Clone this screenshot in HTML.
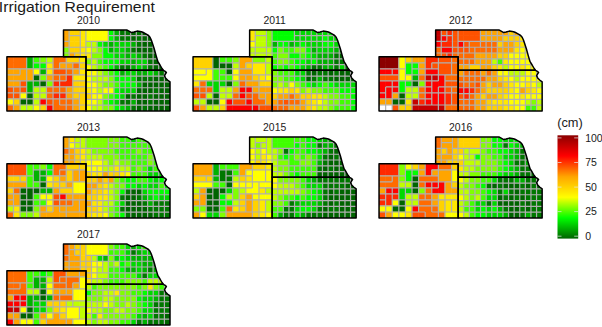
<!DOCTYPE html>
<html><head><meta charset="utf-8"><style>
html,body{margin:0;padding:0;background:#fff;}
body{width:602px;height:327px;overflow:hidden;}
svg{display:block;}
text{font-family:"Liberation Sans",sans-serif;fill:#1a1a1a;}
.yr{font-size:10.4px;text-anchor:middle;}
.lab{font-size:10.5px;}
.cm{font-size:12.8px;}
.title{font-size:14.8px;}
</style></head><body>
<svg width="602" height="327" viewBox="0 0 602 327">
<defs><clipPath id="cNE"><polygon points="63.5,29.9 126.7,29.9 129.0,31.2 131.6,32.6 134.0,32.0 137.1,31.1 141.4,31.7 144.0,32.8 146.3,34.2 148.5,35.5 150.0,37.2 151.3,40.0 152.4,43.3 154.2,48.8 156.1,55.6 157.9,61.7 160.0,65.0 162.0,68.5 163.3,70.3 86.0,70.3 86.0,56.8 63.5,56.8"/></clipPath><clipPath id="cKS"><polygon points="86.0,70.3 163.3,70.3 165.2,71.3 166.4,72.6 165.5,73.8 164.5,75.6 165.5,78.0 167.5,80.0 170.0,81.8 170.0,111.0 86.0,111.0"/></clipPath><clipPath id="cCO"><polygon points="6.9,56.8 86.0,56.8 86.0,111.0 6.9,111.0"/></clipPath><g id="grid" fill="none" stroke="#b0b0b0" stroke-width="1.2"><path clip-path="url(#cKS)" d="M91.60 70.35V111.00M97.20 70.35V111.00M102.80 70.35V111.00M108.40 70.35V111.00M114.00 70.35V111.00M119.60 70.35V111.00M125.20 70.35V111.00M130.80 70.35V111.00M136.40 70.35V111.00M142.00 70.35V111.00M147.60 70.35V111.00M153.20 70.35V111.00M158.80 70.35V111.00M164.40 70.35V111.00M86.00 76.16H170.00M86.00 81.96H170.00M86.00 87.77H170.00M86.00 93.58H170.00M86.00 99.39H170.00M86.00 105.19H170.00"/></g><g id="outl" fill="none" stroke="#000" stroke-width="1.5" stroke-linejoin="round"><polygon points="63.5,29.9 126.7,29.9 129.0,31.2 131.6,32.6 134.0,32.0 137.1,31.1 141.4,31.7 144.0,32.8 146.3,34.2 148.5,35.5 150.0,37.2 151.3,40.0 152.4,43.3 154.2,48.8 156.1,55.6 157.9,61.7 160.0,65.0 162.0,68.5 163.3,70.3 86.0,70.3 86.0,56.8 63.5,56.8"/><polygon points="86.0,70.3 163.3,70.3 165.2,71.3 166.4,72.6 165.5,73.8 164.5,75.6 165.5,78.0 167.5,80.0 170.0,81.8 170.0,111.0 86.0,111.0"/><polygon points="6.9,56.8 86.0,56.8 86.0,111.0 6.9,111.0"/></g></defs>
<text x="-1.1" y="12.1" class="title" transform="scale(1.066,1)">Irrigation Requirement</text>
<g transform="translate(0.00,0.00)"><text x="88.5" y="24.3" class="yr">2010</text><g clip-path="url(#cNE)"><rect x="63.25" y="29.65" width="6.10" height="6.28" fill="#ffa500"/><rect x="68.85" y="29.65" width="6.10" height="6.28" fill="#ffd200"/><rect x="74.45" y="29.65" width="6.10" height="6.28" fill="#ffd200"/><rect x="80.05" y="29.65" width="6.10" height="6.28" fill="#ffe800"/><rect x="85.65" y="29.65" width="6.10" height="6.28" fill="#ffff00"/><rect x="91.25" y="29.65" width="6.10" height="6.28" fill="#ffff00"/><rect x="96.85" y="29.65" width="6.10" height="6.28" fill="#ffff00"/><rect x="102.45" y="29.65" width="6.10" height="6.28" fill="#ffff00"/><rect x="108.05" y="29.65" width="6.10" height="6.28" fill="#00ff00"/><rect x="113.65" y="29.65" width="6.10" height="6.28" fill="#00b200"/><rect x="119.25" y="29.65" width="6.10" height="6.28" fill="#007700"/><rect x="124.85" y="29.65" width="6.10" height="6.28" fill="#007700"/><rect x="130.45" y="29.65" width="6.10" height="6.28" fill="#006400"/><rect x="136.05" y="29.65" width="6.10" height="6.28" fill="#007700"/><rect x="141.65" y="29.65" width="6.10" height="6.28" fill="#006400"/><rect x="147.25" y="29.65" width="6.10" height="6.28" fill="#006400"/><rect x="152.85" y="29.65" width="6.10" height="6.28" fill="#006400"/><rect x="158.45" y="29.65" width="6.10" height="6.28" fill="#006400"/><rect x="63.25" y="35.43" width="6.10" height="6.28" fill="#ffa500"/><rect x="68.85" y="35.43" width="6.10" height="6.28" fill="#ffd200"/><rect x="74.45" y="35.43" width="6.10" height="6.28" fill="#ffd200"/><rect x="80.05" y="35.43" width="6.10" height="6.28" fill="#ffe800"/><rect x="85.65" y="35.43" width="6.10" height="6.28" fill="#ffff00"/><rect x="91.25" y="35.43" width="6.10" height="6.28" fill="#ffff00"/><rect x="96.85" y="35.43" width="6.10" height="6.28" fill="#ffff00"/><rect x="102.45" y="35.43" width="6.10" height="6.28" fill="#ffff00"/><rect x="108.05" y="35.43" width="6.10" height="6.28" fill="#00ff00"/><rect x="113.65" y="35.43" width="6.10" height="6.28" fill="#00b200"/><rect x="119.25" y="35.43" width="6.10" height="6.28" fill="#007700"/><rect x="124.85" y="35.43" width="6.10" height="6.28" fill="#007700"/><rect x="130.45" y="35.43" width="6.10" height="6.28" fill="#006400"/><rect x="136.05" y="35.43" width="6.10" height="6.28" fill="#007700"/><rect x="141.65" y="35.43" width="6.10" height="6.28" fill="#006400"/><rect x="147.25" y="35.43" width="6.10" height="6.28" fill="#006400"/><rect x="152.85" y="35.43" width="6.10" height="6.28" fill="#006400"/><rect x="158.45" y="35.43" width="6.10" height="6.28" fill="#006400"/><rect x="63.25" y="41.21" width="6.10" height="6.28" fill="#ffa500"/><rect x="68.85" y="41.21" width="6.10" height="6.28" fill="#ffd200"/><rect x="74.45" y="41.21" width="6.10" height="6.28" fill="#ffd200"/><rect x="80.05" y="41.21" width="6.10" height="6.28" fill="#ffe800"/><rect x="85.65" y="41.21" width="6.10" height="6.28" fill="#bfff00"/><rect x="91.25" y="41.21" width="6.10" height="6.28" fill="#bfff00"/><rect x="96.85" y="41.21" width="6.10" height="6.28" fill="#00ff00"/><rect x="102.45" y="41.21" width="6.10" height="6.28" fill="#00d800"/><rect x="108.05" y="41.21" width="6.10" height="6.28" fill="#00b200"/><rect x="113.65" y="41.21" width="6.10" height="6.28" fill="#00d800"/><rect x="119.25" y="41.21" width="6.10" height="6.28" fill="#00d800"/><rect x="124.85" y="41.21" width="6.10" height="6.28" fill="#00d800"/><rect x="130.45" y="41.21" width="6.10" height="6.28" fill="#00b200"/><rect x="136.05" y="41.21" width="6.10" height="6.28" fill="#007700"/><rect x="141.65" y="41.21" width="6.10" height="6.28" fill="#006400"/><rect x="147.25" y="41.21" width="6.10" height="6.28" fill="#006400"/><rect x="152.85" y="41.21" width="6.10" height="6.28" fill="#006400"/><rect x="158.45" y="41.21" width="6.10" height="6.28" fill="#006400"/><rect x="63.25" y="46.99" width="6.10" height="6.28" fill="#80ff00"/><rect x="68.85" y="46.99" width="6.10" height="6.28" fill="#ffd200"/><rect x="74.45" y="46.99" width="6.10" height="6.28" fill="#ffd200"/><rect x="80.05" y="46.99" width="6.10" height="6.28" fill="#ffe800"/><rect x="85.65" y="46.99" width="6.10" height="6.28" fill="#ffff00"/><rect x="91.25" y="46.99" width="6.10" height="6.28" fill="#bfff00"/><rect x="96.85" y="46.99" width="6.10" height="6.28" fill="#80ff00"/><rect x="102.45" y="46.99" width="6.10" height="6.28" fill="#00ff00"/><rect x="108.05" y="46.99" width="6.10" height="6.28" fill="#00b200"/><rect x="113.65" y="46.99" width="6.10" height="6.28" fill="#00d800"/><rect x="119.25" y="46.99" width="6.10" height="6.28" fill="#00d800"/><rect x="124.85" y="46.99" width="6.10" height="6.28" fill="#00b200"/><rect x="130.45" y="46.99" width="6.10" height="6.28" fill="#007700"/><rect x="136.05" y="46.99" width="6.10" height="6.28" fill="#006400"/><rect x="141.65" y="46.99" width="6.10" height="6.28" fill="#006400"/><rect x="147.25" y="46.99" width="6.10" height="6.28" fill="#006400"/><rect x="152.85" y="46.99" width="6.10" height="6.28" fill="#006400"/><rect x="158.45" y="46.99" width="6.10" height="6.28" fill="#006400"/><rect x="63.25" y="52.76" width="6.10" height="6.28" fill="#80ff00"/><rect x="68.85" y="52.76" width="6.10" height="6.28" fill="#ffa500"/><rect x="74.45" y="52.76" width="6.10" height="6.28" fill="#ffd200"/><rect x="80.05" y="52.76" width="6.10" height="6.28" fill="#ffe800"/><rect x="85.65" y="52.76" width="6.10" height="6.28" fill="#ffe800"/><rect x="91.25" y="52.76" width="6.10" height="6.28" fill="#80ff00"/><rect x="96.85" y="52.76" width="6.10" height="6.28" fill="#80ff00"/><rect x="102.45" y="52.76" width="6.10" height="6.28" fill="#00ff00"/><rect x="108.05" y="52.76" width="6.10" height="6.28" fill="#00ff00"/><rect x="113.65" y="52.76" width="6.10" height="6.28" fill="#00d800"/><rect x="119.25" y="52.76" width="6.10" height="6.28" fill="#00d800"/><rect x="124.85" y="52.76" width="6.10" height="6.28" fill="#00b200"/><rect x="130.45" y="52.76" width="6.10" height="6.28" fill="#00d800"/><rect x="136.05" y="52.76" width="6.10" height="6.28" fill="#00b200"/><rect x="141.65" y="52.76" width="6.10" height="6.28" fill="#007700"/><rect x="147.25" y="52.76" width="6.10" height="6.28" fill="#006400"/><rect x="152.85" y="52.76" width="6.10" height="6.28" fill="#006400"/><rect x="158.45" y="52.76" width="6.10" height="6.28" fill="#006400"/><rect x="85.65" y="58.54" width="6.10" height="6.28" fill="#80ff00"/><rect x="91.25" y="58.54" width="6.10" height="6.28" fill="#bfff00"/><rect x="96.85" y="58.54" width="6.10" height="6.28" fill="#40ff00"/><rect x="102.45" y="58.54" width="6.10" height="6.28" fill="#00ff00"/><rect x="108.05" y="58.54" width="6.10" height="6.28" fill="#00ff00"/><rect x="113.65" y="58.54" width="6.10" height="6.28" fill="#00ff00"/><rect x="119.25" y="58.54" width="6.10" height="6.28" fill="#00d800"/><rect x="124.85" y="58.54" width="6.10" height="6.28" fill="#00d800"/><rect x="130.45" y="58.54" width="6.10" height="6.28" fill="#00b200"/><rect x="136.05" y="58.54" width="6.10" height="6.28" fill="#00d800"/><rect x="141.65" y="58.54" width="6.10" height="6.28" fill="#00d800"/><rect x="147.25" y="58.54" width="6.10" height="6.28" fill="#007700"/><rect x="152.85" y="58.54" width="6.10" height="6.28" fill="#006400"/><rect x="158.45" y="58.54" width="6.10" height="6.28" fill="#006400"/><rect x="85.65" y="64.32" width="6.10" height="6.28" fill="#ffff00"/><rect x="91.25" y="64.32" width="6.10" height="6.28" fill="#bfff00"/><rect x="96.85" y="64.32" width="6.10" height="6.28" fill="#80ff00"/><rect x="102.45" y="64.32" width="6.10" height="6.28" fill="#40ff00"/><rect x="108.05" y="64.32" width="6.10" height="6.28" fill="#00ff00"/><rect x="113.65" y="64.32" width="6.10" height="6.28" fill="#00b200"/><rect x="119.25" y="64.32" width="6.10" height="6.28" fill="#007700"/><rect x="124.85" y="64.32" width="6.10" height="6.28" fill="#007700"/><rect x="130.45" y="64.32" width="6.10" height="6.28" fill="#00b200"/><rect x="136.05" y="64.32" width="6.10" height="6.28" fill="#00d800"/><rect x="141.65" y="64.32" width="6.10" height="6.28" fill="#00b200"/><rect x="147.25" y="64.32" width="6.10" height="6.28" fill="#007700"/><rect x="152.85" y="64.32" width="6.10" height="6.28" fill="#006400"/><rect x="158.45" y="64.32" width="6.10" height="6.28" fill="#006400"/></g><g clip-path="url(#cKS)"><rect x="85.75" y="70.10" width="6.10" height="6.31" fill="#ffff00"/><rect x="91.35" y="70.10" width="6.10" height="6.31" fill="#ffff00"/><rect x="96.95" y="70.10" width="6.10" height="6.31" fill="#bfff00"/><rect x="102.55" y="70.10" width="6.10" height="6.31" fill="#80ff00"/><rect x="108.15" y="70.10" width="6.10" height="6.31" fill="#40ff00"/><rect x="113.75" y="70.10" width="6.10" height="6.31" fill="#00ff00"/><rect x="119.35" y="70.10" width="6.10" height="6.31" fill="#00b200"/><rect x="124.95" y="70.10" width="6.10" height="6.31" fill="#00d800"/><rect x="130.55" y="70.10" width="6.10" height="6.31" fill="#00d800"/><rect x="136.15" y="70.10" width="6.10" height="6.31" fill="#00b200"/><rect x="141.75" y="70.10" width="6.10" height="6.31" fill="#00b200"/><rect x="147.35" y="70.10" width="6.10" height="6.31" fill="#00d800"/><rect x="152.95" y="70.10" width="6.10" height="6.31" fill="#00b200"/><rect x="158.55" y="70.10" width="6.10" height="6.31" fill="#007700"/><rect x="164.15" y="70.10" width="6.10" height="6.31" fill="#006400"/><rect x="85.75" y="75.91" width="6.10" height="6.31" fill="#ffff00"/><rect x="91.35" y="75.91" width="6.10" height="6.31" fill="#bfff00"/><rect x="96.95" y="75.91" width="6.10" height="6.31" fill="#bfff00"/><rect x="102.55" y="75.91" width="6.10" height="6.31" fill="#bfff00"/><rect x="108.15" y="75.91" width="6.10" height="6.31" fill="#80ff00"/><rect x="113.75" y="75.91" width="6.10" height="6.31" fill="#00ff00"/><rect x="119.35" y="75.91" width="6.10" height="6.31" fill="#00ff00"/><rect x="124.95" y="75.91" width="6.10" height="6.31" fill="#00ff00"/><rect x="130.55" y="75.91" width="6.10" height="6.31" fill="#00d800"/><rect x="136.15" y="75.91" width="6.10" height="6.31" fill="#007700"/><rect x="141.75" y="75.91" width="6.10" height="6.31" fill="#007700"/><rect x="147.35" y="75.91" width="6.10" height="6.31" fill="#007700"/><rect x="152.95" y="75.91" width="6.10" height="6.31" fill="#006400"/><rect x="158.55" y="75.91" width="6.10" height="6.31" fill="#006400"/><rect x="164.15" y="75.91" width="6.10" height="6.31" fill="#006400"/><rect x="85.75" y="81.71" width="6.10" height="6.31" fill="#ffff00"/><rect x="91.35" y="81.71" width="6.10" height="6.31" fill="#ffff00"/><rect x="96.95" y="81.71" width="6.10" height="6.31" fill="#bfff00"/><rect x="102.55" y="81.71" width="6.10" height="6.31" fill="#80ff00"/><rect x="108.15" y="81.71" width="6.10" height="6.31" fill="#80ff00"/><rect x="113.75" y="81.71" width="6.10" height="6.31" fill="#40ff00"/><rect x="119.35" y="81.71" width="6.10" height="6.31" fill="#00ff00"/><rect x="124.95" y="81.71" width="6.10" height="6.31" fill="#00ff00"/><rect x="130.55" y="81.71" width="6.10" height="6.31" fill="#00ff00"/><rect x="136.15" y="81.71" width="6.10" height="6.31" fill="#00b200"/><rect x="141.75" y="81.71" width="6.10" height="6.31" fill="#006400"/><rect x="147.35" y="81.71" width="6.10" height="6.31" fill="#006400"/><rect x="152.95" y="81.71" width="6.10" height="6.31" fill="#006400"/><rect x="158.55" y="81.71" width="6.10" height="6.31" fill="#006400"/><rect x="164.15" y="81.71" width="6.10" height="6.31" fill="#006400"/><rect x="85.75" y="87.52" width="6.10" height="6.31" fill="#ffe800"/><rect x="91.35" y="87.52" width="6.10" height="6.31" fill="#ffff00"/><rect x="96.95" y="87.52" width="6.10" height="6.31" fill="#bfff00"/><rect x="102.55" y="87.52" width="6.10" height="6.31" fill="#ffff00"/><rect x="108.15" y="87.52" width="6.10" height="6.31" fill="#ffff00"/><rect x="113.75" y="87.52" width="6.10" height="6.31" fill="#00ff00"/><rect x="119.35" y="87.52" width="6.10" height="6.31" fill="#00d800"/><rect x="124.95" y="87.52" width="6.10" height="6.31" fill="#00d800"/><rect x="130.55" y="87.52" width="6.10" height="6.31" fill="#00d800"/><rect x="136.15" y="87.52" width="6.10" height="6.31" fill="#006400"/><rect x="141.75" y="87.52" width="6.10" height="6.31" fill="#006400"/><rect x="147.35" y="87.52" width="6.10" height="6.31" fill="#006400"/><rect x="152.95" y="87.52" width="6.10" height="6.31" fill="#007700"/><rect x="158.55" y="87.52" width="6.10" height="6.31" fill="#006400"/><rect x="164.15" y="87.52" width="6.10" height="6.31" fill="#006400"/><rect x="85.75" y="93.33" width="6.10" height="6.31" fill="#ffd200"/><rect x="91.35" y="93.33" width="6.10" height="6.31" fill="#ffff00"/><rect x="96.95" y="93.33" width="6.10" height="6.31" fill="#ffff00"/><rect x="102.55" y="93.33" width="6.10" height="6.31" fill="#80ff00"/><rect x="108.15" y="93.33" width="6.10" height="6.31" fill="#40ff00"/><rect x="113.75" y="93.33" width="6.10" height="6.31" fill="#00ff00"/><rect x="119.35" y="93.33" width="6.10" height="6.31" fill="#00d800"/><rect x="124.95" y="93.33" width="6.10" height="6.31" fill="#006400"/><rect x="130.55" y="93.33" width="6.10" height="6.31" fill="#007700"/><rect x="136.15" y="93.33" width="6.10" height="6.31" fill="#006400"/><rect x="141.75" y="93.33" width="6.10" height="6.31" fill="#006400"/><rect x="147.35" y="93.33" width="6.10" height="6.31" fill="#007700"/><rect x="152.95" y="93.33" width="6.10" height="6.31" fill="#006400"/><rect x="158.55" y="93.33" width="6.10" height="6.31" fill="#006400"/><rect x="164.15" y="93.33" width="6.10" height="6.31" fill="#006400"/><rect x="85.75" y="99.14" width="6.10" height="6.31" fill="#ffff00"/><rect x="91.35" y="99.14" width="6.10" height="6.31" fill="#ffff00"/><rect x="96.95" y="99.14" width="6.10" height="6.31" fill="#bfff00"/><rect x="102.55" y="99.14" width="6.10" height="6.31" fill="#40ff00"/><rect x="108.15" y="99.14" width="6.10" height="6.31" fill="#00ff00"/><rect x="113.75" y="99.14" width="6.10" height="6.31" fill="#00d800"/><rect x="119.35" y="99.14" width="6.10" height="6.31" fill="#007700"/><rect x="124.95" y="99.14" width="6.10" height="6.31" fill="#007700"/><rect x="130.55" y="99.14" width="6.10" height="6.31" fill="#00b200"/><rect x="136.15" y="99.14" width="6.10" height="6.31" fill="#006400"/><rect x="141.75" y="99.14" width="6.10" height="6.31" fill="#006400"/><rect x="147.35" y="99.14" width="6.10" height="6.31" fill="#007700"/><rect x="152.95" y="99.14" width="6.10" height="6.31" fill="#006400"/><rect x="158.55" y="99.14" width="6.10" height="6.31" fill="#006400"/><rect x="164.15" y="99.14" width="6.10" height="6.31" fill="#006400"/><rect x="85.75" y="104.94" width="6.10" height="6.31" fill="#ffff00"/><rect x="91.35" y="104.94" width="6.10" height="6.31" fill="#bfff00"/><rect x="96.95" y="104.94" width="6.10" height="6.31" fill="#bfff00"/><rect x="102.55" y="104.94" width="6.10" height="6.31" fill="#80ff00"/><rect x="108.15" y="104.94" width="6.10" height="6.31" fill="#80ff00"/><rect x="113.75" y="104.94" width="6.10" height="6.31" fill="#00ff00"/><rect x="119.35" y="104.94" width="6.10" height="6.31" fill="#00d800"/><rect x="124.95" y="104.94" width="6.10" height="6.31" fill="#00b200"/><rect x="130.55" y="104.94" width="6.10" height="6.31" fill="#007700"/><rect x="136.15" y="104.94" width="6.10" height="6.31" fill="#006400"/><rect x="141.75" y="104.94" width="6.10" height="6.31" fill="#007700"/><rect x="147.35" y="104.94" width="6.10" height="6.31" fill="#006400"/><rect x="152.95" y="104.94" width="6.10" height="6.31" fill="#006400"/><rect x="158.55" y="104.94" width="6.10" height="6.31" fill="#006400"/><rect x="164.15" y="104.94" width="6.10" height="6.31" fill="#006400"/></g><g clip-path="url(#cCO)"><rect x="6.65" y="56.55" width="7.09" height="6.52" fill="#ff6b00"/><rect x="13.24" y="56.55" width="7.09" height="6.52" fill="#ff6b00"/><rect x="19.83" y="56.55" width="7.09" height="6.52" fill="#ff6b00"/><rect x="26.42" y="56.55" width="7.09" height="6.52" fill="#00b200"/><rect x="33.02" y="56.55" width="7.09" height="6.52" fill="#40ff00"/><rect x="39.61" y="56.55" width="7.09" height="6.52" fill="#80ff00"/><rect x="46.20" y="56.55" width="7.09" height="6.52" fill="#bfff00"/><rect x="52.79" y="56.55" width="7.09" height="6.52" fill="#ff6b00"/><rect x="59.38" y="56.55" width="7.09" height="6.52" fill="#ff6b00"/><rect x="65.97" y="56.55" width="7.09" height="6.52" fill="#ffd200"/><rect x="72.57" y="56.55" width="7.09" height="6.52" fill="#ffd200"/><rect x="79.16" y="56.55" width="7.09" height="6.52" fill="#ffe800"/><rect x="6.65" y="62.57" width="7.09" height="6.52" fill="#ff6b00"/><rect x="13.24" y="62.57" width="7.09" height="6.52" fill="#ff6b00"/><rect x="19.83" y="62.57" width="7.09" height="6.52" fill="#ff6b00"/><rect x="26.42" y="62.57" width="7.09" height="6.52" fill="#00b200"/><rect x="33.02" y="62.57" width="7.09" height="6.52" fill="#00ff00"/><rect x="39.61" y="62.57" width="7.09" height="6.52" fill="#00ff00"/><rect x="46.20" y="62.57" width="7.09" height="6.52" fill="#ffe800"/><rect x="52.79" y="62.57" width="7.09" height="6.52" fill="#ff6b00"/><rect x="59.38" y="62.57" width="7.09" height="6.52" fill="#ffa500"/><rect x="65.97" y="62.57" width="7.09" height="6.52" fill="#ffa500"/><rect x="72.57" y="62.57" width="7.09" height="6.52" fill="#ff6b00"/><rect x="79.16" y="62.57" width="7.09" height="6.52" fill="#ffd200"/><rect x="6.65" y="68.59" width="7.09" height="6.52" fill="#ffa500"/><rect x="13.24" y="68.59" width="7.09" height="6.52" fill="#ffa500"/><rect x="19.83" y="68.59" width="7.09" height="6.52" fill="#ffa500"/><rect x="26.42" y="68.59" width="7.09" height="6.52" fill="#ffa500"/><rect x="33.02" y="68.59" width="7.09" height="6.52" fill="#ffff00"/><rect x="39.61" y="68.59" width="7.09" height="6.52" fill="#00b200"/><rect x="46.20" y="68.59" width="7.09" height="6.52" fill="#ffe800"/><rect x="52.79" y="68.59" width="7.09" height="6.52" fill="#ff5200"/><rect x="59.38" y="68.59" width="7.09" height="6.52" fill="#ff5200"/><rect x="65.97" y="68.59" width="7.09" height="6.52" fill="#ff6b00"/><rect x="72.57" y="68.59" width="7.09" height="6.52" fill="#ffa500"/><rect x="79.16" y="68.59" width="7.09" height="6.52" fill="#ffe800"/><rect x="6.65" y="74.62" width="7.09" height="6.52" fill="#ffa500"/><rect x="13.24" y="74.62" width="7.09" height="6.52" fill="#ffa500"/><rect x="19.83" y="74.62" width="7.09" height="6.52" fill="#ffa500"/><rect x="26.42" y="74.62" width="7.09" height="6.52" fill="#ffa500"/><rect x="33.02" y="74.62" width="7.09" height="6.52" fill="#006400"/><rect x="39.61" y="74.62" width="7.09" height="6.52" fill="#80ff00"/><rect x="46.20" y="74.62" width="7.09" height="6.52" fill="#ffa500"/><rect x="52.79" y="74.62" width="7.09" height="6.52" fill="#ff6b00"/><rect x="59.38" y="74.62" width="7.09" height="6.52" fill="#ff6b00"/><rect x="65.97" y="74.62" width="7.09" height="6.52" fill="#ff2900"/><rect x="72.57" y="74.62" width="7.09" height="6.52" fill="#ffe800"/><rect x="79.16" y="74.62" width="7.09" height="6.52" fill="#ffe800"/><rect x="6.65" y="80.64" width="7.09" height="6.52" fill="#ffa500"/><rect x="13.24" y="80.64" width="7.09" height="6.52" fill="#ffa500"/><rect x="19.83" y="80.64" width="7.09" height="6.52" fill="#ff5200"/><rect x="26.42" y="80.64" width="7.09" height="6.52" fill="#00b200"/><rect x="33.02" y="80.64" width="7.09" height="6.52" fill="#00b200"/><rect x="39.61" y="80.64" width="7.09" height="6.52" fill="#006400"/><rect x="46.20" y="80.64" width="7.09" height="6.52" fill="#80ff00"/><rect x="52.79" y="80.64" width="7.09" height="6.52" fill="#ff2900"/><rect x="59.38" y="80.64" width="7.09" height="6.52" fill="#ff2900"/><rect x="65.97" y="80.64" width="7.09" height="6.52" fill="#ff2900"/><rect x="72.57" y="80.64" width="7.09" height="6.52" fill="#ffd200"/><rect x="79.16" y="80.64" width="7.09" height="6.52" fill="#ffd200"/><rect x="6.65" y="86.66" width="7.09" height="6.52" fill="#ff5200"/><rect x="13.24" y="86.66" width="7.09" height="6.52" fill="#ff6b00"/><rect x="19.83" y="86.66" width="7.09" height="6.52" fill="#ff5200"/><rect x="26.42" y="86.66" width="7.09" height="6.52" fill="#00b200"/><rect x="33.02" y="86.66" width="7.09" height="6.52" fill="#bfff00"/><rect x="39.61" y="86.66" width="7.09" height="6.52" fill="#bfff00"/><rect x="46.20" y="86.66" width="7.09" height="6.52" fill="#ff6b00"/><rect x="52.79" y="86.66" width="7.09" height="6.52" fill="#ff6b00"/><rect x="59.38" y="86.66" width="7.09" height="6.52" fill="#ff6b00"/><rect x="65.97" y="86.66" width="7.09" height="6.52" fill="#ffa500"/><rect x="72.57" y="86.66" width="7.09" height="6.52" fill="#ffd200"/><rect x="79.16" y="86.66" width="7.09" height="6.52" fill="#ffd200"/><rect x="6.65" y="92.68" width="7.09" height="6.52" fill="#ff5200"/><rect x="13.24" y="92.68" width="7.09" height="6.52" fill="#ff5200"/><rect x="19.83" y="92.68" width="7.09" height="6.52" fill="#ffff00"/><rect x="26.42" y="92.68" width="7.09" height="6.52" fill="#006400"/><rect x="33.02" y="92.68" width="7.09" height="6.52" fill="#bfff00"/><rect x="39.61" y="92.68" width="7.09" height="6.52" fill="#bfff00"/><rect x="46.20" y="92.68" width="7.09" height="6.52" fill="#ff6b00"/><rect x="52.79" y="92.68" width="7.09" height="6.52" fill="#ff2900"/><rect x="59.38" y="92.68" width="7.09" height="6.52" fill="#ff2900"/><rect x="65.97" y="92.68" width="7.09" height="6.52" fill="#ffa500"/><rect x="72.57" y="92.68" width="7.09" height="6.52" fill="#ffd200"/><rect x="79.16" y="92.68" width="7.09" height="6.52" fill="#ffd200"/><rect x="6.65" y="98.71" width="7.09" height="6.52" fill="#ffff00"/><rect x="13.24" y="98.71" width="7.09" height="6.52" fill="#ffd200"/><rect x="19.83" y="98.71" width="7.09" height="6.52" fill="#006400"/><rect x="26.42" y="98.71" width="7.09" height="6.52" fill="#006400"/><rect x="33.02" y="98.71" width="7.09" height="6.52" fill="#bfff00"/><rect x="39.61" y="98.71" width="7.09" height="6.52" fill="#ff0000"/><rect x="46.20" y="98.71" width="7.09" height="6.52" fill="#ff5200"/><rect x="52.79" y="98.71" width="7.09" height="6.52" fill="#ff6b00"/><rect x="59.38" y="98.71" width="7.09" height="6.52" fill="#ff6b00"/><rect x="65.97" y="98.71" width="7.09" height="6.52" fill="#ff6b00"/><rect x="72.57" y="98.71" width="7.09" height="6.52" fill="#ffa500"/><rect x="79.16" y="98.71" width="7.09" height="6.52" fill="#ffd200"/><rect x="6.65" y="104.73" width="7.09" height="6.52" fill="#ff6b00"/><rect x="13.24" y="104.73" width="7.09" height="6.52" fill="#ffa500"/><rect x="19.83" y="104.73" width="7.09" height="6.52" fill="#bfff00"/><rect x="26.42" y="104.73" width="7.09" height="6.52" fill="#bfff00"/><rect x="33.02" y="104.73" width="7.09" height="6.52" fill="#ffff00"/><rect x="39.61" y="104.73" width="7.09" height="6.52" fill="#ffd200"/><rect x="46.20" y="104.73" width="7.09" height="6.52" fill="#ff0000"/><rect x="52.79" y="104.73" width="7.09" height="6.52" fill="#ff6b00"/><rect x="59.38" y="104.73" width="7.09" height="6.52" fill="#ff6b00"/><rect x="65.97" y="104.73" width="7.09" height="6.52" fill="#ff6b00"/><rect x="72.57" y="104.73" width="7.09" height="6.52" fill="#ffa500"/><rect x="79.16" y="104.73" width="7.09" height="6.52" fill="#ffd200"/></g><g fill="none" stroke="#b0b0b0" stroke-width="1.2"><path clip-path="url(#cNE)" d="M69.10 29.90v5.78M80.30 29.90v5.78M85.90 29.90v5.78M108.30 29.90v5.78M113.90 29.90v5.78M119.50 29.90v5.78M125.10 29.90v5.78M130.70 29.90v5.78M136.30 29.90v5.78M141.90 29.90v5.78M147.50 29.90v5.78M153.10 29.90v5.78M158.70 29.90v5.78M69.10 35.68v5.78M80.30 35.68v5.78M85.90 35.68v5.78M108.30 35.68v5.78M113.90 35.68v5.78M119.50 35.68v5.78M125.10 35.68v5.78M130.70 35.68v5.78M136.30 35.68v5.78M141.90 35.68v5.78M147.50 35.68v5.78M153.10 35.68v5.78M158.70 35.68v5.78M69.10 41.46v5.78M80.30 41.46v5.78M85.90 41.46v5.78M91.50 41.46v5.78M97.10 41.46v5.78M102.70 41.46v5.78M108.30 41.46v5.78M113.90 41.46v5.78M119.50 41.46v5.78M125.10 41.46v5.78M130.70 41.46v5.78M136.30 41.46v5.78M141.90 41.46v5.78M147.50 41.46v5.78M153.10 41.46v5.78M158.70 41.46v5.78M69.10 47.24v5.78M80.30 47.24v5.78M85.90 47.24v5.78M91.50 47.24v5.78M97.10 47.24v5.78M102.70 47.24v5.78M108.30 47.24v5.78M113.90 47.24v5.78M119.50 47.24v5.78M125.10 47.24v5.78M130.70 47.24v5.78M136.30 47.24v5.78M141.90 47.24v5.78M147.50 47.24v5.78M153.10 47.24v5.78M158.70 47.24v5.78M69.10 53.01v5.78M74.70 53.01v5.78M80.30 53.01v5.78M85.90 53.01v5.78M91.50 53.01v5.78M102.70 53.01v5.78M113.90 53.01v5.78M119.50 53.01v5.78M125.10 53.01v5.78M130.70 53.01v5.78M136.30 53.01v5.78M141.90 53.01v5.78M147.50 53.01v5.78M153.10 53.01v5.78M158.70 53.01v5.78M91.50 58.79v5.78M97.10 58.79v5.78M102.70 58.79v5.78M108.30 58.79v5.78M113.90 58.79v5.78M119.50 58.79v5.78M125.10 58.79v5.78M130.70 58.79v5.78M136.30 58.79v5.78M141.90 58.79v5.78M147.50 58.79v5.78M153.10 58.79v5.78M158.70 58.79v5.78M91.50 64.57v5.78M97.10 64.57v5.78M102.70 64.57v5.78M108.30 64.57v5.78M113.90 64.57v5.78M119.50 64.57v5.78M125.10 64.57v5.78M130.70 64.57v5.78M136.30 64.57v5.78M141.90 64.57v5.78M147.50 64.57v5.78M153.10 64.57v5.78M158.70 64.57v5.78M69.10 35.68h5.60M74.70 35.68h5.60M108.30 35.68h5.60M113.90 35.68h5.60M119.50 35.68h5.60M125.10 35.68h5.60M130.70 35.68h5.60M136.30 35.68h5.60M141.90 35.68h5.60M147.50 35.68h5.60M153.10 35.68h5.60M158.70 35.68h5.60M63.50 41.46h5.60M85.90 41.46h5.60M91.50 41.46h5.60M97.10 41.46h5.60M102.70 41.46h5.60M108.30 41.46h5.60M113.90 41.46h5.60M119.50 41.46h5.60M125.10 41.46h5.60M130.70 41.46h5.60M136.30 41.46h5.60M141.90 41.46h5.60M147.50 41.46h5.60M153.10 41.46h5.60M158.70 41.46h5.60M63.50 47.24h5.60M69.10 47.24h5.60M74.70 47.24h5.60M80.30 47.24h5.60M85.90 47.24h5.60M91.50 47.24h5.60M97.10 47.24h5.60M102.70 47.24h5.60M108.30 47.24h5.60M113.90 47.24h5.60M119.50 47.24h5.60M125.10 47.24h5.60M130.70 47.24h5.60M136.30 47.24h5.60M141.90 47.24h5.60M147.50 47.24h5.60M153.10 47.24h5.60M158.70 47.24h5.60M63.50 53.01h5.60M69.10 53.01h5.60M74.70 53.01h5.60M80.30 53.01h5.60M85.90 53.01h5.60M91.50 53.01h5.60M97.10 53.01h5.60M108.30 53.01h5.60M113.90 53.01h5.60M119.50 53.01h5.60M125.10 53.01h5.60M130.70 53.01h5.60M136.30 53.01h5.60M141.90 53.01h5.60M147.50 53.01h5.60M153.10 53.01h5.60M158.70 53.01h5.60M85.90 58.79h5.60M91.50 58.79h5.60M97.10 58.79h5.60M102.70 58.79h5.60M108.30 58.79h5.60M113.90 58.79h5.60M119.50 58.79h5.60M125.10 58.79h5.60M130.70 58.79h5.60M136.30 58.79h5.60M141.90 58.79h5.60M147.50 58.79h5.60M153.10 58.79h5.60M158.70 58.79h5.60M85.90 64.57h5.60M91.50 64.57h5.60M97.10 64.57h5.60M102.70 64.57h5.60M108.30 64.57h5.60M113.90 64.57h5.60M119.50 64.57h5.60M125.10 64.57h5.60M130.70 64.57h5.60M136.30 64.57h5.60M141.90 64.57h5.60M147.50 64.57h5.60M153.10 64.57h5.60M158.70 64.57h5.60"/><path clip-path="url(#cCO)" d="M26.67 56.80v6.02M33.27 56.80v6.02M39.86 56.80v6.02M46.45 56.80v6.02M53.04 56.80v6.02M66.22 56.80v6.02M79.41 56.80v6.02M26.67 62.82v6.02M33.27 62.82v6.02M39.86 62.82v6.02M46.45 62.82v6.02M53.04 62.82v6.02M59.63 62.82v6.02M66.22 62.82v6.02M72.82 62.82v6.02M79.41 62.82v6.02M20.08 68.84v6.02M26.67 68.84v6.02M33.27 68.84v6.02M39.86 68.84v6.02M46.45 68.84v6.02M53.04 68.84v6.02M66.22 68.84v6.02M72.82 68.84v6.02M79.41 68.84v6.02M26.67 74.87v6.02M33.27 74.87v6.02M39.86 74.87v6.02M46.45 74.87v6.02M53.04 74.87v6.02M59.63 74.87v6.02M66.22 74.87v6.02M72.82 74.87v6.02M20.08 80.89v6.02M26.67 80.89v6.02M33.27 80.89v6.02M39.86 80.89v6.02M46.45 80.89v6.02M53.04 80.89v6.02M59.63 80.89v6.02M72.82 80.89v6.02M13.49 86.91v6.02M20.08 86.91v6.02M26.67 86.91v6.02M33.27 86.91v6.02M39.86 86.91v6.02M46.45 86.91v6.02M53.04 86.91v6.02M59.63 86.91v6.02M66.22 86.91v6.02M72.82 86.91v6.02M13.49 92.93v6.02M20.08 92.93v6.02M26.67 92.93v6.02M33.27 92.93v6.02M39.86 92.93v6.02M46.45 92.93v6.02M53.04 92.93v6.02M59.63 92.93v6.02M66.22 92.93v6.02M72.82 92.93v6.02M79.41 92.93v6.02M13.49 98.96v6.02M20.08 98.96v6.02M26.67 98.96v6.02M33.27 98.96v6.02M39.86 98.96v6.02M46.45 98.96v6.02M53.04 98.96v6.02M59.63 98.96v6.02M66.22 98.96v6.02M72.82 98.96v6.02M79.41 98.96v6.02M13.49 104.98v6.02M20.08 104.98v6.02M26.67 104.98v6.02M33.27 104.98v6.02M39.86 104.98v6.02M46.45 104.98v6.02M53.04 104.98v6.02M66.22 104.98v6.02M72.82 104.98v6.02M79.41 104.98v6.02M33.27 62.82h6.59M39.86 62.82h6.59M46.45 62.82h6.59M59.63 62.82h6.59M66.22 62.82h6.59M72.82 62.82h6.59M79.41 62.82h6.59M6.90 68.84h6.59M13.49 68.84h6.59M20.08 68.84h6.59M26.67 68.84h6.59M33.27 68.84h6.59M39.86 68.84h6.59M46.45 68.84h6.59M53.04 68.84h6.59M59.63 68.84h6.59M66.22 68.84h6.59M72.82 68.84h6.59M79.41 68.84h6.59M6.90 74.87h6.59M13.49 74.87h6.59M33.27 74.87h6.59M39.86 74.87h6.59M46.45 74.87h6.59M53.04 74.87h6.59M59.63 74.87h6.59M66.22 74.87h6.59M72.82 74.87h6.59M79.41 74.87h6.59M6.90 80.89h6.59M13.49 80.89h6.59M20.08 80.89h6.59M26.67 80.89h6.59M33.27 80.89h6.59M39.86 80.89h6.59M46.45 80.89h6.59M53.04 80.89h6.59M59.63 80.89h6.59M72.82 80.89h6.59M79.41 80.89h6.59M6.90 86.91h6.59M13.49 86.91h6.59M20.08 86.91h6.59M33.27 86.91h6.59M39.86 86.91h6.59M46.45 86.91h6.59M53.04 86.91h6.59M59.63 86.91h6.59M66.22 86.91h6.59M72.82 86.91h6.59M79.41 86.91h6.59M6.90 92.93h6.59M13.49 92.93h6.59M20.08 92.93h6.59M26.67 92.93h6.59M33.27 92.93h6.59M39.86 92.93h6.59M46.45 92.93h6.59M53.04 92.93h6.59M59.63 92.93h6.59M66.22 92.93h6.59M72.82 92.93h6.59M79.41 92.93h6.59M6.90 98.96h6.59M13.49 98.96h6.59M20.08 98.96h6.59M26.67 98.96h6.59M33.27 98.96h6.59M39.86 98.96h6.59M46.45 98.96h6.59M53.04 98.96h6.59M59.63 98.96h6.59M66.22 98.96h6.59M72.82 98.96h6.59M6.90 104.98h6.59M13.49 104.98h6.59M20.08 104.98h6.59M26.67 104.98h6.59M33.27 104.98h6.59M39.86 104.98h6.59M46.45 104.98h6.59M59.63 104.98h6.59M66.22 104.98h6.59M72.82 104.98h6.59M79.41 104.98h6.59"/></g><use href="#grid"/><use href="#outl"/></g>
<g transform="translate(186.15,0.00)"><text x="88.5" y="24.3" class="yr">2011</text><g clip-path="url(#cNE)"><rect x="63.25" y="29.65" width="6.10" height="6.28" fill="#ffe800"/><rect x="68.85" y="29.65" width="6.10" height="6.28" fill="#bfff00"/><rect x="74.45" y="29.65" width="6.10" height="6.28" fill="#bfff00"/><rect x="80.05" y="29.65" width="6.10" height="6.28" fill="#80ff00"/><rect x="85.65" y="29.65" width="6.10" height="6.28" fill="#00ff00"/><rect x="91.25" y="29.65" width="6.10" height="6.28" fill="#00ff00"/><rect x="96.85" y="29.65" width="6.10" height="6.28" fill="#00ff00"/><rect x="102.45" y="29.65" width="6.10" height="6.28" fill="#00ff00"/><rect x="108.05" y="29.65" width="6.10" height="6.28" fill="#00d800"/><rect x="113.65" y="29.65" width="6.10" height="6.28" fill="#00d800"/><rect x="119.25" y="29.65" width="6.10" height="6.28" fill="#00d800"/><rect x="124.85" y="29.65" width="6.10" height="6.28" fill="#00d800"/><rect x="130.45" y="29.65" width="6.10" height="6.28" fill="#00d800"/><rect x="136.05" y="29.65" width="6.10" height="6.28" fill="#00d800"/><rect x="141.65" y="29.65" width="6.10" height="6.28" fill="#00ff00"/><rect x="147.25" y="29.65" width="6.10" height="6.28" fill="#00d800"/><rect x="152.85" y="29.65" width="6.10" height="6.28" fill="#00d800"/><rect x="158.45" y="29.65" width="6.10" height="6.28" fill="#00d800"/><rect x="63.25" y="35.43" width="6.10" height="6.28" fill="#ffe800"/><rect x="68.85" y="35.43" width="6.10" height="6.28" fill="#bfff00"/><rect x="74.45" y="35.43" width="6.10" height="6.28" fill="#bfff00"/><rect x="80.05" y="35.43" width="6.10" height="6.28" fill="#80ff00"/><rect x="85.65" y="35.43" width="6.10" height="6.28" fill="#00ff00"/><rect x="91.25" y="35.43" width="6.10" height="6.28" fill="#00ff00"/><rect x="96.85" y="35.43" width="6.10" height="6.28" fill="#00ff00"/><rect x="102.45" y="35.43" width="6.10" height="6.28" fill="#00ff00"/><rect x="108.05" y="35.43" width="6.10" height="6.28" fill="#00d800"/><rect x="113.65" y="35.43" width="6.10" height="6.28" fill="#00d800"/><rect x="119.25" y="35.43" width="6.10" height="6.28" fill="#00d800"/><rect x="124.85" y="35.43" width="6.10" height="6.28" fill="#00d800"/><rect x="130.45" y="35.43" width="6.10" height="6.28" fill="#00d800"/><rect x="136.05" y="35.43" width="6.10" height="6.28" fill="#00ff00"/><rect x="141.65" y="35.43" width="6.10" height="6.28" fill="#00d800"/><rect x="147.25" y="35.43" width="6.10" height="6.28" fill="#00d800"/><rect x="152.85" y="35.43" width="6.10" height="6.28" fill="#00d800"/><rect x="158.45" y="35.43" width="6.10" height="6.28" fill="#00d800"/><rect x="63.25" y="41.21" width="6.10" height="6.28" fill="#ffff00"/><rect x="68.85" y="41.21" width="6.10" height="6.28" fill="#bfff00"/><rect x="74.45" y="41.21" width="6.10" height="6.28" fill="#bfff00"/><rect x="80.05" y="41.21" width="6.10" height="6.28" fill="#80ff00"/><rect x="85.65" y="41.21" width="6.10" height="6.28" fill="#00b200"/><rect x="91.25" y="41.21" width="6.10" height="6.28" fill="#00ff00"/><rect x="96.85" y="41.21" width="6.10" height="6.28" fill="#00ff00"/><rect x="102.45" y="41.21" width="6.10" height="6.28" fill="#00b200"/><rect x="108.05" y="41.21" width="6.10" height="6.28" fill="#00d800"/><rect x="113.65" y="41.21" width="6.10" height="6.28" fill="#00ff00"/><rect x="119.25" y="41.21" width="6.10" height="6.28" fill="#00d800"/><rect x="124.85" y="41.21" width="6.10" height="6.28" fill="#00d800"/><rect x="130.45" y="41.21" width="6.10" height="6.28" fill="#00d800"/><rect x="136.05" y="41.21" width="6.10" height="6.28" fill="#00ff00"/><rect x="141.65" y="41.21" width="6.10" height="6.28" fill="#00ff00"/><rect x="147.25" y="41.21" width="6.10" height="6.28" fill="#00d800"/><rect x="152.85" y="41.21" width="6.10" height="6.28" fill="#00b200"/><rect x="158.45" y="41.21" width="6.10" height="6.28" fill="#00b200"/><rect x="63.25" y="46.99" width="6.10" height="6.28" fill="#bfff00"/><rect x="68.85" y="46.99" width="6.10" height="6.28" fill="#bfff00"/><rect x="74.45" y="46.99" width="6.10" height="6.28" fill="#bfff00"/><rect x="80.05" y="46.99" width="6.10" height="6.28" fill="#bfff00"/><rect x="85.65" y="46.99" width="6.10" height="6.28" fill="#00ff00"/><rect x="91.25" y="46.99" width="6.10" height="6.28" fill="#80ff00"/><rect x="96.85" y="46.99" width="6.10" height="6.28" fill="#40ff00"/><rect x="102.45" y="46.99" width="6.10" height="6.28" fill="#40ff00"/><rect x="108.05" y="46.99" width="6.10" height="6.28" fill="#80ff00"/><rect x="113.65" y="46.99" width="6.10" height="6.28" fill="#80ff00"/><rect x="119.25" y="46.99" width="6.10" height="6.28" fill="#00ff00"/><rect x="124.85" y="46.99" width="6.10" height="6.28" fill="#00b200"/><rect x="130.45" y="46.99" width="6.10" height="6.28" fill="#00d800"/><rect x="136.05" y="46.99" width="6.10" height="6.28" fill="#00d800"/><rect x="141.65" y="46.99" width="6.10" height="6.28" fill="#00d800"/><rect x="147.25" y="46.99" width="6.10" height="6.28" fill="#00b200"/><rect x="152.85" y="46.99" width="6.10" height="6.28" fill="#007700"/><rect x="158.45" y="46.99" width="6.10" height="6.28" fill="#007700"/><rect x="63.25" y="52.76" width="6.10" height="6.28" fill="#bfff00"/><rect x="68.85" y="52.76" width="6.10" height="6.28" fill="#bfff00"/><rect x="74.45" y="52.76" width="6.10" height="6.28" fill="#bfff00"/><rect x="80.05" y="52.76" width="6.10" height="6.28" fill="#bfff00"/><rect x="85.65" y="52.76" width="6.10" height="6.28" fill="#40ff00"/><rect x="91.25" y="52.76" width="6.10" height="6.28" fill="#80ff00"/><rect x="96.85" y="52.76" width="6.10" height="6.28" fill="#80ff00"/><rect x="102.45" y="52.76" width="6.10" height="6.28" fill="#00ff00"/><rect x="108.05" y="52.76" width="6.10" height="6.28" fill="#00ff00"/><rect x="113.65" y="52.76" width="6.10" height="6.28" fill="#40ff00"/><rect x="119.25" y="52.76" width="6.10" height="6.28" fill="#00ff00"/><rect x="124.85" y="52.76" width="6.10" height="6.28" fill="#00d800"/><rect x="130.45" y="52.76" width="6.10" height="6.28" fill="#00b200"/><rect x="136.05" y="52.76" width="6.10" height="6.28" fill="#00b200"/><rect x="141.65" y="52.76" width="6.10" height="6.28" fill="#00b200"/><rect x="147.25" y="52.76" width="6.10" height="6.28" fill="#007700"/><rect x="152.85" y="52.76" width="6.10" height="6.28" fill="#006400"/><rect x="158.45" y="52.76" width="6.10" height="6.28" fill="#006400"/><rect x="85.65" y="58.54" width="6.10" height="6.28" fill="#40ff00"/><rect x="91.25" y="58.54" width="6.10" height="6.28" fill="#80ff00"/><rect x="96.85" y="58.54" width="6.10" height="6.28" fill="#80ff00"/><rect x="102.45" y="58.54" width="6.10" height="6.28" fill="#40ff00"/><rect x="108.05" y="58.54" width="6.10" height="6.28" fill="#00ff00"/><rect x="113.65" y="58.54" width="6.10" height="6.28" fill="#00ff00"/><rect x="119.25" y="58.54" width="6.10" height="6.28" fill="#00d800"/><rect x="124.85" y="58.54" width="6.10" height="6.28" fill="#00ff00"/><rect x="130.45" y="58.54" width="6.10" height="6.28" fill="#00b200"/><rect x="136.05" y="58.54" width="6.10" height="6.28" fill="#00b200"/><rect x="141.65" y="58.54" width="6.10" height="6.28" fill="#00b200"/><rect x="147.25" y="58.54" width="6.10" height="6.28" fill="#007700"/><rect x="152.85" y="58.54" width="6.10" height="6.28" fill="#007700"/><rect x="158.45" y="58.54" width="6.10" height="6.28" fill="#007700"/><rect x="85.65" y="64.32" width="6.10" height="6.28" fill="#00ff00"/><rect x="91.25" y="64.32" width="6.10" height="6.28" fill="#40ff00"/><rect x="96.85" y="64.32" width="6.10" height="6.28" fill="#00ff00"/><rect x="102.45" y="64.32" width="6.10" height="6.28" fill="#40ff00"/><rect x="108.05" y="64.32" width="6.10" height="6.28" fill="#00ff00"/><rect x="113.65" y="64.32" width="6.10" height="6.28" fill="#00d800"/><rect x="119.25" y="64.32" width="6.10" height="6.28" fill="#00b200"/><rect x="124.85" y="64.32" width="6.10" height="6.28" fill="#007700"/><rect x="130.45" y="64.32" width="6.10" height="6.28" fill="#007700"/><rect x="136.05" y="64.32" width="6.10" height="6.28" fill="#00b200"/><rect x="141.65" y="64.32" width="6.10" height="6.28" fill="#00b200"/><rect x="147.25" y="64.32" width="6.10" height="6.28" fill="#007700"/><rect x="152.85" y="64.32" width="6.10" height="6.28" fill="#00d800"/><rect x="158.45" y="64.32" width="6.10" height="6.28" fill="#007700"/></g><g clip-path="url(#cKS)"><rect x="85.75" y="70.10" width="6.10" height="6.31" fill="#80ff00"/><rect x="91.35" y="70.10" width="6.10" height="6.31" fill="#40ff00"/><rect x="96.95" y="70.10" width="6.10" height="6.31" fill="#40ff00"/><rect x="102.55" y="70.10" width="6.10" height="6.31" fill="#40ff00"/><rect x="108.15" y="70.10" width="6.10" height="6.31" fill="#00d800"/><rect x="113.75" y="70.10" width="6.10" height="6.31" fill="#00d800"/><rect x="119.35" y="70.10" width="6.10" height="6.31" fill="#007700"/><rect x="124.95" y="70.10" width="6.10" height="6.31" fill="#006400"/><rect x="130.55" y="70.10" width="6.10" height="6.31" fill="#007700"/><rect x="136.15" y="70.10" width="6.10" height="6.31" fill="#007700"/><rect x="141.75" y="70.10" width="6.10" height="6.31" fill="#006400"/><rect x="147.35" y="70.10" width="6.10" height="6.31" fill="#007700"/><rect x="152.95" y="70.10" width="6.10" height="6.31" fill="#006400"/><rect x="158.55" y="70.10" width="6.10" height="6.31" fill="#006400"/><rect x="164.15" y="70.10" width="6.10" height="6.31" fill="#006400"/><rect x="85.75" y="75.91" width="6.10" height="6.31" fill="#80ff00"/><rect x="91.35" y="75.91" width="6.10" height="6.31" fill="#80ff00"/><rect x="96.95" y="75.91" width="6.10" height="6.31" fill="#40ff00"/><rect x="102.55" y="75.91" width="6.10" height="6.31" fill="#40ff00"/><rect x="108.15" y="75.91" width="6.10" height="6.31" fill="#00ff00"/><rect x="113.75" y="75.91" width="6.10" height="6.31" fill="#00d800"/><rect x="119.35" y="75.91" width="6.10" height="6.31" fill="#006400"/><rect x="124.95" y="75.91" width="6.10" height="6.31" fill="#007700"/><rect x="130.55" y="75.91" width="6.10" height="6.31" fill="#00b200"/><rect x="136.15" y="75.91" width="6.10" height="6.31" fill="#007700"/><rect x="141.75" y="75.91" width="6.10" height="6.31" fill="#007700"/><rect x="147.35" y="75.91" width="6.10" height="6.31" fill="#006400"/><rect x="152.95" y="75.91" width="6.10" height="6.31" fill="#006400"/><rect x="158.55" y="75.91" width="6.10" height="6.31" fill="#006400"/><rect x="164.15" y="75.91" width="6.10" height="6.31" fill="#006400"/><rect x="85.75" y="81.71" width="6.10" height="6.31" fill="#80ff00"/><rect x="91.35" y="81.71" width="6.10" height="6.31" fill="#bfff00"/><rect x="96.95" y="81.71" width="6.10" height="6.31" fill="#80ff00"/><rect x="102.55" y="81.71" width="6.10" height="6.31" fill="#ffff00"/><rect x="108.15" y="81.71" width="6.10" height="6.31" fill="#80ff00"/><rect x="113.75" y="81.71" width="6.10" height="6.31" fill="#40ff00"/><rect x="119.35" y="81.71" width="6.10" height="6.31" fill="#00ff00"/><rect x="124.95" y="81.71" width="6.10" height="6.31" fill="#00d800"/><rect x="130.55" y="81.71" width="6.10" height="6.31" fill="#00ff00"/><rect x="136.15" y="81.71" width="6.10" height="6.31" fill="#40ff00"/><rect x="141.75" y="81.71" width="6.10" height="6.31" fill="#00ff00"/><rect x="147.35" y="81.71" width="6.10" height="6.31" fill="#00d800"/><rect x="152.95" y="81.71" width="6.10" height="6.31" fill="#00d800"/><rect x="158.55" y="81.71" width="6.10" height="6.31" fill="#00d800"/><rect x="164.15" y="81.71" width="6.10" height="6.31" fill="#00d800"/><rect x="85.75" y="87.52" width="6.10" height="6.31" fill="#ffff00"/><rect x="91.35" y="87.52" width="6.10" height="6.31" fill="#ffe800"/><rect x="96.95" y="87.52" width="6.10" height="6.31" fill="#ffe800"/><rect x="102.55" y="87.52" width="6.10" height="6.31" fill="#ffd200"/><rect x="108.15" y="87.52" width="6.10" height="6.31" fill="#ffe800"/><rect x="113.75" y="87.52" width="6.10" height="6.31" fill="#80ff00"/><rect x="119.35" y="87.52" width="6.10" height="6.31" fill="#bfff00"/><rect x="124.95" y="87.52" width="6.10" height="6.31" fill="#80ff00"/><rect x="130.55" y="87.52" width="6.10" height="6.31" fill="#80ff00"/><rect x="136.15" y="87.52" width="6.10" height="6.31" fill="#40ff00"/><rect x="141.75" y="87.52" width="6.10" height="6.31" fill="#40ff00"/><rect x="147.35" y="87.52" width="6.10" height="6.31" fill="#40ff00"/><rect x="152.95" y="87.52" width="6.10" height="6.31" fill="#00ff00"/><rect x="158.55" y="87.52" width="6.10" height="6.31" fill="#00ff00"/><rect x="164.15" y="87.52" width="6.10" height="6.31" fill="#00ff00"/><rect x="85.75" y="93.33" width="6.10" height="6.31" fill="#ffd200"/><rect x="91.35" y="93.33" width="6.10" height="6.31" fill="#ffa500"/><rect x="96.95" y="93.33" width="6.10" height="6.31" fill="#ffa500"/><rect x="102.55" y="93.33" width="6.10" height="6.31" fill="#ff6b00"/><rect x="108.15" y="93.33" width="6.10" height="6.31" fill="#ffa500"/><rect x="113.75" y="93.33" width="6.10" height="6.31" fill="#ffd200"/><rect x="119.35" y="93.33" width="6.10" height="6.31" fill="#ffd200"/><rect x="124.95" y="93.33" width="6.10" height="6.31" fill="#ffe800"/><rect x="130.55" y="93.33" width="6.10" height="6.31" fill="#ffe800"/><rect x="136.15" y="93.33" width="6.10" height="6.31" fill="#bfff00"/><rect x="141.75" y="93.33" width="6.10" height="6.31" fill="#80ff00"/><rect x="147.35" y="93.33" width="6.10" height="6.31" fill="#80ff00"/><rect x="152.95" y="93.33" width="6.10" height="6.31" fill="#40ff00"/><rect x="158.55" y="93.33" width="6.10" height="6.31" fill="#40ff00"/><rect x="164.15" y="93.33" width="6.10" height="6.31" fill="#00ff00"/><rect x="85.75" y="99.14" width="6.10" height="6.31" fill="#ffa500"/><rect x="91.35" y="99.14" width="6.10" height="6.31" fill="#ff6b00"/><rect x="96.95" y="99.14" width="6.10" height="6.31" fill="#ff5200"/><rect x="102.55" y="99.14" width="6.10" height="6.31" fill="#ff6b00"/><rect x="108.15" y="99.14" width="6.10" height="6.31" fill="#ff6b00"/><rect x="113.75" y="99.14" width="6.10" height="6.31" fill="#ffa500"/><rect x="119.35" y="99.14" width="6.10" height="6.31" fill="#ffd200"/><rect x="124.95" y="99.14" width="6.10" height="6.31" fill="#ffe800"/><rect x="130.55" y="99.14" width="6.10" height="6.31" fill="#ffff00"/><rect x="136.15" y="99.14" width="6.10" height="6.31" fill="#bfff00"/><rect x="141.75" y="99.14" width="6.10" height="6.31" fill="#80ff00"/><rect x="147.35" y="99.14" width="6.10" height="6.31" fill="#80ff00"/><rect x="152.95" y="99.14" width="6.10" height="6.31" fill="#40ff00"/><rect x="158.55" y="99.14" width="6.10" height="6.31" fill="#40ff00"/><rect x="164.15" y="99.14" width="6.10" height="6.31" fill="#00ff00"/><rect x="85.75" y="104.94" width="6.10" height="6.31" fill="#ff6b00"/><rect x="91.35" y="104.94" width="6.10" height="6.31" fill="#ff6b00"/><rect x="96.95" y="104.94" width="6.10" height="6.31" fill="#ff6b00"/><rect x="102.55" y="104.94" width="6.10" height="6.31" fill="#ffa500"/><rect x="108.15" y="104.94" width="6.10" height="6.31" fill="#ffa500"/><rect x="113.75" y="104.94" width="6.10" height="6.31" fill="#ffa500"/><rect x="119.35" y="104.94" width="6.10" height="6.31" fill="#ffd200"/><rect x="124.95" y="104.94" width="6.10" height="6.31" fill="#ffe800"/><rect x="130.55" y="104.94" width="6.10" height="6.31" fill="#bfff00"/><rect x="136.15" y="104.94" width="6.10" height="6.31" fill="#bfff00"/><rect x="141.75" y="104.94" width="6.10" height="6.31" fill="#80ff00"/><rect x="147.35" y="104.94" width="6.10" height="6.31" fill="#40ff00"/><rect x="152.95" y="104.94" width="6.10" height="6.31" fill="#40ff00"/><rect x="158.55" y="104.94" width="6.10" height="6.31" fill="#40ff00"/><rect x="164.15" y="104.94" width="6.10" height="6.31" fill="#00ff00"/></g><g clip-path="url(#cCO)"><rect x="6.65" y="56.55" width="7.09" height="6.52" fill="#ffd200"/><rect x="13.24" y="56.55" width="7.09" height="6.52" fill="#ffd200"/><rect x="19.83" y="56.55" width="7.09" height="6.52" fill="#ffd200"/><rect x="26.42" y="56.55" width="7.09" height="6.52" fill="#006400"/><rect x="33.02" y="56.55" width="7.09" height="6.52" fill="#40ff00"/><rect x="39.61" y="56.55" width="7.09" height="6.52" fill="#40ff00"/><rect x="46.20" y="56.55" width="7.09" height="6.52" fill="#80ff00"/><rect x="52.79" y="56.55" width="7.09" height="6.52" fill="#ffa500"/><rect x="59.38" y="56.55" width="7.09" height="6.52" fill="#ffa500"/><rect x="65.97" y="56.55" width="7.09" height="6.52" fill="#80ff00"/><rect x="72.57" y="56.55" width="7.09" height="6.52" fill="#80ff00"/><rect x="79.16" y="56.55" width="7.09" height="6.52" fill="#bfff00"/><rect x="6.65" y="62.57" width="7.09" height="6.52" fill="#ffd200"/><rect x="13.24" y="62.57" width="7.09" height="6.52" fill="#ffd200"/><rect x="19.83" y="62.57" width="7.09" height="6.52" fill="#ffd200"/><rect x="26.42" y="62.57" width="7.09" height="6.52" fill="#006400"/><rect x="33.02" y="62.57" width="7.09" height="6.52" fill="#006400"/><rect x="39.61" y="62.57" width="7.09" height="6.52" fill="#006400"/><rect x="46.20" y="62.57" width="7.09" height="6.52" fill="#bfff00"/><rect x="52.79" y="62.57" width="7.09" height="6.52" fill="#ffa500"/><rect x="59.38" y="62.57" width="7.09" height="6.52" fill="#ffd200"/><rect x="65.97" y="62.57" width="7.09" height="6.52" fill="#ffe800"/><rect x="72.57" y="62.57" width="7.09" height="6.52" fill="#ffe800"/><rect x="79.16" y="62.57" width="7.09" height="6.52" fill="#bfff00"/><rect x="6.65" y="68.59" width="7.09" height="6.52" fill="#ffff00"/><rect x="13.24" y="68.59" width="7.09" height="6.52" fill="#ffff00"/><rect x="19.83" y="68.59" width="7.09" height="6.52" fill="#ffff00"/><rect x="26.42" y="68.59" width="7.09" height="6.52" fill="#40ff00"/><rect x="33.02" y="68.59" width="7.09" height="6.52" fill="#40ff00"/><rect x="39.61" y="68.59" width="7.09" height="6.52" fill="#006400"/><rect x="46.20" y="68.59" width="7.09" height="6.52" fill="#ffff00"/><rect x="52.79" y="68.59" width="7.09" height="6.52" fill="#ffa500"/><rect x="59.38" y="68.59" width="7.09" height="6.52" fill="#ffa500"/><rect x="65.97" y="68.59" width="7.09" height="6.52" fill="#ffe800"/><rect x="72.57" y="68.59" width="7.09" height="6.52" fill="#ffe800"/><rect x="79.16" y="68.59" width="7.09" height="6.52" fill="#bfff00"/><rect x="6.65" y="74.62" width="7.09" height="6.52" fill="#ffff00"/><rect x="13.24" y="74.62" width="7.09" height="6.52" fill="#ffff00"/><rect x="19.83" y="74.62" width="7.09" height="6.52" fill="#ffff00"/><rect x="26.42" y="74.62" width="7.09" height="6.52" fill="#40ff00"/><rect x="33.02" y="74.62" width="7.09" height="6.52" fill="#40ff00"/><rect x="39.61" y="74.62" width="7.09" height="6.52" fill="#40ff00"/><rect x="46.20" y="74.62" width="7.09" height="6.52" fill="#ffff00"/><rect x="52.79" y="74.62" width="7.09" height="6.52" fill="#ffa500"/><rect x="59.38" y="74.62" width="7.09" height="6.52" fill="#ffa500"/><rect x="65.97" y="74.62" width="7.09" height="6.52" fill="#ffd200"/><rect x="72.57" y="74.62" width="7.09" height="6.52" fill="#ffe800"/><rect x="79.16" y="74.62" width="7.09" height="6.52" fill="#ffff00"/><rect x="6.65" y="80.64" width="7.09" height="6.52" fill="#ffe800"/><rect x="13.24" y="80.64" width="7.09" height="6.52" fill="#ff6b00"/><rect x="19.83" y="80.64" width="7.09" height="6.52" fill="#00d800"/><rect x="26.42" y="80.64" width="7.09" height="6.52" fill="#00d800"/><rect x="33.02" y="80.64" width="7.09" height="6.52" fill="#00d800"/><rect x="39.61" y="80.64" width="7.09" height="6.52" fill="#006400"/><rect x="46.20" y="80.64" width="7.09" height="6.52" fill="#80ff00"/><rect x="52.79" y="80.64" width="7.09" height="6.52" fill="#ff6b00"/><rect x="59.38" y="80.64" width="7.09" height="6.52" fill="#ffa500"/><rect x="65.97" y="80.64" width="7.09" height="6.52" fill="#ffa500"/><rect x="72.57" y="80.64" width="7.09" height="6.52" fill="#ffd200"/><rect x="79.16" y="80.64" width="7.09" height="6.52" fill="#ffd200"/><rect x="6.65" y="86.66" width="7.09" height="6.52" fill="#ff6b00"/><rect x="13.24" y="86.66" width="7.09" height="6.52" fill="#ff6b00"/><rect x="19.83" y="86.66" width="7.09" height="6.52" fill="#ff6b00"/><rect x="26.42" y="86.66" width="7.09" height="6.52" fill="#00d800"/><rect x="33.02" y="86.66" width="7.09" height="6.52" fill="#bfff00"/><rect x="39.61" y="86.66" width="7.09" height="6.52" fill="#bfff00"/><rect x="46.20" y="86.66" width="7.09" height="6.52" fill="#ffa500"/><rect x="52.79" y="86.66" width="7.09" height="6.52" fill="#ff0000"/><rect x="59.38" y="86.66" width="7.09" height="6.52" fill="#ff0000"/><rect x="65.97" y="86.66" width="7.09" height="6.52" fill="#ffa500"/><rect x="72.57" y="86.66" width="7.09" height="6.52" fill="#ffa500"/><rect x="79.16" y="86.66" width="7.09" height="6.52" fill="#ffa500"/><rect x="6.65" y="92.68" width="7.09" height="6.52" fill="#ff5200"/><rect x="13.24" y="92.68" width="7.09" height="6.52" fill="#ff5200"/><rect x="19.83" y="92.68" width="7.09" height="6.52" fill="#bfff00"/><rect x="26.42" y="92.68" width="7.09" height="6.52" fill="#006400"/><rect x="33.02" y="92.68" width="7.09" height="6.52" fill="#bfff00"/><rect x="39.61" y="92.68" width="7.09" height="6.52" fill="#bfff00"/><rect x="46.20" y="92.68" width="7.09" height="6.52" fill="#ff6b00"/><rect x="52.79" y="92.68" width="7.09" height="6.52" fill="#ff0000"/><rect x="59.38" y="92.68" width="7.09" height="6.52" fill="#ff5200"/><rect x="65.97" y="92.68" width="7.09" height="6.52" fill="#ff6b00"/><rect x="72.57" y="92.68" width="7.09" height="6.52" fill="#ffa500"/><rect x="79.16" y="92.68" width="7.09" height="6.52" fill="#ffa500"/><rect x="6.65" y="98.71" width="7.09" height="6.52" fill="#bfff00"/><rect x="13.24" y="98.71" width="7.09" height="6.52" fill="#bfff00"/><rect x="19.83" y="98.71" width="7.09" height="6.52" fill="#006400"/><rect x="26.42" y="98.71" width="7.09" height="6.52" fill="#006400"/><rect x="33.02" y="98.71" width="7.09" height="6.52" fill="#ffff00"/><rect x="39.61" y="98.71" width="7.09" height="6.52" fill="#ff0000"/><rect x="46.20" y="98.71" width="7.09" height="6.52" fill="#ff5200"/><rect x="52.79" y="98.71" width="7.09" height="6.52" fill="#ff5200"/><rect x="59.38" y="98.71" width="7.09" height="6.52" fill="#ff0000"/><rect x="65.97" y="98.71" width="7.09" height="6.52" fill="#ff6b00"/><rect x="72.57" y="98.71" width="7.09" height="6.52" fill="#ff6b00"/><rect x="79.16" y="98.71" width="7.09" height="6.52" fill="#ffa500"/><rect x="6.65" y="104.73" width="7.09" height="6.52" fill="#ff5200"/><rect x="13.24" y="104.73" width="7.09" height="6.52" fill="#ffa500"/><rect x="19.83" y="104.73" width="7.09" height="6.52" fill="#bfff00"/><rect x="26.42" y="104.73" width="7.09" height="6.52" fill="#bfff00"/><rect x="33.02" y="104.73" width="7.09" height="6.52" fill="#ffd200"/><rect x="39.61" y="104.73" width="7.09" height="6.52" fill="#ff0000"/><rect x="46.20" y="104.73" width="7.09" height="6.52" fill="#ff0000"/><rect x="52.79" y="104.73" width="7.09" height="6.52" fill="#ff0000"/><rect x="59.38" y="104.73" width="7.09" height="6.52" fill="#ff0000"/><rect x="65.97" y="104.73" width="7.09" height="6.52" fill="#ff0000"/><rect x="72.57" y="104.73" width="7.09" height="6.52" fill="#ff5200"/><rect x="79.16" y="104.73" width="7.09" height="6.52" fill="#ff5200"/></g><g fill="none" stroke="#b0b0b0" stroke-width="1.2"><path clip-path="url(#cNE)" d="M69.10 29.90v5.78M80.30 29.90v5.78M85.90 29.90v5.78M108.30 29.90v5.78M113.90 29.90v5.78M119.50 29.90v5.78M125.10 29.90v5.78M130.70 29.90v5.78M136.30 29.90v5.78M141.90 29.90v5.78M147.50 29.90v5.78M153.10 29.90v5.78M158.70 29.90v5.78M69.10 35.68v5.78M80.30 35.68v5.78M85.90 35.68v5.78M108.30 35.68v5.78M113.90 35.68v5.78M119.50 35.68v5.78M125.10 35.68v5.78M130.70 35.68v5.78M136.30 35.68v5.78M141.90 35.68v5.78M147.50 35.68v5.78M153.10 35.68v5.78M158.70 35.68v5.78M69.10 41.46v5.78M80.30 41.46v5.78M85.90 41.46v5.78M91.50 41.46v5.78M97.10 41.46v5.78M102.70 41.46v5.78M108.30 41.46v5.78M113.90 41.46v5.78M119.50 41.46v5.78M125.10 41.46v5.78M130.70 41.46v5.78M136.30 41.46v5.78M141.90 41.46v5.78M147.50 41.46v5.78M153.10 41.46v5.78M158.70 41.46v5.78M69.10 47.24v5.78M80.30 47.24v5.78M85.90 47.24v5.78M91.50 47.24v5.78M97.10 47.24v5.78M102.70 47.24v5.78M108.30 47.24v5.78M113.90 47.24v5.78M119.50 47.24v5.78M125.10 47.24v5.78M130.70 47.24v5.78M136.30 47.24v5.78M141.90 47.24v5.78M147.50 47.24v5.78M153.10 47.24v5.78M158.70 47.24v5.78M69.10 53.01v5.78M80.30 53.01v5.78M85.90 53.01v5.78M91.50 53.01v5.78M102.70 53.01v5.78M113.90 53.01v5.78M119.50 53.01v5.78M125.10 53.01v5.78M130.70 53.01v5.78M136.30 53.01v5.78M141.90 53.01v5.78M147.50 53.01v5.78M153.10 53.01v5.78M158.70 53.01v5.78M91.50 58.79v5.78M97.10 58.79v5.78M102.70 58.79v5.78M108.30 58.79v5.78M113.90 58.79v5.78M119.50 58.79v5.78M125.10 58.79v5.78M130.70 58.79v5.78M136.30 58.79v5.78M141.90 58.79v5.78M147.50 58.79v5.78M153.10 58.79v5.78M158.70 58.79v5.78M91.50 64.57v5.78M97.10 64.57v5.78M102.70 64.57v5.78M108.30 64.57v5.78M113.90 64.57v5.78M119.50 64.57v5.78M125.10 64.57v5.78M130.70 64.57v5.78M136.30 64.57v5.78M141.90 64.57v5.78M147.50 64.57v5.78M153.10 64.57v5.78M158.70 64.57v5.78M69.10 35.68h5.60M74.70 35.68h5.60M108.30 35.68h5.60M113.90 35.68h5.60M119.50 35.68h5.60M125.10 35.68h5.60M130.70 35.68h5.60M136.30 35.68h5.60M141.90 35.68h5.60M147.50 35.68h5.60M153.10 35.68h5.60M158.70 35.68h5.60M63.50 41.46h5.60M85.90 41.46h5.60M91.50 41.46h5.60M97.10 41.46h5.60M102.70 41.46h5.60M108.30 41.46h5.60M113.90 41.46h5.60M119.50 41.46h5.60M125.10 41.46h5.60M130.70 41.46h5.60M136.30 41.46h5.60M141.90 41.46h5.60M147.50 41.46h5.60M153.10 41.46h5.60M158.70 41.46h5.60M63.50 47.24h5.60M69.10 47.24h5.60M74.70 47.24h5.60M80.30 47.24h5.60M85.90 47.24h5.60M91.50 47.24h5.60M97.10 47.24h5.60M102.70 47.24h5.60M108.30 47.24h5.60M113.90 47.24h5.60M119.50 47.24h5.60M125.10 47.24h5.60M130.70 47.24h5.60M136.30 47.24h5.60M141.90 47.24h5.60M147.50 47.24h5.60M153.10 47.24h5.60M158.70 47.24h5.60M63.50 53.01h5.60M69.10 53.01h5.60M74.70 53.01h5.60M80.30 53.01h5.60M85.90 53.01h5.60M91.50 53.01h5.60M97.10 53.01h5.60M102.70 53.01h5.60M108.30 53.01h5.60M113.90 53.01h5.60M119.50 53.01h5.60M125.10 53.01h5.60M130.70 53.01h5.60M136.30 53.01h5.60M141.90 53.01h5.60M147.50 53.01h5.60M153.10 53.01h5.60M158.70 53.01h5.60M85.90 58.79h5.60M91.50 58.79h5.60M97.10 58.79h5.60M102.70 58.79h5.60M108.30 58.79h5.60M113.90 58.79h5.60M119.50 58.79h5.60M125.10 58.79h5.60M130.70 58.79h5.60M136.30 58.79h5.60M141.90 58.79h5.60M147.50 58.79h5.60M153.10 58.79h5.60M158.70 58.79h5.60M85.90 64.57h5.60M91.50 64.57h5.60M97.10 64.57h5.60M102.70 64.57h5.60M108.30 64.57h5.60M113.90 64.57h5.60M119.50 64.57h5.60M125.10 64.57h5.60M130.70 64.57h5.60M136.30 64.57h5.60M141.90 64.57h5.60M147.50 64.57h5.60M153.10 64.57h5.60M158.70 64.57h5.60"/><path clip-path="url(#cCO)" d="M26.67 56.80v6.02M33.27 56.80v6.02M39.86 56.80v6.02M46.45 56.80v6.02M53.04 56.80v6.02M66.22 56.80v6.02M79.41 56.80v6.02M26.67 62.82v6.02M33.27 62.82v6.02M39.86 62.82v6.02M46.45 62.82v6.02M53.04 62.82v6.02M59.63 62.82v6.02M66.22 62.82v6.02M79.41 62.82v6.02M20.08 68.84v6.02M26.67 68.84v6.02M33.27 68.84v6.02M39.86 68.84v6.02M46.45 68.84v6.02M53.04 68.84v6.02M66.22 68.84v6.02M79.41 68.84v6.02M26.67 74.87v6.02M33.27 74.87v6.02M39.86 74.87v6.02M46.45 74.87v6.02M53.04 74.87v6.02M59.63 74.87v6.02M66.22 74.87v6.02M72.82 74.87v6.02M79.41 74.87v6.02M13.49 80.89v6.02M20.08 80.89v6.02M26.67 80.89v6.02M33.27 80.89v6.02M39.86 80.89v6.02M46.45 80.89v6.02M53.04 80.89v6.02M59.63 80.89v6.02M72.82 80.89v6.02M13.49 86.91v6.02M20.08 86.91v6.02M26.67 86.91v6.02M33.27 86.91v6.02M39.86 86.91v6.02M46.45 86.91v6.02M53.04 86.91v6.02M59.63 86.91v6.02M66.22 86.91v6.02M72.82 86.91v6.02M13.49 92.93v6.02M20.08 92.93v6.02M26.67 92.93v6.02M33.27 92.93v6.02M39.86 92.93v6.02M46.45 92.93v6.02M53.04 92.93v6.02M59.63 92.93v6.02M66.22 92.93v6.02M72.82 92.93v6.02M79.41 92.93v6.02M13.49 98.96v6.02M20.08 98.96v6.02M26.67 98.96v6.02M33.27 98.96v6.02M39.86 98.96v6.02M46.45 98.96v6.02M59.63 98.96v6.02M66.22 98.96v6.02M79.41 98.96v6.02M13.49 104.98v6.02M20.08 104.98v6.02M26.67 104.98v6.02M33.27 104.98v6.02M39.86 104.98v6.02M66.22 104.98v6.02M72.82 104.98v6.02M33.27 62.82h6.59M39.86 62.82h6.59M46.45 62.82h6.59M59.63 62.82h6.59M66.22 62.82h6.59M72.82 62.82h6.59M79.41 62.82h6.59M6.90 68.84h6.59M13.49 68.84h6.59M20.08 68.84h6.59M26.67 68.84h6.59M33.27 68.84h6.59M39.86 68.84h6.59M46.45 68.84h6.59M53.04 68.84h6.59M59.63 68.84h6.59M6.90 74.87h6.59M13.49 74.87h6.59M33.27 74.87h6.59M39.86 74.87h6.59M46.45 74.87h6.59M53.04 74.87h6.59M59.63 74.87h6.59M66.22 74.87h6.59M72.82 74.87h6.59M79.41 74.87h6.59M6.90 80.89h6.59M13.49 80.89h6.59M20.08 80.89h6.59M26.67 80.89h6.59M33.27 80.89h6.59M39.86 80.89h6.59M46.45 80.89h6.59M53.04 80.89h6.59M59.63 80.89h6.59M66.22 80.89h6.59M72.82 80.89h6.59M79.41 80.89h6.59M6.90 86.91h6.59M13.49 86.91h6.59M20.08 86.91h6.59M33.27 86.91h6.59M39.86 86.91h6.59M46.45 86.91h6.59M53.04 86.91h6.59M59.63 86.91h6.59M66.22 86.91h6.59M72.82 86.91h6.59M79.41 86.91h6.59M6.90 92.93h6.59M13.49 92.93h6.59M20.08 92.93h6.59M26.67 92.93h6.59M33.27 92.93h6.59M39.86 92.93h6.59M46.45 92.93h6.59M53.04 92.93h6.59M59.63 92.93h6.59M66.22 92.93h6.59M72.82 92.93h6.59M79.41 92.93h6.59M6.90 98.96h6.59M13.49 98.96h6.59M20.08 98.96h6.59M26.67 98.96h6.59M33.27 98.96h6.59M39.86 98.96h6.59M46.45 98.96h6.59M53.04 98.96h6.59M59.63 98.96h6.59M72.82 98.96h6.59M6.90 104.98h6.59M13.49 104.98h6.59M20.08 104.98h6.59M26.67 104.98h6.59M33.27 104.98h6.59M39.86 104.98h6.59M46.45 104.98h6.59M53.04 104.98h6.59M59.63 104.98h6.59M66.22 104.98h6.59M72.82 104.98h6.59M79.41 104.98h6.59"/></g><use href="#grid"/><use href="#outl"/></g>
<g transform="translate(372.15,0.00)"><text x="88.5" y="24.3" class="yr">2012</text><g clip-path="url(#cNE)"><rect x="63.25" y="29.65" width="6.10" height="6.28" fill="#c50000"/><rect x="68.85" y="29.65" width="6.10" height="6.28" fill="#ff5200"/><rect x="74.45" y="29.65" width="6.10" height="6.28" fill="#ff2900"/><rect x="80.05" y="29.65" width="6.10" height="6.28" fill="#ff5200"/><rect x="85.65" y="29.65" width="6.10" height="6.28" fill="#ff5200"/><rect x="91.25" y="29.65" width="6.10" height="6.28" fill="#ff5200"/><rect x="96.85" y="29.65" width="6.10" height="6.28" fill="#ff5200"/><rect x="102.45" y="29.65" width="6.10" height="6.28" fill="#ff5200"/><rect x="108.05" y="29.65" width="6.10" height="6.28" fill="#ffa500"/><rect x="113.65" y="29.65" width="6.10" height="6.28" fill="#ffa500"/><rect x="119.25" y="29.65" width="6.10" height="6.28" fill="#ffa500"/><rect x="124.85" y="29.65" width="6.10" height="6.28" fill="#ffa500"/><rect x="130.45" y="29.65" width="6.10" height="6.28" fill="#ffa500"/><rect x="136.05" y="29.65" width="6.10" height="6.28" fill="#ffd200"/><rect x="141.65" y="29.65" width="6.10" height="6.28" fill="#ffa500"/><rect x="147.25" y="29.65" width="6.10" height="6.28" fill="#ffd200"/><rect x="152.85" y="29.65" width="6.10" height="6.28" fill="#ffd200"/><rect x="158.45" y="29.65" width="6.10" height="6.28" fill="#ffd200"/><rect x="63.25" y="35.43" width="6.10" height="6.28" fill="#c50000"/><rect x="68.85" y="35.43" width="6.10" height="6.28" fill="#ff0000"/><rect x="74.45" y="35.43" width="6.10" height="6.28" fill="#ff2900"/><rect x="80.05" y="35.43" width="6.10" height="6.28" fill="#ff5200"/><rect x="85.65" y="35.43" width="6.10" height="6.28" fill="#ff5200"/><rect x="91.25" y="35.43" width="6.10" height="6.28" fill="#ff5200"/><rect x="96.85" y="35.43" width="6.10" height="6.28" fill="#ff5200"/><rect x="102.45" y="35.43" width="6.10" height="6.28" fill="#ff5200"/><rect x="108.05" y="35.43" width="6.10" height="6.28" fill="#ffa500"/><rect x="113.65" y="35.43" width="6.10" height="6.28" fill="#ffa500"/><rect x="119.25" y="35.43" width="6.10" height="6.28" fill="#ffa500"/><rect x="124.85" y="35.43" width="6.10" height="6.28" fill="#ffa500"/><rect x="130.45" y="35.43" width="6.10" height="6.28" fill="#ffd200"/><rect x="136.05" y="35.43" width="6.10" height="6.28" fill="#ffd200"/><rect x="141.65" y="35.43" width="6.10" height="6.28" fill="#ffd200"/><rect x="147.25" y="35.43" width="6.10" height="6.28" fill="#ffe800"/><rect x="152.85" y="35.43" width="6.10" height="6.28" fill="#ffff00"/><rect x="158.45" y="35.43" width="6.10" height="6.28" fill="#ffff00"/><rect x="63.25" y="41.21" width="6.10" height="6.28" fill="#ff0000"/><rect x="68.85" y="41.21" width="6.10" height="6.28" fill="#ff2900"/><rect x="74.45" y="41.21" width="6.10" height="6.28" fill="#ff2900"/><rect x="80.05" y="41.21" width="6.10" height="6.28" fill="#ff5200"/><rect x="85.65" y="41.21" width="6.10" height="6.28" fill="#ff0000"/><rect x="91.25" y="41.21" width="6.10" height="6.28" fill="#ff5200"/><rect x="96.85" y="41.21" width="6.10" height="6.28" fill="#ff6b00"/><rect x="102.45" y="41.21" width="6.10" height="6.28" fill="#ff6b00"/><rect x="108.05" y="41.21" width="6.10" height="6.28" fill="#ff6b00"/><rect x="113.65" y="41.21" width="6.10" height="6.28" fill="#ff6b00"/><rect x="119.25" y="41.21" width="6.10" height="6.28" fill="#ff6b00"/><rect x="124.85" y="41.21" width="6.10" height="6.28" fill="#ffd200"/><rect x="130.45" y="41.21" width="6.10" height="6.28" fill="#ffa500"/><rect x="136.05" y="41.21" width="6.10" height="6.28" fill="#ffa500"/><rect x="141.65" y="41.21" width="6.10" height="6.28" fill="#ffd200"/><rect x="147.25" y="41.21" width="6.10" height="6.28" fill="#ffe800"/><rect x="152.85" y="41.21" width="6.10" height="6.28" fill="#ffff00"/><rect x="158.45" y="41.21" width="6.10" height="6.28" fill="#bfff00"/><rect x="63.25" y="46.99" width="6.10" height="6.28" fill="#ff6b00"/><rect x="68.85" y="46.99" width="6.10" height="6.28" fill="#ff0000"/><rect x="74.45" y="46.99" width="6.10" height="6.28" fill="#ff0000"/><rect x="80.05" y="46.99" width="6.10" height="6.28" fill="#ff5200"/><rect x="85.65" y="46.99" width="6.10" height="6.28" fill="#ff5200"/><rect x="91.25" y="46.99" width="6.10" height="6.28" fill="#ff5200"/><rect x="96.85" y="46.99" width="6.10" height="6.28" fill="#ff6b00"/><rect x="102.45" y="46.99" width="6.10" height="6.28" fill="#ff6b00"/><rect x="108.05" y="46.99" width="6.10" height="6.28" fill="#ff6b00"/><rect x="113.65" y="46.99" width="6.10" height="6.28" fill="#ff6b00"/><rect x="119.25" y="46.99" width="6.10" height="6.28" fill="#ff6b00"/><rect x="124.85" y="46.99" width="6.10" height="6.28" fill="#ffa500"/><rect x="130.45" y="46.99" width="6.10" height="6.28" fill="#ffa500"/><rect x="136.05" y="46.99" width="6.10" height="6.28" fill="#ffa500"/><rect x="141.65" y="46.99" width="6.10" height="6.28" fill="#ffe800"/><rect x="147.25" y="46.99" width="6.10" height="6.28" fill="#ffff00"/><rect x="152.85" y="46.99" width="6.10" height="6.28" fill="#ffff00"/><rect x="158.45" y="46.99" width="6.10" height="6.28" fill="#ffff00"/><rect x="63.25" y="52.76" width="6.10" height="6.28" fill="#ff6b00"/><rect x="68.85" y="52.76" width="6.10" height="6.28" fill="#ff5200"/><rect x="74.45" y="52.76" width="6.10" height="6.28" fill="#ff2900"/><rect x="80.05" y="52.76" width="6.10" height="6.28" fill="#ff6b00"/><rect x="85.65" y="52.76" width="6.10" height="6.28" fill="#ff6b00"/><rect x="91.25" y="52.76" width="6.10" height="6.28" fill="#ff6b00"/><rect x="96.85" y="52.76" width="6.10" height="6.28" fill="#ff6b00"/><rect x="102.45" y="52.76" width="6.10" height="6.28" fill="#ffa500"/><rect x="108.05" y="52.76" width="6.10" height="6.28" fill="#ffa500"/><rect x="113.65" y="52.76" width="6.10" height="6.28" fill="#ffa500"/><rect x="119.25" y="52.76" width="6.10" height="6.28" fill="#ffa500"/><rect x="124.85" y="52.76" width="6.10" height="6.28" fill="#ffd200"/><rect x="130.45" y="52.76" width="6.10" height="6.28" fill="#ffd200"/><rect x="136.05" y="52.76" width="6.10" height="6.28" fill="#ffff00"/><rect x="141.65" y="52.76" width="6.10" height="6.28" fill="#ffff00"/><rect x="147.25" y="52.76" width="6.10" height="6.28" fill="#ffff00"/><rect x="152.85" y="52.76" width="6.10" height="6.28" fill="#ffff00"/><rect x="158.45" y="52.76" width="6.10" height="6.28" fill="#ffff00"/><rect x="85.65" y="58.54" width="6.10" height="6.28" fill="#ff6b00"/><rect x="91.25" y="58.54" width="6.10" height="6.28" fill="#ff6b00"/><rect x="96.85" y="58.54" width="6.10" height="6.28" fill="#ff6b00"/><rect x="102.45" y="58.54" width="6.10" height="6.28" fill="#ffa500"/><rect x="108.05" y="58.54" width="6.10" height="6.28" fill="#ffa500"/><rect x="113.65" y="58.54" width="6.10" height="6.28" fill="#ffa500"/><rect x="119.25" y="58.54" width="6.10" height="6.28" fill="#bfff00"/><rect x="124.85" y="58.54" width="6.10" height="6.28" fill="#40ff00"/><rect x="130.45" y="58.54" width="6.10" height="6.28" fill="#ffe800"/><rect x="136.05" y="58.54" width="6.10" height="6.28" fill="#ffff00"/><rect x="141.65" y="58.54" width="6.10" height="6.28" fill="#ffff00"/><rect x="147.25" y="58.54" width="6.10" height="6.28" fill="#ffff00"/><rect x="152.85" y="58.54" width="6.10" height="6.28" fill="#ffff00"/><rect x="158.45" y="58.54" width="6.10" height="6.28" fill="#bfff00"/><rect x="85.65" y="64.32" width="6.10" height="6.28" fill="#ffa500"/><rect x="91.25" y="64.32" width="6.10" height="6.28" fill="#ffa500"/><rect x="96.85" y="64.32" width="6.10" height="6.28" fill="#ffd200"/><rect x="102.45" y="64.32" width="6.10" height="6.28" fill="#ffd200"/><rect x="108.05" y="64.32" width="6.10" height="6.28" fill="#ffa500"/><rect x="113.65" y="64.32" width="6.10" height="6.28" fill="#ffa500"/><rect x="119.25" y="64.32" width="6.10" height="6.28" fill="#ffd200"/><rect x="124.85" y="64.32" width="6.10" height="6.28" fill="#ffe800"/><rect x="130.45" y="64.32" width="6.10" height="6.28" fill="#bfff00"/><rect x="136.05" y="64.32" width="6.10" height="6.28" fill="#ffff00"/><rect x="141.65" y="64.32" width="6.10" height="6.28" fill="#ffff00"/><rect x="147.25" y="64.32" width="6.10" height="6.28" fill="#ffe800"/><rect x="152.85" y="64.32" width="6.10" height="6.28" fill="#ffff00"/><rect x="158.45" y="64.32" width="6.10" height="6.28" fill="#ffff00"/></g><g clip-path="url(#cKS)"><rect x="85.75" y="70.10" width="6.10" height="6.31" fill="#ffa500"/><rect x="91.35" y="70.10" width="6.10" height="6.31" fill="#ff6b00"/><rect x="96.95" y="70.10" width="6.10" height="6.31" fill="#ff6b00"/><rect x="102.55" y="70.10" width="6.10" height="6.31" fill="#ff6b00"/><rect x="108.15" y="70.10" width="6.10" height="6.31" fill="#ffa500"/><rect x="113.75" y="70.10" width="6.10" height="6.31" fill="#ff6b00"/><rect x="119.35" y="70.10" width="6.10" height="6.31" fill="#ffa500"/><rect x="124.95" y="70.10" width="6.10" height="6.31" fill="#ffff00"/><rect x="130.55" y="70.10" width="6.10" height="6.31" fill="#ffff00"/><rect x="136.15" y="70.10" width="6.10" height="6.31" fill="#bfff00"/><rect x="141.75" y="70.10" width="6.10" height="6.31" fill="#bfff00"/><rect x="147.35" y="70.10" width="6.10" height="6.31" fill="#bfff00"/><rect x="152.95" y="70.10" width="6.10" height="6.31" fill="#ffff00"/><rect x="158.55" y="70.10" width="6.10" height="6.31" fill="#ffff00"/><rect x="164.15" y="70.10" width="6.10" height="6.31" fill="#ffff00"/><rect x="85.75" y="75.91" width="6.10" height="6.31" fill="#ff6b00"/><rect x="91.35" y="75.91" width="6.10" height="6.31" fill="#ff6b00"/><rect x="96.95" y="75.91" width="6.10" height="6.31" fill="#ff6b00"/><rect x="102.55" y="75.91" width="6.10" height="6.31" fill="#ff6b00"/><rect x="108.15" y="75.91" width="6.10" height="6.31" fill="#ff6b00"/><rect x="113.75" y="75.91" width="6.10" height="6.31" fill="#ffa500"/><rect x="119.35" y="75.91" width="6.10" height="6.31" fill="#ffa500"/><rect x="124.95" y="75.91" width="6.10" height="6.31" fill="#ffd200"/><rect x="130.55" y="75.91" width="6.10" height="6.31" fill="#ffe800"/><rect x="136.15" y="75.91" width="6.10" height="6.31" fill="#ffff00"/><rect x="141.75" y="75.91" width="6.10" height="6.31" fill="#bfff00"/><rect x="147.35" y="75.91" width="6.10" height="6.31" fill="#ffff00"/><rect x="152.95" y="75.91" width="6.10" height="6.31" fill="#ffff00"/><rect x="158.55" y="75.91" width="6.10" height="6.31" fill="#ffff00"/><rect x="164.15" y="75.91" width="6.10" height="6.31" fill="#ffff00"/><rect x="85.75" y="81.71" width="6.10" height="6.31" fill="#ff5200"/><rect x="91.35" y="81.71" width="6.10" height="6.31" fill="#ff6b00"/><rect x="96.95" y="81.71" width="6.10" height="6.31" fill="#ff6b00"/><rect x="102.55" y="81.71" width="6.10" height="6.31" fill="#ff5200"/><rect x="108.15" y="81.71" width="6.10" height="6.31" fill="#ffa500"/><rect x="113.75" y="81.71" width="6.10" height="6.31" fill="#ffd200"/><rect x="119.35" y="81.71" width="6.10" height="6.31" fill="#ffa500"/><rect x="124.95" y="81.71" width="6.10" height="6.31" fill="#ffa500"/><rect x="130.55" y="81.71" width="6.10" height="6.31" fill="#ffd200"/><rect x="136.15" y="81.71" width="6.10" height="6.31" fill="#ffe800"/><rect x="141.75" y="81.71" width="6.10" height="6.31" fill="#ffff00"/><rect x="147.35" y="81.71" width="6.10" height="6.31" fill="#ffff00"/><rect x="152.95" y="81.71" width="6.10" height="6.31" fill="#ffe800"/><rect x="158.55" y="81.71" width="6.10" height="6.31" fill="#ffff00"/><rect x="164.15" y="81.71" width="6.10" height="6.31" fill="#bfff00"/><rect x="85.75" y="87.52" width="6.10" height="6.31" fill="#ff0000"/><rect x="91.35" y="87.52" width="6.10" height="6.31" fill="#ff0000"/><rect x="96.95" y="87.52" width="6.10" height="6.31" fill="#ff2900"/><rect x="102.55" y="87.52" width="6.10" height="6.31" fill="#ff6b00"/><rect x="108.15" y="87.52" width="6.10" height="6.31" fill="#ffa500"/><rect x="113.75" y="87.52" width="6.10" height="6.31" fill="#ffd200"/><rect x="119.35" y="87.52" width="6.10" height="6.31" fill="#ffd200"/><rect x="124.95" y="87.52" width="6.10" height="6.31" fill="#ffd200"/><rect x="130.55" y="87.52" width="6.10" height="6.31" fill="#ffd200"/><rect x="136.15" y="87.52" width="6.10" height="6.31" fill="#ffe800"/><rect x="141.75" y="87.52" width="6.10" height="6.31" fill="#ffff00"/><rect x="147.35" y="87.52" width="6.10" height="6.31" fill="#ffa500"/><rect x="152.95" y="87.52" width="6.10" height="6.31" fill="#ffd200"/><rect x="158.55" y="87.52" width="6.10" height="6.31" fill="#ffe800"/><rect x="164.15" y="87.52" width="6.10" height="6.31" fill="#ffff00"/><rect x="85.75" y="93.33" width="6.10" height="6.31" fill="#ff5200"/><rect x="91.35" y="93.33" width="6.10" height="6.31" fill="#ff2900"/><rect x="96.95" y="93.33" width="6.10" height="6.31" fill="#ff6b00"/><rect x="102.55" y="93.33" width="6.10" height="6.31" fill="#ffa500"/><rect x="108.15" y="93.33" width="6.10" height="6.31" fill="#ffd200"/><rect x="113.75" y="93.33" width="6.10" height="6.31" fill="#ffa500"/><rect x="119.35" y="93.33" width="6.10" height="6.31" fill="#ffa500"/><rect x="124.95" y="93.33" width="6.10" height="6.31" fill="#ffd200"/><rect x="130.55" y="93.33" width="6.10" height="6.31" fill="#ffe800"/><rect x="136.15" y="93.33" width="6.10" height="6.31" fill="#ffff00"/><rect x="141.75" y="93.33" width="6.10" height="6.31" fill="#ffff00"/><rect x="147.35" y="93.33" width="6.10" height="6.31" fill="#ffe800"/><rect x="152.95" y="93.33" width="6.10" height="6.31" fill="#ffff00"/><rect x="158.55" y="93.33" width="6.10" height="6.31" fill="#ffff00"/><rect x="164.15" y="93.33" width="6.10" height="6.31" fill="#ffff00"/><rect x="85.75" y="99.14" width="6.10" height="6.31" fill="#ff6b00"/><rect x="91.35" y="99.14" width="6.10" height="6.31" fill="#ff6b00"/><rect x="96.95" y="99.14" width="6.10" height="6.31" fill="#ff6b00"/><rect x="102.55" y="99.14" width="6.10" height="6.31" fill="#ffa500"/><rect x="108.15" y="99.14" width="6.10" height="6.31" fill="#ffa500"/><rect x="113.75" y="99.14" width="6.10" height="6.31" fill="#ffd200"/><rect x="119.35" y="99.14" width="6.10" height="6.31" fill="#ffe800"/><rect x="124.95" y="99.14" width="6.10" height="6.31" fill="#ffe800"/><rect x="130.55" y="99.14" width="6.10" height="6.31" fill="#ffe800"/><rect x="136.15" y="99.14" width="6.10" height="6.31" fill="#ffff00"/><rect x="141.75" y="99.14" width="6.10" height="6.31" fill="#ffff00"/><rect x="147.35" y="99.14" width="6.10" height="6.31" fill="#ffff00"/><rect x="152.95" y="99.14" width="6.10" height="6.31" fill="#bfff00"/><rect x="158.55" y="99.14" width="6.10" height="6.31" fill="#80ff00"/><rect x="164.15" y="99.14" width="6.10" height="6.31" fill="#bfff00"/><rect x="85.75" y="104.94" width="6.10" height="6.31" fill="#ff6b00"/><rect x="91.35" y="104.94" width="6.10" height="6.31" fill="#ff6b00"/><rect x="96.95" y="104.94" width="6.10" height="6.31" fill="#ff6b00"/><rect x="102.55" y="104.94" width="6.10" height="6.31" fill="#ffa500"/><rect x="108.15" y="104.94" width="6.10" height="6.31" fill="#ffa500"/><rect x="113.75" y="104.94" width="6.10" height="6.31" fill="#ffd200"/><rect x="119.35" y="104.94" width="6.10" height="6.31" fill="#ffd200"/><rect x="124.95" y="104.94" width="6.10" height="6.31" fill="#ffd200"/><rect x="130.55" y="104.94" width="6.10" height="6.31" fill="#ffe800"/><rect x="136.15" y="104.94" width="6.10" height="6.31" fill="#ffe800"/><rect x="141.75" y="104.94" width="6.10" height="6.31" fill="#ffff00"/><rect x="147.35" y="104.94" width="6.10" height="6.31" fill="#ffff00"/><rect x="152.95" y="104.94" width="6.10" height="6.31" fill="#40ff00"/><rect x="158.55" y="104.94" width="6.10" height="6.31" fill="#40ff00"/><rect x="164.15" y="104.94" width="6.10" height="6.31" fill="#bfff00"/></g><g clip-path="url(#cCO)"><rect x="6.65" y="56.55" width="7.09" height="6.52" fill="#8b0000"/><rect x="13.24" y="56.55" width="7.09" height="6.52" fill="#8b0000"/><rect x="19.83" y="56.55" width="7.09" height="6.52" fill="#8b0000"/><rect x="26.42" y="56.55" width="7.09" height="6.52" fill="#ffff00"/><rect x="33.02" y="56.55" width="7.09" height="6.52" fill="#ffd200"/><rect x="39.61" y="56.55" width="7.09" height="6.52" fill="#ffa500"/><rect x="46.20" y="56.55" width="7.09" height="6.52" fill="#ffa500"/><rect x="52.79" y="56.55" width="7.09" height="6.52" fill="#ff2900"/><rect x="59.38" y="56.55" width="7.09" height="6.52" fill="#ff2900"/><rect x="65.97" y="56.55" width="7.09" height="6.52" fill="#ff5200"/><rect x="72.57" y="56.55" width="7.09" height="6.52" fill="#ff5200"/><rect x="79.16" y="56.55" width="7.09" height="6.52" fill="#ff6b00"/><rect x="6.65" y="62.57" width="7.09" height="6.52" fill="#8b0000"/><rect x="13.24" y="62.57" width="7.09" height="6.52" fill="#8b0000"/><rect x="19.83" y="62.57" width="7.09" height="6.52" fill="#8b0000"/><rect x="26.42" y="62.57" width="7.09" height="6.52" fill="#ffff00"/><rect x="33.02" y="62.57" width="7.09" height="6.52" fill="#00ff00"/><rect x="39.61" y="62.57" width="7.09" height="6.52" fill="#00ff00"/><rect x="46.20" y="62.57" width="7.09" height="6.52" fill="#ffa500"/><rect x="52.79" y="62.57" width="7.09" height="6.52" fill="#ff2900"/><rect x="59.38" y="62.57" width="7.09" height="6.52" fill="#ff5200"/><rect x="65.97" y="62.57" width="7.09" height="6.52" fill="#ff5200"/><rect x="72.57" y="62.57" width="7.09" height="6.52" fill="#ff5200"/><rect x="79.16" y="62.57" width="7.09" height="6.52" fill="#ff6b00"/><rect x="6.65" y="68.59" width="7.09" height="6.52" fill="#ff0000"/><rect x="13.24" y="68.59" width="7.09" height="6.52" fill="#ff0000"/><rect x="19.83" y="68.59" width="7.09" height="6.52" fill="#ff0000"/><rect x="26.42" y="68.59" width="7.09" height="6.52" fill="#ffff00"/><rect x="33.02" y="68.59" width="7.09" height="6.52" fill="#00ff00"/><rect x="39.61" y="68.59" width="7.09" height="6.52" fill="#00ff00"/><rect x="46.20" y="68.59" width="7.09" height="6.52" fill="#ffa500"/><rect x="52.79" y="68.59" width="7.09" height="6.52" fill="#ff0000"/><rect x="59.38" y="68.59" width="7.09" height="6.52" fill="#ff0000"/><rect x="65.97" y="68.59" width="7.09" height="6.52" fill="#ff5200"/><rect x="72.57" y="68.59" width="7.09" height="6.52" fill="#ff5200"/><rect x="79.16" y="68.59" width="7.09" height="6.52" fill="#ff6b00"/><rect x="6.65" y="74.62" width="7.09" height="6.52" fill="#ff5200"/><rect x="13.24" y="74.62" width="7.09" height="6.52" fill="#ff5200"/><rect x="19.83" y="74.62" width="7.09" height="6.52" fill="#ff5200"/><rect x="26.42" y="74.62" width="7.09" height="6.52" fill="#ffff00"/><rect x="33.02" y="74.62" width="7.09" height="6.52" fill="#ffff00"/><rect x="39.61" y="74.62" width="7.09" height="6.52" fill="#00b200"/><rect x="46.20" y="74.62" width="7.09" height="6.52" fill="#ff6b00"/><rect x="52.79" y="74.62" width="7.09" height="6.52" fill="#c50000"/><rect x="59.38" y="74.62" width="7.09" height="6.52" fill="#c50000"/><rect x="65.97" y="74.62" width="7.09" height="6.52" fill="#ff0000"/><rect x="72.57" y="74.62" width="7.09" height="6.52" fill="#ff6b00"/><rect x="79.16" y="74.62" width="7.09" height="6.52" fill="#ff6b00"/><rect x="6.65" y="80.64" width="7.09" height="6.52" fill="#ff0000"/><rect x="13.24" y="80.64" width="7.09" height="6.52" fill="#ff0000"/><rect x="19.83" y="80.64" width="7.09" height="6.52" fill="#ff0000"/><rect x="26.42" y="80.64" width="7.09" height="6.52" fill="#00ff00"/><rect x="33.02" y="80.64" width="7.09" height="6.52" fill="#00ff00"/><rect x="39.61" y="80.64" width="7.09" height="6.52" fill="#006400"/><rect x="46.20" y="80.64" width="7.09" height="6.52" fill="#80ff00"/><rect x="52.79" y="80.64" width="7.09" height="6.52" fill="#ff0000"/><rect x="59.38" y="80.64" width="7.09" height="6.52" fill="#ff0000"/><rect x="65.97" y="80.64" width="7.09" height="6.52" fill="#ff0000"/><rect x="72.57" y="80.64" width="7.09" height="6.52" fill="#ff5200"/><rect x="79.16" y="80.64" width="7.09" height="6.52" fill="#ff5200"/><rect x="6.65" y="86.66" width="7.09" height="6.52" fill="#ff0000"/><rect x="13.24" y="86.66" width="7.09" height="6.52" fill="#ff0000"/><rect x="19.83" y="86.66" width="7.09" height="6.52" fill="#ff0000"/><rect x="26.42" y="86.66" width="7.09" height="6.52" fill="#00ff00"/><rect x="33.02" y="86.66" width="7.09" height="6.52" fill="#bfff00"/><rect x="39.61" y="86.66" width="7.09" height="6.52" fill="#bfff00"/><rect x="46.20" y="86.66" width="7.09" height="6.52" fill="#ff6b00"/><rect x="52.79" y="86.66" width="7.09" height="6.52" fill="#ff0000"/><rect x="59.38" y="86.66" width="7.09" height="6.52" fill="#ff0000"/><rect x="65.97" y="86.66" width="7.09" height="6.52" fill="#ff0000"/><rect x="72.57" y="86.66" width="7.09" height="6.52" fill="#ff5200"/><rect x="79.16" y="86.66" width="7.09" height="6.52" fill="#ff6b00"/><rect x="6.65" y="92.68" width="7.09" height="6.52" fill="#ff0000"/><rect x="13.24" y="92.68" width="7.09" height="6.52" fill="#ff0000"/><rect x="19.83" y="92.68" width="7.09" height="6.52" fill="#ffa500"/><rect x="26.42" y="92.68" width="7.09" height="6.52" fill="#006400"/><rect x="33.02" y="92.68" width="7.09" height="6.52" fill="#bfff00"/><rect x="39.61" y="92.68" width="7.09" height="6.52" fill="#bfff00"/><rect x="46.20" y="92.68" width="7.09" height="6.52" fill="#ff6b00"/><rect x="52.79" y="92.68" width="7.09" height="6.52" fill="#ff0000"/><rect x="59.38" y="92.68" width="7.09" height="6.52" fill="#ff0000"/><rect x="65.97" y="92.68" width="7.09" height="6.52" fill="#ff0000"/><rect x="72.57" y="92.68" width="7.09" height="6.52" fill="#ff2900"/><rect x="79.16" y="92.68" width="7.09" height="6.52" fill="#ff5200"/><rect x="6.65" y="98.71" width="7.09" height="6.52" fill="#ffa500"/><rect x="13.24" y="98.71" width="7.09" height="6.52" fill="#ffa500"/><rect x="19.83" y="98.71" width="7.09" height="6.52" fill="#006400"/><rect x="26.42" y="98.71" width="7.09" height="6.52" fill="#006400"/><rect x="33.02" y="98.71" width="7.09" height="6.52" fill="#ffe800"/><rect x="39.61" y="98.71" width="7.09" height="6.52" fill="#c50000"/><rect x="46.20" y="98.71" width="7.09" height="6.52" fill="#ff2900"/><rect x="52.79" y="98.71" width="7.09" height="6.52" fill="#ff0000"/><rect x="59.38" y="98.71" width="7.09" height="6.52" fill="#ff0000"/><rect x="65.97" y="98.71" width="7.09" height="6.52" fill="#ff0000"/><rect x="72.57" y="98.71" width="7.09" height="6.52" fill="#ff2900"/><rect x="79.16" y="98.71" width="7.09" height="6.52" fill="#ff5200"/><rect x="6.65" y="104.73" width="7.09" height="6.52" fill="#ffffff"/><rect x="13.24" y="104.73" width="7.09" height="6.52" fill="#ffffff"/><rect x="19.83" y="104.73" width="7.09" height="6.52" fill="#ff5200"/><rect x="26.42" y="104.73" width="7.09" height="6.52" fill="#ffd200"/><rect x="33.02" y="104.73" width="7.09" height="6.52" fill="#ffd200"/><rect x="39.61" y="104.73" width="7.09" height="6.52" fill="#c50000"/><rect x="46.20" y="104.73" width="7.09" height="6.52" fill="#c50000"/><rect x="52.79" y="104.73" width="7.09" height="6.52" fill="#c50000"/><rect x="59.38" y="104.73" width="7.09" height="6.52" fill="#c50000"/><rect x="65.97" y="104.73" width="7.09" height="6.52" fill="#c50000"/><rect x="72.57" y="104.73" width="7.09" height="6.52" fill="#ff6b00"/><rect x="79.16" y="104.73" width="7.09" height="6.52" fill="#ff6b00"/></g><g fill="none" stroke="#b0b0b0" stroke-width="1.2"><path clip-path="url(#cNE)" d="M69.10 29.90v5.78M74.70 29.90v5.78M80.30 29.90v5.78M85.90 29.90v5.78M108.30 29.90v5.78M113.90 29.90v5.78M119.50 29.90v5.78M125.10 29.90v5.78M130.70 29.90v5.78M136.30 29.90v5.78M141.90 29.90v5.78M147.50 29.90v5.78M153.10 29.90v5.78M158.70 29.90v5.78M69.10 35.68v5.78M74.70 35.68v5.78M80.30 35.68v5.78M85.90 35.68v5.78M108.30 35.68v5.78M113.90 35.68v5.78M119.50 35.68v5.78M125.10 35.68v5.78M130.70 35.68v5.78M136.30 35.68v5.78M141.90 35.68v5.78M147.50 35.68v5.78M153.10 35.68v5.78M158.70 35.68v5.78M69.10 41.46v5.78M80.30 41.46v5.78M85.90 41.46v5.78M91.50 41.46v5.78M97.10 41.46v5.78M108.30 41.46v5.78M113.90 41.46v5.78M119.50 41.46v5.78M125.10 41.46v5.78M130.70 41.46v5.78M136.30 41.46v5.78M141.90 41.46v5.78M147.50 41.46v5.78M153.10 41.46v5.78M158.70 41.46v5.78M69.10 47.24v5.78M80.30 47.24v5.78M85.90 47.24v5.78M91.50 47.24v5.78M97.10 47.24v5.78M102.70 47.24v5.78M113.90 47.24v5.78M119.50 47.24v5.78M125.10 47.24v5.78M130.70 47.24v5.78M136.30 47.24v5.78M141.90 47.24v5.78M147.50 47.24v5.78M153.10 47.24v5.78M158.70 47.24v5.78M69.10 53.01v5.78M74.70 53.01v5.78M80.30 53.01v5.78M85.90 53.01v5.78M91.50 53.01v5.78M102.70 53.01v5.78M113.90 53.01v5.78M119.50 53.01v5.78M125.10 53.01v5.78M130.70 53.01v5.78M136.30 53.01v5.78M141.90 53.01v5.78M147.50 53.01v5.78M153.10 53.01v5.78M158.70 53.01v5.78M91.50 58.79v5.78M97.10 58.79v5.78M102.70 58.79v5.78M108.30 58.79v5.78M113.90 58.79v5.78M119.50 58.79v5.78M125.10 58.79v5.78M130.70 58.79v5.78M136.30 58.79v5.78M141.90 58.79v5.78M147.50 58.79v5.78M153.10 58.79v5.78M158.70 58.79v5.78M91.50 64.57v5.78M97.10 64.57v5.78M108.30 64.57v5.78M113.90 64.57v5.78M119.50 64.57v5.78M125.10 64.57v5.78M130.70 64.57v5.78M136.30 64.57v5.78M141.90 64.57v5.78M147.50 64.57v5.78M153.10 64.57v5.78M158.70 64.57v5.78M69.10 35.68h5.60M74.70 35.68h5.60M108.30 35.68h5.60M113.90 35.68h5.60M119.50 35.68h5.60M125.10 35.68h5.60M130.70 35.68h5.60M136.30 35.68h5.60M141.90 35.68h5.60M147.50 35.68h5.60M153.10 35.68h5.60M158.70 35.68h5.60M63.50 41.46h5.60M69.10 41.46h5.60M85.90 41.46h5.60M91.50 41.46h5.60M97.10 41.46h5.60M102.70 41.46h5.60M108.30 41.46h5.60M113.90 41.46h5.60M119.50 41.46h5.60M125.10 41.46h5.60M130.70 41.46h5.60M136.30 41.46h5.60M141.90 41.46h5.60M147.50 41.46h5.60M153.10 41.46h5.60M158.70 41.46h5.60M63.50 47.24h5.60M69.10 47.24h5.60M74.70 47.24h5.60M80.30 47.24h5.60M85.90 47.24h5.60M91.50 47.24h5.60M97.10 47.24h5.60M102.70 47.24h5.60M108.30 47.24h5.60M113.90 47.24h5.60M119.50 47.24h5.60M125.10 47.24h5.60M130.70 47.24h5.60M136.30 47.24h5.60M141.90 47.24h5.60M147.50 47.24h5.60M153.10 47.24h5.60M158.70 47.24h5.60M63.50 53.01h5.60M69.10 53.01h5.60M74.70 53.01h5.60M80.30 53.01h5.60M85.90 53.01h5.60M91.50 53.01h5.60M97.10 53.01h5.60M102.70 53.01h5.60M108.30 53.01h5.60M113.90 53.01h5.60M119.50 53.01h5.60M125.10 53.01h5.60M130.70 53.01h5.60M136.30 53.01h5.60M141.90 53.01h5.60M147.50 53.01h5.60M153.10 53.01h5.60M158.70 53.01h5.60M85.90 58.79h5.60M91.50 58.79h5.60M97.10 58.79h5.60M102.70 58.79h5.60M108.30 58.79h5.60M113.90 58.79h5.60M119.50 58.79h5.60M125.10 58.79h5.60M130.70 58.79h5.60M136.30 58.79h5.60M141.90 58.79h5.60M147.50 58.79h5.60M153.10 58.79h5.60M158.70 58.79h5.60M85.90 64.57h5.60M91.50 64.57h5.60M97.10 64.57h5.60M102.70 64.57h5.60M108.30 64.57h5.60M113.90 64.57h5.60M119.50 64.57h5.60M125.10 64.57h5.60M130.70 64.57h5.60M136.30 64.57h5.60M141.90 64.57h5.60M147.50 64.57h5.60M153.10 64.57h5.60M158.70 64.57h5.60"/><path clip-path="url(#cCO)" d="M26.67 56.80v6.02M33.27 56.80v6.02M39.86 56.80v6.02M53.04 56.80v6.02M66.22 56.80v6.02M79.41 56.80v6.02M26.67 62.82v6.02M33.27 62.82v6.02M39.86 62.82v6.02M46.45 62.82v6.02M53.04 62.82v6.02M59.63 62.82v6.02M66.22 62.82v6.02M79.41 62.82v6.02M20.08 68.84v6.02M26.67 68.84v6.02M33.27 68.84v6.02M39.86 68.84v6.02M46.45 68.84v6.02M53.04 68.84v6.02M66.22 68.84v6.02M79.41 68.84v6.02M26.67 74.87v6.02M33.27 74.87v6.02M39.86 74.87v6.02M46.45 74.87v6.02M53.04 74.87v6.02M59.63 74.87v6.02M66.22 74.87v6.02M72.82 74.87v6.02M20.08 80.89v6.02M26.67 80.89v6.02M33.27 80.89v6.02M39.86 80.89v6.02M46.45 80.89v6.02M53.04 80.89v6.02M59.63 80.89v6.02M72.82 80.89v6.02M13.49 86.91v6.02M20.08 86.91v6.02M26.67 86.91v6.02M33.27 86.91v6.02M39.86 86.91v6.02M46.45 86.91v6.02M53.04 86.91v6.02M59.63 86.91v6.02M66.22 86.91v6.02M72.82 86.91v6.02M79.41 86.91v6.02M13.49 92.93v6.02M20.08 92.93v6.02M26.67 92.93v6.02M33.27 92.93v6.02M39.86 92.93v6.02M46.45 92.93v6.02M53.04 92.93v6.02M59.63 92.93v6.02M66.22 92.93v6.02M72.82 92.93v6.02M79.41 92.93v6.02M13.49 98.96v6.02M20.08 98.96v6.02M26.67 98.96v6.02M33.27 98.96v6.02M39.86 98.96v6.02M46.45 98.96v6.02M53.04 98.96v6.02M59.63 98.96v6.02M66.22 98.96v6.02M72.82 98.96v6.02M79.41 98.96v6.02M13.49 104.98v6.02M20.08 104.98v6.02M26.67 104.98v6.02M33.27 104.98v6.02M39.86 104.98v6.02M66.22 104.98v6.02M72.82 104.98v6.02M33.27 62.82h6.59M39.86 62.82h6.59M46.45 62.82h6.59M59.63 62.82h6.59M66.22 62.82h6.59M72.82 62.82h6.59M79.41 62.82h6.59M6.90 68.84h6.59M13.49 68.84h6.59M20.08 68.84h6.59M26.67 68.84h6.59M39.86 68.84h6.59M46.45 68.84h6.59M53.04 68.84h6.59M59.63 68.84h6.59M6.90 74.87h6.59M13.49 74.87h6.59M20.08 74.87h6.59M33.27 74.87h6.59M39.86 74.87h6.59M46.45 74.87h6.59M53.04 74.87h6.59M59.63 74.87h6.59M66.22 74.87h6.59M72.82 74.87h6.59M79.41 74.87h6.59M6.90 80.89h6.59M13.49 80.89h6.59M20.08 80.89h6.59M26.67 80.89h6.59M33.27 80.89h6.59M39.86 80.89h6.59M46.45 80.89h6.59M53.04 80.89h6.59M59.63 80.89h6.59M72.82 80.89h6.59M79.41 80.89h6.59M13.49 86.91h6.59M20.08 86.91h6.59M33.27 86.91h6.59M39.86 86.91h6.59M46.45 86.91h6.59M53.04 86.91h6.59M66.22 86.91h6.59M72.82 86.91h6.59M79.41 86.91h6.59M6.90 92.93h6.59M20.08 92.93h6.59M26.67 92.93h6.59M33.27 92.93h6.59M39.86 92.93h6.59M46.45 92.93h6.59M53.04 92.93h6.59M59.63 92.93h6.59M66.22 92.93h6.59M72.82 92.93h6.59M79.41 92.93h6.59M6.90 98.96h6.59M13.49 98.96h6.59M20.08 98.96h6.59M26.67 98.96h6.59M33.27 98.96h6.59M39.86 98.96h6.59M46.45 98.96h6.59M53.04 98.96h6.59M6.90 104.98h6.59M13.49 104.98h6.59M20.08 104.98h6.59M26.67 104.98h6.59M33.27 104.98h6.59M39.86 104.98h6.59M46.45 104.98h6.59M53.04 104.98h6.59M59.63 104.98h6.59M66.22 104.98h6.59M72.82 104.98h6.59M79.41 104.98h6.59"/></g><use href="#grid"/><use href="#outl"/></g>
<g transform="translate(0.00,107.00)"><text x="88.5" y="24.3" class="yr">2013</text><g clip-path="url(#cNE)"><rect x="63.25" y="29.65" width="6.10" height="6.28" fill="#ffa500"/><rect x="68.85" y="29.65" width="6.10" height="6.28" fill="#ffe800"/><rect x="74.45" y="29.65" width="6.10" height="6.28" fill="#bfff00"/><rect x="80.05" y="29.65" width="6.10" height="6.28" fill="#bfff00"/><rect x="85.65" y="29.65" width="6.10" height="6.28" fill="#80ff00"/><rect x="91.25" y="29.65" width="6.10" height="6.28" fill="#80ff00"/><rect x="96.85" y="29.65" width="6.10" height="6.28" fill="#80ff00"/><rect x="102.45" y="29.65" width="6.10" height="6.28" fill="#80ff00"/><rect x="108.05" y="29.65" width="6.10" height="6.28" fill="#80ff00"/><rect x="113.65" y="29.65" width="6.10" height="6.28" fill="#80ff00"/><rect x="119.25" y="29.65" width="6.10" height="6.28" fill="#40ff00"/><rect x="124.85" y="29.65" width="6.10" height="6.28" fill="#40ff00"/><rect x="130.45" y="29.65" width="6.10" height="6.28" fill="#00d800"/><rect x="136.05" y="29.65" width="6.10" height="6.28" fill="#40ff00"/><rect x="141.65" y="29.65" width="6.10" height="6.28" fill="#40ff00"/><rect x="147.25" y="29.65" width="6.10" height="6.28" fill="#80ff00"/><rect x="152.85" y="29.65" width="6.10" height="6.28" fill="#80ff00"/><rect x="158.45" y="29.65" width="6.10" height="6.28" fill="#80ff00"/><rect x="63.25" y="35.43" width="6.10" height="6.28" fill="#ffa500"/><rect x="68.85" y="35.43" width="6.10" height="6.28" fill="#ffff00"/><rect x="74.45" y="35.43" width="6.10" height="6.28" fill="#bfff00"/><rect x="80.05" y="35.43" width="6.10" height="6.28" fill="#bfff00"/><rect x="85.65" y="35.43" width="6.10" height="6.28" fill="#80ff00"/><rect x="91.25" y="35.43" width="6.10" height="6.28" fill="#80ff00"/><rect x="96.85" y="35.43" width="6.10" height="6.28" fill="#80ff00"/><rect x="102.45" y="35.43" width="6.10" height="6.28" fill="#80ff00"/><rect x="108.05" y="35.43" width="6.10" height="6.28" fill="#80ff00"/><rect x="113.65" y="35.43" width="6.10" height="6.28" fill="#80ff00"/><rect x="119.25" y="35.43" width="6.10" height="6.28" fill="#40ff00"/><rect x="124.85" y="35.43" width="6.10" height="6.28" fill="#40ff00"/><rect x="130.45" y="35.43" width="6.10" height="6.28" fill="#40ff00"/><rect x="136.05" y="35.43" width="6.10" height="6.28" fill="#40ff00"/><rect x="141.65" y="35.43" width="6.10" height="6.28" fill="#40ff00"/><rect x="147.25" y="35.43" width="6.10" height="6.28" fill="#40ff00"/><rect x="152.85" y="35.43" width="6.10" height="6.28" fill="#40ff00"/><rect x="158.45" y="35.43" width="6.10" height="6.28" fill="#40ff00"/><rect x="63.25" y="41.21" width="6.10" height="6.28" fill="#ff6b00"/><rect x="68.85" y="41.21" width="6.10" height="6.28" fill="#ffa500"/><rect x="74.45" y="41.21" width="6.10" height="6.28" fill="#ffd200"/><rect x="80.05" y="41.21" width="6.10" height="6.28" fill="#ffe800"/><rect x="85.65" y="41.21" width="6.10" height="6.28" fill="#bfff00"/><rect x="91.25" y="41.21" width="6.10" height="6.28" fill="#80ff00"/><rect x="96.85" y="41.21" width="6.10" height="6.28" fill="#80ff00"/><rect x="102.45" y="41.21" width="6.10" height="6.28" fill="#80ff00"/><rect x="108.05" y="41.21" width="6.10" height="6.28" fill="#80ff00"/><rect x="113.65" y="41.21" width="6.10" height="6.28" fill="#40ff00"/><rect x="119.25" y="41.21" width="6.10" height="6.28" fill="#40ff00"/><rect x="124.85" y="41.21" width="6.10" height="6.28" fill="#40ff00"/><rect x="130.45" y="41.21" width="6.10" height="6.28" fill="#40ff00"/><rect x="136.05" y="41.21" width="6.10" height="6.28" fill="#80ff00"/><rect x="141.65" y="41.21" width="6.10" height="6.28" fill="#40ff00"/><rect x="147.25" y="41.21" width="6.10" height="6.28" fill="#40ff00"/><rect x="152.85" y="41.21" width="6.10" height="6.28" fill="#40ff00"/><rect x="158.45" y="41.21" width="6.10" height="6.28" fill="#40ff00"/><rect x="63.25" y="46.99" width="6.10" height="6.28" fill="#ffa500"/><rect x="68.85" y="46.99" width="6.10" height="6.28" fill="#ffa500"/><rect x="74.45" y="46.99" width="6.10" height="6.28" fill="#ffd200"/><rect x="80.05" y="46.99" width="6.10" height="6.28" fill="#ffe800"/><rect x="85.65" y="46.99" width="6.10" height="6.28" fill="#bfff00"/><rect x="91.25" y="46.99" width="6.10" height="6.28" fill="#bfff00"/><rect x="96.85" y="46.99" width="6.10" height="6.28" fill="#bfff00"/><rect x="102.45" y="46.99" width="6.10" height="6.28" fill="#80ff00"/><rect x="108.05" y="46.99" width="6.10" height="6.28" fill="#80ff00"/><rect x="113.65" y="46.99" width="6.10" height="6.28" fill="#80ff00"/><rect x="119.25" y="46.99" width="6.10" height="6.28" fill="#40ff00"/><rect x="124.85" y="46.99" width="6.10" height="6.28" fill="#40ff00"/><rect x="130.45" y="46.99" width="6.10" height="6.28" fill="#40ff00"/><rect x="136.05" y="46.99" width="6.10" height="6.28" fill="#40ff00"/><rect x="141.65" y="46.99" width="6.10" height="6.28" fill="#40ff00"/><rect x="147.25" y="46.99" width="6.10" height="6.28" fill="#80ff00"/><rect x="152.85" y="46.99" width="6.10" height="6.28" fill="#40ff00"/><rect x="158.45" y="46.99" width="6.10" height="6.28" fill="#40ff00"/><rect x="63.25" y="52.76" width="6.10" height="6.28" fill="#ffa500"/><rect x="68.85" y="52.76" width="6.10" height="6.28" fill="#ffa500"/><rect x="74.45" y="52.76" width="6.10" height="6.28" fill="#ffd200"/><rect x="80.05" y="52.76" width="6.10" height="6.28" fill="#ffe800"/><rect x="85.65" y="52.76" width="6.10" height="6.28" fill="#ffff00"/><rect x="91.25" y="52.76" width="6.10" height="6.28" fill="#ffff00"/><rect x="96.85" y="52.76" width="6.10" height="6.28" fill="#ffff00"/><rect x="102.45" y="52.76" width="6.10" height="6.28" fill="#bfff00"/><rect x="108.05" y="52.76" width="6.10" height="6.28" fill="#80ff00"/><rect x="113.65" y="52.76" width="6.10" height="6.28" fill="#bfff00"/><rect x="119.25" y="52.76" width="6.10" height="6.28" fill="#80ff00"/><rect x="124.85" y="52.76" width="6.10" height="6.28" fill="#80ff00"/><rect x="130.45" y="52.76" width="6.10" height="6.28" fill="#40ff00"/><rect x="136.05" y="52.76" width="6.10" height="6.28" fill="#40ff00"/><rect x="141.65" y="52.76" width="6.10" height="6.28" fill="#40ff00"/><rect x="147.25" y="52.76" width="6.10" height="6.28" fill="#80ff00"/><rect x="152.85" y="52.76" width="6.10" height="6.28" fill="#40ff00"/><rect x="158.45" y="52.76" width="6.10" height="6.28" fill="#40ff00"/><rect x="85.65" y="58.54" width="6.10" height="6.28" fill="#ffff00"/><rect x="91.25" y="58.54" width="6.10" height="6.28" fill="#ffff00"/><rect x="96.85" y="58.54" width="6.10" height="6.28" fill="#ffff00"/><rect x="102.45" y="58.54" width="6.10" height="6.28" fill="#bfff00"/><rect x="108.05" y="58.54" width="6.10" height="6.28" fill="#bfff00"/><rect x="113.65" y="58.54" width="6.10" height="6.28" fill="#ffe800"/><rect x="119.25" y="58.54" width="6.10" height="6.28" fill="#bfff00"/><rect x="124.85" y="58.54" width="6.10" height="6.28" fill="#bfff00"/><rect x="130.45" y="58.54" width="6.10" height="6.28" fill="#40ff00"/><rect x="136.05" y="58.54" width="6.10" height="6.28" fill="#80ff00"/><rect x="141.65" y="58.54" width="6.10" height="6.28" fill="#40ff00"/><rect x="147.25" y="58.54" width="6.10" height="6.28" fill="#00d800"/><rect x="152.85" y="58.54" width="6.10" height="6.28" fill="#40ff00"/><rect x="158.45" y="58.54" width="6.10" height="6.28" fill="#40ff00"/><rect x="85.65" y="64.32" width="6.10" height="6.28" fill="#ffd200"/><rect x="91.25" y="64.32" width="6.10" height="6.28" fill="#ffe800"/><rect x="96.85" y="64.32" width="6.10" height="6.28" fill="#ffe800"/><rect x="102.45" y="64.32" width="6.10" height="6.28" fill="#ffa500"/><rect x="108.05" y="64.32" width="6.10" height="6.28" fill="#ffd200"/><rect x="113.65" y="64.32" width="6.10" height="6.28" fill="#ffd200"/><rect x="119.25" y="64.32" width="6.10" height="6.28" fill="#ffe800"/><rect x="124.85" y="64.32" width="6.10" height="6.28" fill="#ffff00"/><rect x="130.45" y="64.32" width="6.10" height="6.28" fill="#40ff00"/><rect x="136.05" y="64.32" width="6.10" height="6.28" fill="#40ff00"/><rect x="141.65" y="64.32" width="6.10" height="6.28" fill="#40ff00"/><rect x="147.25" y="64.32" width="6.10" height="6.28" fill="#00d800"/><rect x="152.85" y="64.32" width="6.10" height="6.28" fill="#00d800"/><rect x="158.45" y="64.32" width="6.10" height="6.28" fill="#00d800"/></g><g clip-path="url(#cKS)"><rect x="85.75" y="70.10" width="6.10" height="6.31" fill="#ffd200"/><rect x="91.35" y="70.10" width="6.10" height="6.31" fill="#ffd200"/><rect x="96.95" y="70.10" width="6.10" height="6.31" fill="#ffa500"/><rect x="102.55" y="70.10" width="6.10" height="6.31" fill="#ffd200"/><rect x="108.15" y="70.10" width="6.10" height="6.31" fill="#ffa500"/><rect x="113.75" y="70.10" width="6.10" height="6.31" fill="#80ff00"/><rect x="119.35" y="70.10" width="6.10" height="6.31" fill="#40ff00"/><rect x="124.95" y="70.10" width="6.10" height="6.31" fill="#00ff00"/><rect x="130.55" y="70.10" width="6.10" height="6.31" fill="#00ff00"/><rect x="136.15" y="70.10" width="6.10" height="6.31" fill="#40ff00"/><rect x="141.75" y="70.10" width="6.10" height="6.31" fill="#40ff00"/><rect x="147.35" y="70.10" width="6.10" height="6.31" fill="#00ff00"/><rect x="152.95" y="70.10" width="6.10" height="6.31" fill="#00d800"/><rect x="158.55" y="70.10" width="6.10" height="6.31" fill="#00ff00"/><rect x="164.15" y="70.10" width="6.10" height="6.31" fill="#00ff00"/><rect x="85.75" y="75.91" width="6.10" height="6.31" fill="#ffa500"/><rect x="91.35" y="75.91" width="6.10" height="6.31" fill="#ffa500"/><rect x="96.95" y="75.91" width="6.10" height="6.31" fill="#ffd200"/><rect x="102.55" y="75.91" width="6.10" height="6.31" fill="#ffe800"/><rect x="108.15" y="75.91" width="6.10" height="6.31" fill="#bfff00"/><rect x="113.75" y="75.91" width="6.10" height="6.31" fill="#80ff00"/><rect x="119.35" y="75.91" width="6.10" height="6.31" fill="#80ff00"/><rect x="124.95" y="75.91" width="6.10" height="6.31" fill="#00ff00"/><rect x="130.55" y="75.91" width="6.10" height="6.31" fill="#00ff00"/><rect x="136.15" y="75.91" width="6.10" height="6.31" fill="#00d800"/><rect x="141.75" y="75.91" width="6.10" height="6.31" fill="#00ff00"/><rect x="147.35" y="75.91" width="6.10" height="6.31" fill="#00d800"/><rect x="152.95" y="75.91" width="6.10" height="6.31" fill="#00d800"/><rect x="158.55" y="75.91" width="6.10" height="6.31" fill="#40ff00"/><rect x="164.15" y="75.91" width="6.10" height="6.31" fill="#00ff00"/><rect x="85.75" y="81.71" width="6.10" height="6.31" fill="#ffa500"/><rect x="91.35" y="81.71" width="6.10" height="6.31" fill="#ffd200"/><rect x="96.95" y="81.71" width="6.10" height="6.31" fill="#ffd200"/><rect x="102.55" y="81.71" width="6.10" height="6.31" fill="#ffe800"/><rect x="108.15" y="81.71" width="6.10" height="6.31" fill="#bfff00"/><rect x="113.75" y="81.71" width="6.10" height="6.31" fill="#80ff00"/><rect x="119.35" y="81.71" width="6.10" height="6.31" fill="#00ff00"/><rect x="124.95" y="81.71" width="6.10" height="6.31" fill="#007700"/><rect x="130.55" y="81.71" width="6.10" height="6.31" fill="#006400"/><rect x="136.15" y="81.71" width="6.10" height="6.31" fill="#006400"/><rect x="141.75" y="81.71" width="6.10" height="6.31" fill="#00d800"/><rect x="147.35" y="81.71" width="6.10" height="6.31" fill="#00ff00"/><rect x="152.95" y="81.71" width="6.10" height="6.31" fill="#00ff00"/><rect x="158.55" y="81.71" width="6.10" height="6.31" fill="#00ff00"/><rect x="164.15" y="81.71" width="6.10" height="6.31" fill="#00ff00"/><rect x="85.75" y="87.52" width="6.10" height="6.31" fill="#ffd200"/><rect x="91.35" y="87.52" width="6.10" height="6.31" fill="#ffd200"/><rect x="96.95" y="87.52" width="6.10" height="6.31" fill="#ffe800"/><rect x="102.55" y="87.52" width="6.10" height="6.31" fill="#ffe800"/><rect x="108.15" y="87.52" width="6.10" height="6.31" fill="#bfff00"/><rect x="113.75" y="87.52" width="6.10" height="6.31" fill="#80ff00"/><rect x="119.35" y="87.52" width="6.10" height="6.31" fill="#007700"/><rect x="124.95" y="87.52" width="6.10" height="6.31" fill="#006400"/><rect x="130.55" y="87.52" width="6.10" height="6.31" fill="#006400"/><rect x="136.15" y="87.52" width="6.10" height="6.31" fill="#007700"/><rect x="141.75" y="87.52" width="6.10" height="6.31" fill="#00b200"/><rect x="147.35" y="87.52" width="6.10" height="6.31" fill="#00d800"/><rect x="152.95" y="87.52" width="6.10" height="6.31" fill="#00ff00"/><rect x="158.55" y="87.52" width="6.10" height="6.31" fill="#00d800"/><rect x="164.15" y="87.52" width="6.10" height="6.31" fill="#00d800"/><rect x="85.75" y="93.33" width="6.10" height="6.31" fill="#ffa500"/><rect x="91.35" y="93.33" width="6.10" height="6.31" fill="#ffe800"/><rect x="96.95" y="93.33" width="6.10" height="6.31" fill="#ffe800"/><rect x="102.55" y="93.33" width="6.10" height="6.31" fill="#bfff00"/><rect x="108.15" y="93.33" width="6.10" height="6.31" fill="#bfff00"/><rect x="113.75" y="93.33" width="6.10" height="6.31" fill="#40ff00"/><rect x="119.35" y="93.33" width="6.10" height="6.31" fill="#00d800"/><rect x="124.95" y="93.33" width="6.10" height="6.31" fill="#006400"/><rect x="130.55" y="93.33" width="6.10" height="6.31" fill="#006400"/><rect x="136.15" y="93.33" width="6.10" height="6.31" fill="#006400"/><rect x="141.75" y="93.33" width="6.10" height="6.31" fill="#007700"/><rect x="147.35" y="93.33" width="6.10" height="6.31" fill="#00b200"/><rect x="152.95" y="93.33" width="6.10" height="6.31" fill="#007700"/><rect x="158.55" y="93.33" width="6.10" height="6.31" fill="#007700"/><rect x="164.15" y="93.33" width="6.10" height="6.31" fill="#007700"/><rect x="85.75" y="99.14" width="6.10" height="6.31" fill="#ffd200"/><rect x="91.35" y="99.14" width="6.10" height="6.31" fill="#ffd200"/><rect x="96.95" y="99.14" width="6.10" height="6.31" fill="#ffe800"/><rect x="102.55" y="99.14" width="6.10" height="6.31" fill="#bfff00"/><rect x="108.15" y="99.14" width="6.10" height="6.31" fill="#80ff00"/><rect x="113.75" y="99.14" width="6.10" height="6.31" fill="#40ff00"/><rect x="119.35" y="99.14" width="6.10" height="6.31" fill="#007700"/><rect x="124.95" y="99.14" width="6.10" height="6.31" fill="#006400"/><rect x="130.55" y="99.14" width="6.10" height="6.31" fill="#006400"/><rect x="136.15" y="99.14" width="6.10" height="6.31" fill="#006400"/><rect x="141.75" y="99.14" width="6.10" height="6.31" fill="#006400"/><rect x="147.35" y="99.14" width="6.10" height="6.31" fill="#007700"/><rect x="152.95" y="99.14" width="6.10" height="6.31" fill="#007700"/><rect x="158.55" y="99.14" width="6.10" height="6.31" fill="#007700"/><rect x="164.15" y="99.14" width="6.10" height="6.31" fill="#007700"/><rect x="85.75" y="104.94" width="6.10" height="6.31" fill="#ffd200"/><rect x="91.35" y="104.94" width="6.10" height="6.31" fill="#ffe800"/><rect x="96.95" y="104.94" width="6.10" height="6.31" fill="#ffe800"/><rect x="102.55" y="104.94" width="6.10" height="6.31" fill="#ffff00"/><rect x="108.15" y="104.94" width="6.10" height="6.31" fill="#80ff00"/><rect x="113.75" y="104.94" width="6.10" height="6.31" fill="#40ff00"/><rect x="119.35" y="104.94" width="6.10" height="6.31" fill="#00ff00"/><rect x="124.95" y="104.94" width="6.10" height="6.31" fill="#007700"/><rect x="130.55" y="104.94" width="6.10" height="6.31" fill="#006400"/><rect x="136.15" y="104.94" width="6.10" height="6.31" fill="#006400"/><rect x="141.75" y="104.94" width="6.10" height="6.31" fill="#006400"/><rect x="147.35" y="104.94" width="6.10" height="6.31" fill="#006400"/><rect x="152.95" y="104.94" width="6.10" height="6.31" fill="#007700"/><rect x="158.55" y="104.94" width="6.10" height="6.31" fill="#007700"/><rect x="164.15" y="104.94" width="6.10" height="6.31" fill="#007700"/></g><g clip-path="url(#cCO)"><rect x="6.65" y="56.55" width="7.09" height="6.52" fill="#ff5200"/><rect x="13.24" y="56.55" width="7.09" height="6.52" fill="#ff5200"/><rect x="19.83" y="56.55" width="7.09" height="6.52" fill="#ff5200"/><rect x="26.42" y="56.55" width="7.09" height="6.52" fill="#40ff00"/><rect x="33.02" y="56.55" width="7.09" height="6.52" fill="#40ff00"/><rect x="39.61" y="56.55" width="7.09" height="6.52" fill="#80ff00"/><rect x="46.20" y="56.55" width="7.09" height="6.52" fill="#00ff00"/><rect x="52.79" y="56.55" width="7.09" height="6.52" fill="#ff6b00"/><rect x="59.38" y="56.55" width="7.09" height="6.52" fill="#ff6b00"/><rect x="65.97" y="56.55" width="7.09" height="6.52" fill="#ffd200"/><rect x="72.57" y="56.55" width="7.09" height="6.52" fill="#ffd200"/><rect x="79.16" y="56.55" width="7.09" height="6.52" fill="#ffd200"/><rect x="6.65" y="62.57" width="7.09" height="6.52" fill="#ff5200"/><rect x="13.24" y="62.57" width="7.09" height="6.52" fill="#ff5200"/><rect x="19.83" y="62.57" width="7.09" height="6.52" fill="#ff5200"/><rect x="26.42" y="62.57" width="7.09" height="6.52" fill="#40ff00"/><rect x="33.02" y="62.57" width="7.09" height="6.52" fill="#00b200"/><rect x="39.61" y="62.57" width="7.09" height="6.52" fill="#00b200"/><rect x="46.20" y="62.57" width="7.09" height="6.52" fill="#00ff00"/><rect x="52.79" y="62.57" width="7.09" height="6.52" fill="#ff6b00"/><rect x="59.38" y="62.57" width="7.09" height="6.52" fill="#ff6b00"/><rect x="65.97" y="62.57" width="7.09" height="6.52" fill="#ffd200"/><rect x="72.57" y="62.57" width="7.09" height="6.52" fill="#ffa500"/><rect x="79.16" y="62.57" width="7.09" height="6.52" fill="#ffa500"/><rect x="6.65" y="68.59" width="7.09" height="6.52" fill="#ffd200"/><rect x="13.24" y="68.59" width="7.09" height="6.52" fill="#ffd200"/><rect x="19.83" y="68.59" width="7.09" height="6.52" fill="#ffd200"/><rect x="26.42" y="68.59" width="7.09" height="6.52" fill="#40ff00"/><rect x="33.02" y="68.59" width="7.09" height="6.52" fill="#00b200"/><rect x="39.61" y="68.59" width="7.09" height="6.52" fill="#00b200"/><rect x="46.20" y="68.59" width="7.09" height="6.52" fill="#ffff00"/><rect x="52.79" y="68.59" width="7.09" height="6.52" fill="#ffd200"/><rect x="59.38" y="68.59" width="7.09" height="6.52" fill="#ffa500"/><rect x="65.97" y="68.59" width="7.09" height="6.52" fill="#ffd200"/><rect x="72.57" y="68.59" width="7.09" height="6.52" fill="#ffa500"/><rect x="79.16" y="68.59" width="7.09" height="6.52" fill="#ffa500"/><rect x="6.65" y="74.62" width="7.09" height="6.52" fill="#ffa500"/><rect x="13.24" y="74.62" width="7.09" height="6.52" fill="#ffa500"/><rect x="19.83" y="74.62" width="7.09" height="6.52" fill="#ffa500"/><rect x="26.42" y="74.62" width="7.09" height="6.52" fill="#40ff00"/><rect x="33.02" y="74.62" width="7.09" height="6.52" fill="#40ff00"/><rect x="39.61" y="74.62" width="7.09" height="6.52" fill="#006400"/><rect x="46.20" y="74.62" width="7.09" height="6.52" fill="#ffe800"/><rect x="52.79" y="74.62" width="7.09" height="6.52" fill="#ffd200"/><rect x="59.38" y="74.62" width="7.09" height="6.52" fill="#ffd200"/><rect x="65.97" y="74.62" width="7.09" height="6.52" fill="#ffa500"/><rect x="72.57" y="74.62" width="7.09" height="6.52" fill="#ffff00"/><rect x="79.16" y="74.62" width="7.09" height="6.52" fill="#ffff00"/><rect x="6.65" y="80.64" width="7.09" height="6.52" fill="#ffd200"/><rect x="13.24" y="80.64" width="7.09" height="6.52" fill="#ff6b00"/><rect x="19.83" y="80.64" width="7.09" height="6.52" fill="#006400"/><rect x="26.42" y="80.64" width="7.09" height="6.52" fill="#006400"/><rect x="33.02" y="80.64" width="7.09" height="6.52" fill="#006400"/><rect x="39.61" y="80.64" width="7.09" height="6.52" fill="#00b200"/><rect x="46.20" y="80.64" width="7.09" height="6.52" fill="#00b200"/><rect x="52.79" y="80.64" width="7.09" height="6.52" fill="#ffa500"/><rect x="59.38" y="80.64" width="7.09" height="6.52" fill="#ffd200"/><rect x="65.97" y="80.64" width="7.09" height="6.52" fill="#ffd200"/><rect x="72.57" y="80.64" width="7.09" height="6.52" fill="#ffff00"/><rect x="79.16" y="80.64" width="7.09" height="6.52" fill="#ffff00"/><rect x="6.65" y="86.66" width="7.09" height="6.52" fill="#ffa500"/><rect x="13.24" y="86.66" width="7.09" height="6.52" fill="#ffa500"/><rect x="19.83" y="86.66" width="7.09" height="6.52" fill="#006400"/><rect x="26.42" y="86.66" width="7.09" height="6.52" fill="#006400"/><rect x="33.02" y="86.66" width="7.09" height="6.52" fill="#40ff00"/><rect x="39.61" y="86.66" width="7.09" height="6.52" fill="#ffff00"/><rect x="46.20" y="86.66" width="7.09" height="6.52" fill="#ffff00"/><rect x="52.79" y="86.66" width="7.09" height="6.52" fill="#ff5200"/><rect x="59.38" y="86.66" width="7.09" height="6.52" fill="#ff0000"/><rect x="65.97" y="86.66" width="7.09" height="6.52" fill="#ffa500"/><rect x="72.57" y="86.66" width="7.09" height="6.52" fill="#ffa500"/><rect x="79.16" y="86.66" width="7.09" height="6.52" fill="#ffa500"/><rect x="6.65" y="92.68" width="7.09" height="6.52" fill="#ffa500"/><rect x="13.24" y="92.68" width="7.09" height="6.52" fill="#ffa500"/><rect x="19.83" y="92.68" width="7.09" height="6.52" fill="#006400"/><rect x="26.42" y="92.68" width="7.09" height="6.52" fill="#006400"/><rect x="33.02" y="92.68" width="7.09" height="6.52" fill="#40ff00"/><rect x="39.61" y="92.68" width="7.09" height="6.52" fill="#40ff00"/><rect x="46.20" y="92.68" width="7.09" height="6.52" fill="#ffff00"/><rect x="52.79" y="92.68" width="7.09" height="6.52" fill="#ff5200"/><rect x="59.38" y="92.68" width="7.09" height="6.52" fill="#ff6b00"/><rect x="65.97" y="92.68" width="7.09" height="6.52" fill="#ff6b00"/><rect x="72.57" y="92.68" width="7.09" height="6.52" fill="#ffa500"/><rect x="79.16" y="92.68" width="7.09" height="6.52" fill="#ffa500"/><rect x="6.65" y="98.71" width="7.09" height="6.52" fill="#bfff00"/><rect x="13.24" y="98.71" width="7.09" height="6.52" fill="#ffe800"/><rect x="19.83" y="98.71" width="7.09" height="6.52" fill="#006400"/><rect x="26.42" y="98.71" width="7.09" height="6.52" fill="#006400"/><rect x="33.02" y="98.71" width="7.09" height="6.52" fill="#80ff00"/><rect x="39.61" y="98.71" width="7.09" height="6.52" fill="#ffa500"/><rect x="46.20" y="98.71" width="7.09" height="6.52" fill="#ffd200"/><rect x="52.79" y="98.71" width="7.09" height="6.52" fill="#ffa500"/><rect x="59.38" y="98.71" width="7.09" height="6.52" fill="#ffa500"/><rect x="65.97" y="98.71" width="7.09" height="6.52" fill="#ffa500"/><rect x="72.57" y="98.71" width="7.09" height="6.52" fill="#ffa500"/><rect x="79.16" y="98.71" width="7.09" height="6.52" fill="#ffa500"/><rect x="6.65" y="104.73" width="7.09" height="6.52" fill="#ff6b00"/><rect x="13.24" y="104.73" width="7.09" height="6.52" fill="#ffe800"/><rect x="19.83" y="104.73" width="7.09" height="6.52" fill="#80ff00"/><rect x="26.42" y="104.73" width="7.09" height="6.52" fill="#80ff00"/><rect x="33.02" y="104.73" width="7.09" height="6.52" fill="#bfff00"/><rect x="39.61" y="104.73" width="7.09" height="6.52" fill="#ffa500"/><rect x="46.20" y="104.73" width="7.09" height="6.52" fill="#ffa500"/><rect x="52.79" y="104.73" width="7.09" height="6.52" fill="#ffa500"/><rect x="59.38" y="104.73" width="7.09" height="6.52" fill="#ffa500"/><rect x="65.97" y="104.73" width="7.09" height="6.52" fill="#ffa500"/><rect x="72.57" y="104.73" width="7.09" height="6.52" fill="#ffa500"/><rect x="79.16" y="104.73" width="7.09" height="6.52" fill="#ffa500"/></g><g fill="none" stroke="#b0b0b0" stroke-width="1.2"><path clip-path="url(#cNE)" d="M69.10 29.90v5.78M74.70 29.90v5.78M80.30 29.90v5.78M85.90 29.90v5.78M108.30 29.90v5.78M113.90 29.90v5.78M119.50 29.90v5.78M125.10 29.90v5.78M130.70 29.90v5.78M136.30 29.90v5.78M141.90 29.90v5.78M147.50 29.90v5.78M153.10 29.90v5.78M158.70 29.90v5.78M69.10 35.68v5.78M74.70 35.68v5.78M80.30 35.68v5.78M85.90 35.68v5.78M108.30 35.68v5.78M113.90 35.68v5.78M119.50 35.68v5.78M125.10 35.68v5.78M130.70 35.68v5.78M136.30 35.68v5.78M141.90 35.68v5.78M147.50 35.68v5.78M153.10 35.68v5.78M158.70 35.68v5.78M69.10 41.46v5.78M74.70 41.46v5.78M80.30 41.46v5.78M85.90 41.46v5.78M91.50 41.46v5.78M97.10 41.46v5.78M108.30 41.46v5.78M113.90 41.46v5.78M119.50 41.46v5.78M125.10 41.46v5.78M130.70 41.46v5.78M136.30 41.46v5.78M141.90 41.46v5.78M147.50 41.46v5.78M153.10 41.46v5.78M158.70 41.46v5.78M69.10 47.24v5.78M74.70 47.24v5.78M80.30 47.24v5.78M85.90 47.24v5.78M91.50 47.24v5.78M97.10 47.24v5.78M102.70 47.24v5.78M113.90 47.24v5.78M119.50 47.24v5.78M125.10 47.24v5.78M130.70 47.24v5.78M136.30 47.24v5.78M141.90 47.24v5.78M147.50 47.24v5.78M153.10 47.24v5.78M158.70 47.24v5.78M69.10 53.01v5.78M74.70 53.01v5.78M80.30 53.01v5.78M85.90 53.01v5.78M91.50 53.01v5.78M102.70 53.01v5.78M108.30 53.01v5.78M113.90 53.01v5.78M119.50 53.01v5.78M125.10 53.01v5.78M130.70 53.01v5.78M136.30 53.01v5.78M141.90 53.01v5.78M147.50 53.01v5.78M153.10 53.01v5.78M158.70 53.01v5.78M91.50 58.79v5.78M97.10 58.79v5.78M102.70 58.79v5.78M108.30 58.79v5.78M113.90 58.79v5.78M119.50 58.79v5.78M125.10 58.79v5.78M130.70 58.79v5.78M136.30 58.79v5.78M141.90 58.79v5.78M147.50 58.79v5.78M153.10 58.79v5.78M158.70 58.79v5.78M91.50 64.57v5.78M97.10 64.57v5.78M102.70 64.57v5.78M108.30 64.57v5.78M113.90 64.57v5.78M119.50 64.57v5.78M125.10 64.57v5.78M130.70 64.57v5.78M136.30 64.57v5.78M141.90 64.57v5.78M147.50 64.57v5.78M153.10 64.57v5.78M158.70 64.57v5.78M69.10 35.68h5.60M74.70 35.68h5.60M108.30 35.68h5.60M113.90 35.68h5.60M119.50 35.68h5.60M125.10 35.68h5.60M130.70 35.68h5.60M136.30 35.68h5.60M141.90 35.68h5.60M147.50 35.68h5.60M153.10 35.68h5.60M158.70 35.68h5.60M63.50 41.46h5.60M69.10 41.46h5.60M74.70 41.46h5.60M80.30 41.46h5.60M85.90 41.46h5.60M91.50 41.46h5.60M97.10 41.46h5.60M102.70 41.46h5.60M108.30 41.46h5.60M113.90 41.46h5.60M119.50 41.46h5.60M125.10 41.46h5.60M130.70 41.46h5.60M136.30 41.46h5.60M141.90 41.46h5.60M147.50 41.46h5.60M153.10 41.46h5.60M158.70 41.46h5.60M63.50 47.24h5.60M69.10 47.24h5.60M74.70 47.24h5.60M80.30 47.24h5.60M85.90 47.24h5.60M91.50 47.24h5.60M97.10 47.24h5.60M102.70 47.24h5.60M108.30 47.24h5.60M113.90 47.24h5.60M119.50 47.24h5.60M125.10 47.24h5.60M130.70 47.24h5.60M136.30 47.24h5.60M141.90 47.24h5.60M147.50 47.24h5.60M153.10 47.24h5.60M158.70 47.24h5.60M63.50 53.01h5.60M69.10 53.01h5.60M74.70 53.01h5.60M80.30 53.01h5.60M85.90 53.01h5.60M91.50 53.01h5.60M97.10 53.01h5.60M102.70 53.01h5.60M113.90 53.01h5.60M119.50 53.01h5.60M125.10 53.01h5.60M130.70 53.01h5.60M136.30 53.01h5.60M141.90 53.01h5.60M147.50 53.01h5.60M153.10 53.01h5.60M158.70 53.01h5.60M85.90 58.79h5.60M91.50 58.79h5.60M97.10 58.79h5.60M102.70 58.79h5.60M108.30 58.79h5.60M113.90 58.79h5.60M119.50 58.79h5.60M125.10 58.79h5.60M130.70 58.79h5.60M136.30 58.79h5.60M141.90 58.79h5.60M147.50 58.79h5.60M153.10 58.79h5.60M158.70 58.79h5.60M85.90 64.57h5.60M91.50 64.57h5.60M97.10 64.57h5.60M102.70 64.57h5.60M108.30 64.57h5.60M113.90 64.57h5.60M119.50 64.57h5.60M125.10 64.57h5.60M130.70 64.57h5.60M136.30 64.57h5.60M141.90 64.57h5.60M147.50 64.57h5.60M153.10 64.57h5.60M158.70 64.57h5.60"/><path clip-path="url(#cCO)" d="M26.67 56.80v6.02M33.27 56.80v6.02M39.86 56.80v6.02M46.45 56.80v6.02M53.04 56.80v6.02M66.22 56.80v6.02M79.41 56.80v6.02M26.67 62.82v6.02M33.27 62.82v6.02M39.86 62.82v6.02M46.45 62.82v6.02M53.04 62.82v6.02M59.63 62.82v6.02M66.22 62.82v6.02M72.82 62.82v6.02M79.41 62.82v6.02M20.08 68.84v6.02M26.67 68.84v6.02M33.27 68.84v6.02M39.86 68.84v6.02M46.45 68.84v6.02M53.04 68.84v6.02M59.63 68.84v6.02M66.22 68.84v6.02M72.82 68.84v6.02M79.41 68.84v6.02M26.67 74.87v6.02M33.27 74.87v6.02M39.86 74.87v6.02M46.45 74.87v6.02M53.04 74.87v6.02M59.63 74.87v6.02M66.22 74.87v6.02M72.82 74.87v6.02M13.49 80.89v6.02M20.08 80.89v6.02M26.67 80.89v6.02M33.27 80.89v6.02M39.86 80.89v6.02M46.45 80.89v6.02M53.04 80.89v6.02M59.63 80.89v6.02M72.82 80.89v6.02M13.49 86.91v6.02M20.08 86.91v6.02M26.67 86.91v6.02M33.27 86.91v6.02M39.86 86.91v6.02M46.45 86.91v6.02M53.04 86.91v6.02M59.63 86.91v6.02M66.22 86.91v6.02M72.82 86.91v6.02M13.49 92.93v6.02M20.08 92.93v6.02M26.67 92.93v6.02M33.27 92.93v6.02M39.86 92.93v6.02M46.45 92.93v6.02M53.04 92.93v6.02M59.63 92.93v6.02M66.22 92.93v6.02M72.82 92.93v6.02M79.41 92.93v6.02M13.49 98.96v6.02M20.08 98.96v6.02M26.67 98.96v6.02M33.27 98.96v6.02M39.86 98.96v6.02M46.45 98.96v6.02M53.04 98.96v6.02M59.63 98.96v6.02M66.22 98.96v6.02M79.41 98.96v6.02M13.49 104.98v6.02M20.08 104.98v6.02M26.67 104.98v6.02M33.27 104.98v6.02M39.86 104.98v6.02M66.22 104.98v6.02M33.27 62.82h6.59M39.86 62.82h6.59M46.45 62.82h6.59M59.63 62.82h6.59M66.22 62.82h6.59M72.82 62.82h6.59M79.41 62.82h6.59M6.90 68.84h6.59M13.49 68.84h6.59M20.08 68.84h6.59M26.67 68.84h6.59M39.86 68.84h6.59M46.45 68.84h6.59M53.04 68.84h6.59M59.63 68.84h6.59M6.90 74.87h6.59M13.49 74.87h6.59M20.08 74.87h6.59M33.27 74.87h6.59M39.86 74.87h6.59M46.45 74.87h6.59M53.04 74.87h6.59M59.63 74.87h6.59M66.22 74.87h6.59M72.82 74.87h6.59M79.41 74.87h6.59M6.90 80.89h6.59M13.49 80.89h6.59M20.08 80.89h6.59M26.67 80.89h6.59M33.27 80.89h6.59M39.86 80.89h6.59M46.45 80.89h6.59M53.04 80.89h6.59M59.63 80.89h6.59M66.22 80.89h6.59M6.90 86.91h6.59M13.49 86.91h6.59M20.08 86.91h6.59M33.27 86.91h6.59M39.86 86.91h6.59M46.45 86.91h6.59M53.04 86.91h6.59M59.63 86.91h6.59M66.22 86.91h6.59M72.82 86.91h6.59M79.41 86.91h6.59M6.90 92.93h6.59M20.08 92.93h6.59M26.67 92.93h6.59M33.27 92.93h6.59M39.86 92.93h6.59M46.45 92.93h6.59M53.04 92.93h6.59M59.63 92.93h6.59M66.22 92.93h6.59M72.82 92.93h6.59M79.41 92.93h6.59M6.90 98.96h6.59M13.49 98.96h6.59M20.08 98.96h6.59M26.67 98.96h6.59M33.27 98.96h6.59M39.86 98.96h6.59M46.45 98.96h6.59M53.04 98.96h6.59M59.63 98.96h6.59M66.22 98.96h6.59M6.90 104.98h6.59M13.49 104.98h6.59M20.08 104.98h6.59M26.67 104.98h6.59M33.27 104.98h6.59M39.86 104.98h6.59M46.45 104.98h6.59M59.63 104.98h6.59M66.22 104.98h6.59M72.82 104.98h6.59M79.41 104.98h6.59"/></g><use href="#grid"/><use href="#outl"/></g>
<g transform="translate(186.15,107.00)"><text x="88.5" y="24.3" class="yr">2015</text><g clip-path="url(#cNE)"><rect x="63.25" y="29.65" width="6.10" height="6.28" fill="#bfff00"/><rect x="68.85" y="29.65" width="6.10" height="6.28" fill="#bfff00"/><rect x="74.45" y="29.65" width="6.10" height="6.28" fill="#bfff00"/><rect x="80.05" y="29.65" width="6.10" height="6.28" fill="#bfff00"/><rect x="85.65" y="29.65" width="6.10" height="6.28" fill="#40ff00"/><rect x="91.25" y="29.65" width="6.10" height="6.28" fill="#40ff00"/><rect x="96.85" y="29.65" width="6.10" height="6.28" fill="#40ff00"/><rect x="102.45" y="29.65" width="6.10" height="6.28" fill="#40ff00"/><rect x="108.05" y="29.65" width="6.10" height="6.28" fill="#40ff00"/><rect x="113.65" y="29.65" width="6.10" height="6.28" fill="#40ff00"/><rect x="119.25" y="29.65" width="6.10" height="6.28" fill="#00ff00"/><rect x="124.85" y="29.65" width="6.10" height="6.28" fill="#00ff00"/><rect x="130.45" y="29.65" width="6.10" height="6.28" fill="#00d800"/><rect x="136.05" y="29.65" width="6.10" height="6.28" fill="#00b200"/><rect x="141.65" y="29.65" width="6.10" height="6.28" fill="#00b200"/><rect x="147.25" y="29.65" width="6.10" height="6.28" fill="#007700"/><rect x="152.85" y="29.65" width="6.10" height="6.28" fill="#007700"/><rect x="158.45" y="29.65" width="6.10" height="6.28" fill="#007700"/><rect x="63.25" y="35.43" width="6.10" height="6.28" fill="#bfff00"/><rect x="68.85" y="35.43" width="6.10" height="6.28" fill="#80ff00"/><rect x="74.45" y="35.43" width="6.10" height="6.28" fill="#bfff00"/><rect x="80.05" y="35.43" width="6.10" height="6.28" fill="#bfff00"/><rect x="85.65" y="35.43" width="6.10" height="6.28" fill="#40ff00"/><rect x="91.25" y="35.43" width="6.10" height="6.28" fill="#40ff00"/><rect x="96.85" y="35.43" width="6.10" height="6.28" fill="#40ff00"/><rect x="102.45" y="35.43" width="6.10" height="6.28" fill="#40ff00"/><rect x="108.05" y="35.43" width="6.10" height="6.28" fill="#00ff00"/><rect x="113.65" y="35.43" width="6.10" height="6.28" fill="#40ff00"/><rect x="119.25" y="35.43" width="6.10" height="6.28" fill="#00ff00"/><rect x="124.85" y="35.43" width="6.10" height="6.28" fill="#00ff00"/><rect x="130.45" y="35.43" width="6.10" height="6.28" fill="#007700"/><rect x="136.05" y="35.43" width="6.10" height="6.28" fill="#00b200"/><rect x="141.65" y="35.43" width="6.10" height="6.28" fill="#00b200"/><rect x="147.25" y="35.43" width="6.10" height="6.28" fill="#007700"/><rect x="152.85" y="35.43" width="6.10" height="6.28" fill="#007700"/><rect x="158.45" y="35.43" width="6.10" height="6.28" fill="#007700"/><rect x="63.25" y="41.21" width="6.10" height="6.28" fill="#ffff00"/><rect x="68.85" y="41.21" width="6.10" height="6.28" fill="#bfff00"/><rect x="74.45" y="41.21" width="6.10" height="6.28" fill="#ffff00"/><rect x="80.05" y="41.21" width="6.10" height="6.28" fill="#bfff00"/><rect x="85.65" y="41.21" width="6.10" height="6.28" fill="#bfff00"/><rect x="91.25" y="41.21" width="6.10" height="6.28" fill="#80ff00"/><rect x="96.85" y="41.21" width="6.10" height="6.28" fill="#007700"/><rect x="102.45" y="41.21" width="6.10" height="6.28" fill="#00ff00"/><rect x="108.05" y="41.21" width="6.10" height="6.28" fill="#40ff00"/><rect x="113.65" y="41.21" width="6.10" height="6.28" fill="#40ff00"/><rect x="119.25" y="41.21" width="6.10" height="6.28" fill="#00ff00"/><rect x="124.85" y="41.21" width="6.10" height="6.28" fill="#00ff00"/><rect x="130.45" y="41.21" width="6.10" height="6.28" fill="#00d800"/><rect x="136.05" y="41.21" width="6.10" height="6.28" fill="#00b200"/><rect x="141.65" y="41.21" width="6.10" height="6.28" fill="#007700"/><rect x="147.25" y="41.21" width="6.10" height="6.28" fill="#006400"/><rect x="152.85" y="41.21" width="6.10" height="6.28" fill="#006400"/><rect x="158.45" y="41.21" width="6.10" height="6.28" fill="#006400"/><rect x="63.25" y="46.99" width="6.10" height="6.28" fill="#ffff00"/><rect x="68.85" y="46.99" width="6.10" height="6.28" fill="#bfff00"/><rect x="74.45" y="46.99" width="6.10" height="6.28" fill="#ffe800"/><rect x="80.05" y="46.99" width="6.10" height="6.28" fill="#ffff00"/><rect x="85.65" y="46.99" width="6.10" height="6.28" fill="#bfff00"/><rect x="91.25" y="46.99" width="6.10" height="6.28" fill="#40ff00"/><rect x="96.85" y="46.99" width="6.10" height="6.28" fill="#00ff00"/><rect x="102.45" y="46.99" width="6.10" height="6.28" fill="#40ff00"/><rect x="108.05" y="46.99" width="6.10" height="6.28" fill="#80ff00"/><rect x="113.65" y="46.99" width="6.10" height="6.28" fill="#40ff00"/><rect x="119.25" y="46.99" width="6.10" height="6.28" fill="#80ff00"/><rect x="124.85" y="46.99" width="6.10" height="6.28" fill="#40ff00"/><rect x="130.45" y="46.99" width="6.10" height="6.28" fill="#00d800"/><rect x="136.05" y="46.99" width="6.10" height="6.28" fill="#007700"/><rect x="141.65" y="46.99" width="6.10" height="6.28" fill="#006400"/><rect x="147.25" y="46.99" width="6.10" height="6.28" fill="#007700"/><rect x="152.85" y="46.99" width="6.10" height="6.28" fill="#006400"/><rect x="158.45" y="46.99" width="6.10" height="6.28" fill="#006400"/><rect x="63.25" y="52.76" width="6.10" height="6.28" fill="#ffff00"/><rect x="68.85" y="52.76" width="6.10" height="6.28" fill="#ffd200"/><rect x="74.45" y="52.76" width="6.10" height="6.28" fill="#ffe800"/><rect x="80.05" y="52.76" width="6.10" height="6.28" fill="#ffff00"/><rect x="85.65" y="52.76" width="6.10" height="6.28" fill="#bfff00"/><rect x="91.25" y="52.76" width="6.10" height="6.28" fill="#80ff00"/><rect x="96.85" y="52.76" width="6.10" height="6.28" fill="#80ff00"/><rect x="102.45" y="52.76" width="6.10" height="6.28" fill="#40ff00"/><rect x="108.05" y="52.76" width="6.10" height="6.28" fill="#40ff00"/><rect x="113.65" y="52.76" width="6.10" height="6.28" fill="#80ff00"/><rect x="119.25" y="52.76" width="6.10" height="6.28" fill="#80ff00"/><rect x="124.85" y="52.76" width="6.10" height="6.28" fill="#40ff00"/><rect x="130.45" y="52.76" width="6.10" height="6.28" fill="#00b200"/><rect x="136.05" y="52.76" width="6.10" height="6.28" fill="#007700"/><rect x="141.65" y="52.76" width="6.10" height="6.28" fill="#006400"/><rect x="147.25" y="52.76" width="6.10" height="6.28" fill="#006400"/><rect x="152.85" y="52.76" width="6.10" height="6.28" fill="#006400"/><rect x="158.45" y="52.76" width="6.10" height="6.28" fill="#006400"/><rect x="85.65" y="58.54" width="6.10" height="6.28" fill="#bfff00"/><rect x="91.25" y="58.54" width="6.10" height="6.28" fill="#80ff00"/><rect x="96.85" y="58.54" width="6.10" height="6.28" fill="#80ff00"/><rect x="102.45" y="58.54" width="6.10" height="6.28" fill="#40ff00"/><rect x="108.05" y="58.54" width="6.10" height="6.28" fill="#40ff00"/><rect x="113.65" y="58.54" width="6.10" height="6.28" fill="#40ff00"/><rect x="119.25" y="58.54" width="6.10" height="6.28" fill="#40ff00"/><rect x="124.85" y="58.54" width="6.10" height="6.28" fill="#40ff00"/><rect x="130.45" y="58.54" width="6.10" height="6.28" fill="#007700"/><rect x="136.05" y="58.54" width="6.10" height="6.28" fill="#006400"/><rect x="141.65" y="58.54" width="6.10" height="6.28" fill="#007700"/><rect x="147.25" y="58.54" width="6.10" height="6.28" fill="#006400"/><rect x="152.85" y="58.54" width="6.10" height="6.28" fill="#006400"/><rect x="158.45" y="58.54" width="6.10" height="6.28" fill="#006400"/><rect x="85.65" y="64.32" width="6.10" height="6.28" fill="#bfff00"/><rect x="91.25" y="64.32" width="6.10" height="6.28" fill="#bfff00"/><rect x="96.85" y="64.32" width="6.10" height="6.28" fill="#80ff00"/><rect x="102.45" y="64.32" width="6.10" height="6.28" fill="#40ff00"/><rect x="108.05" y="64.32" width="6.10" height="6.28" fill="#00ff00"/><rect x="113.65" y="64.32" width="6.10" height="6.28" fill="#40ff00"/><rect x="119.25" y="64.32" width="6.10" height="6.28" fill="#40ff00"/><rect x="124.85" y="64.32" width="6.10" height="6.28" fill="#40ff00"/><rect x="130.45" y="64.32" width="6.10" height="6.28" fill="#006400"/><rect x="136.05" y="64.32" width="6.10" height="6.28" fill="#006400"/><rect x="141.65" y="64.32" width="6.10" height="6.28" fill="#006400"/><rect x="147.25" y="64.32" width="6.10" height="6.28" fill="#006400"/><rect x="152.85" y="64.32" width="6.10" height="6.28" fill="#006400"/><rect x="158.45" y="64.32" width="6.10" height="6.28" fill="#006400"/></g><g clip-path="url(#cKS)"><rect x="85.75" y="70.10" width="6.10" height="6.31" fill="#ffff00"/><rect x="91.35" y="70.10" width="6.10" height="6.31" fill="#80ff00"/><rect x="96.95" y="70.10" width="6.10" height="6.31" fill="#80ff00"/><rect x="102.55" y="70.10" width="6.10" height="6.31" fill="#80ff00"/><rect x="108.15" y="70.10" width="6.10" height="6.31" fill="#80ff00"/><rect x="113.75" y="70.10" width="6.10" height="6.31" fill="#40ff00"/><rect x="119.35" y="70.10" width="6.10" height="6.31" fill="#00d800"/><rect x="124.95" y="70.10" width="6.10" height="6.31" fill="#00b200"/><rect x="130.55" y="70.10" width="6.10" height="6.31" fill="#007700"/><rect x="136.15" y="70.10" width="6.10" height="6.31" fill="#007700"/><rect x="141.75" y="70.10" width="6.10" height="6.31" fill="#007700"/><rect x="147.35" y="70.10" width="6.10" height="6.31" fill="#007700"/><rect x="152.95" y="70.10" width="6.10" height="6.31" fill="#007700"/><rect x="158.55" y="70.10" width="6.10" height="6.31" fill="#007700"/><rect x="164.15" y="70.10" width="6.10" height="6.31" fill="#006400"/><rect x="85.75" y="75.91" width="6.10" height="6.31" fill="#ffff00"/><rect x="91.35" y="75.91" width="6.10" height="6.31" fill="#bfff00"/><rect x="96.95" y="75.91" width="6.10" height="6.31" fill="#bfff00"/><rect x="102.55" y="75.91" width="6.10" height="6.31" fill="#bfff00"/><rect x="108.15" y="75.91" width="6.10" height="6.31" fill="#80ff00"/><rect x="113.75" y="75.91" width="6.10" height="6.31" fill="#40ff00"/><rect x="119.35" y="75.91" width="6.10" height="6.31" fill="#00d800"/><rect x="124.95" y="75.91" width="6.10" height="6.31" fill="#00d800"/><rect x="130.55" y="75.91" width="6.10" height="6.31" fill="#00d800"/><rect x="136.15" y="75.91" width="6.10" height="6.31" fill="#007700"/><rect x="141.75" y="75.91" width="6.10" height="6.31" fill="#007700"/><rect x="147.35" y="75.91" width="6.10" height="6.31" fill="#007700"/><rect x="152.95" y="75.91" width="6.10" height="6.31" fill="#007700"/><rect x="158.55" y="75.91" width="6.10" height="6.31" fill="#006400"/><rect x="164.15" y="75.91" width="6.10" height="6.31" fill="#006400"/><rect x="85.75" y="81.71" width="6.10" height="6.31" fill="#bfff00"/><rect x="91.35" y="81.71" width="6.10" height="6.31" fill="#bfff00"/><rect x="96.95" y="81.71" width="6.10" height="6.31" fill="#bfff00"/><rect x="102.55" y="81.71" width="6.10" height="6.31" fill="#bfff00"/><rect x="108.15" y="81.71" width="6.10" height="6.31" fill="#bfff00"/><rect x="113.75" y="81.71" width="6.10" height="6.31" fill="#80ff00"/><rect x="119.35" y="81.71" width="6.10" height="6.31" fill="#40ff00"/><rect x="124.95" y="81.71" width="6.10" height="6.31" fill="#00ff00"/><rect x="130.55" y="81.71" width="6.10" height="6.31" fill="#00d800"/><rect x="136.15" y="81.71" width="6.10" height="6.31" fill="#007700"/><rect x="141.75" y="81.71" width="6.10" height="6.31" fill="#006400"/><rect x="147.35" y="81.71" width="6.10" height="6.31" fill="#007700"/><rect x="152.95" y="81.71" width="6.10" height="6.31" fill="#006400"/><rect x="158.55" y="81.71" width="6.10" height="6.31" fill="#006400"/><rect x="164.15" y="81.71" width="6.10" height="6.31" fill="#006400"/><rect x="85.75" y="87.52" width="6.10" height="6.31" fill="#bfff00"/><rect x="91.35" y="87.52" width="6.10" height="6.31" fill="#80ff00"/><rect x="96.95" y="87.52" width="6.10" height="6.31" fill="#40ff00"/><rect x="102.55" y="87.52" width="6.10" height="6.31" fill="#40ff00"/><rect x="108.15" y="87.52" width="6.10" height="6.31" fill="#00ff00"/><rect x="113.75" y="87.52" width="6.10" height="6.31" fill="#40ff00"/><rect x="119.35" y="87.52" width="6.10" height="6.31" fill="#00ff00"/><rect x="124.95" y="87.52" width="6.10" height="6.31" fill="#00ff00"/><rect x="130.55" y="87.52" width="6.10" height="6.31" fill="#00d800"/><rect x="136.15" y="87.52" width="6.10" height="6.31" fill="#007700"/><rect x="141.75" y="87.52" width="6.10" height="6.31" fill="#006400"/><rect x="147.35" y="87.52" width="6.10" height="6.31" fill="#006400"/><rect x="152.95" y="87.52" width="6.10" height="6.31" fill="#006400"/><rect x="158.55" y="87.52" width="6.10" height="6.31" fill="#006400"/><rect x="164.15" y="87.52" width="6.10" height="6.31" fill="#006400"/><rect x="85.75" y="93.33" width="6.10" height="6.31" fill="#80ff00"/><rect x="91.35" y="93.33" width="6.10" height="6.31" fill="#80ff00"/><rect x="96.95" y="93.33" width="6.10" height="6.31" fill="#40ff00"/><rect x="102.55" y="93.33" width="6.10" height="6.31" fill="#007700"/><rect x="108.15" y="93.33" width="6.10" height="6.31" fill="#00b200"/><rect x="113.75" y="93.33" width="6.10" height="6.31" fill="#00d800"/><rect x="119.35" y="93.33" width="6.10" height="6.31" fill="#00d800"/><rect x="124.95" y="93.33" width="6.10" height="6.31" fill="#00d800"/><rect x="130.55" y="93.33" width="6.10" height="6.31" fill="#00b200"/><rect x="136.15" y="93.33" width="6.10" height="6.31" fill="#007700"/><rect x="141.75" y="93.33" width="6.10" height="6.31" fill="#006400"/><rect x="147.35" y="93.33" width="6.10" height="6.31" fill="#007700"/><rect x="152.95" y="93.33" width="6.10" height="6.31" fill="#006400"/><rect x="158.55" y="93.33" width="6.10" height="6.31" fill="#006400"/><rect x="164.15" y="93.33" width="6.10" height="6.31" fill="#006400"/><rect x="85.75" y="99.14" width="6.10" height="6.31" fill="#40ff00"/><rect x="91.35" y="99.14" width="6.10" height="6.31" fill="#40ff00"/><rect x="96.95" y="99.14" width="6.10" height="6.31" fill="#007700"/><rect x="102.55" y="99.14" width="6.10" height="6.31" fill="#007700"/><rect x="108.15" y="99.14" width="6.10" height="6.31" fill="#00d800"/><rect x="113.75" y="99.14" width="6.10" height="6.31" fill="#00ff00"/><rect x="119.35" y="99.14" width="6.10" height="6.31" fill="#00ff00"/><rect x="124.95" y="99.14" width="6.10" height="6.31" fill="#00d800"/><rect x="130.55" y="99.14" width="6.10" height="6.31" fill="#007700"/><rect x="136.15" y="99.14" width="6.10" height="6.31" fill="#006400"/><rect x="141.75" y="99.14" width="6.10" height="6.31" fill="#007700"/><rect x="147.35" y="99.14" width="6.10" height="6.31" fill="#007700"/><rect x="152.95" y="99.14" width="6.10" height="6.31" fill="#006400"/><rect x="158.55" y="99.14" width="6.10" height="6.31" fill="#006400"/><rect x="164.15" y="99.14" width="6.10" height="6.31" fill="#006400"/><rect x="85.75" y="104.94" width="6.10" height="6.31" fill="#40ff00"/><rect x="91.35" y="104.94" width="6.10" height="6.31" fill="#00b200"/><rect x="96.95" y="104.94" width="6.10" height="6.31" fill="#007700"/><rect x="102.55" y="104.94" width="6.10" height="6.31" fill="#007700"/><rect x="108.15" y="104.94" width="6.10" height="6.31" fill="#00d800"/><rect x="113.75" y="104.94" width="6.10" height="6.31" fill="#00b200"/><rect x="119.35" y="104.94" width="6.10" height="6.31" fill="#007700"/><rect x="124.95" y="104.94" width="6.10" height="6.31" fill="#007700"/><rect x="130.55" y="104.94" width="6.10" height="6.31" fill="#007700"/><rect x="136.15" y="104.94" width="6.10" height="6.31" fill="#006400"/><rect x="141.75" y="104.94" width="6.10" height="6.31" fill="#006400"/><rect x="147.35" y="104.94" width="6.10" height="6.31" fill="#006400"/><rect x="152.95" y="104.94" width="6.10" height="6.31" fill="#006400"/><rect x="158.55" y="104.94" width="6.10" height="6.31" fill="#006400"/><rect x="164.15" y="104.94" width="6.10" height="6.31" fill="#006400"/></g><g clip-path="url(#cCO)"><rect x="6.65" y="56.55" width="7.09" height="6.52" fill="#ffa500"/><rect x="13.24" y="56.55" width="7.09" height="6.52" fill="#ffa500"/><rect x="19.83" y="56.55" width="7.09" height="6.52" fill="#ffa500"/><rect x="26.42" y="56.55" width="7.09" height="6.52" fill="#00b200"/><rect x="33.02" y="56.55" width="7.09" height="6.52" fill="#40ff00"/><rect x="39.61" y="56.55" width="7.09" height="6.52" fill="#40ff00"/><rect x="46.20" y="56.55" width="7.09" height="6.52" fill="#40ff00"/><rect x="52.79" y="56.55" width="7.09" height="6.52" fill="#ffa500"/><rect x="59.38" y="56.55" width="7.09" height="6.52" fill="#ffa500"/><rect x="65.97" y="56.55" width="7.09" height="6.52" fill="#ffd200"/><rect x="72.57" y="56.55" width="7.09" height="6.52" fill="#ffd200"/><rect x="79.16" y="56.55" width="7.09" height="6.52" fill="#ffe800"/><rect x="6.65" y="62.57" width="7.09" height="6.52" fill="#ffa500"/><rect x="13.24" y="62.57" width="7.09" height="6.52" fill="#ffa500"/><rect x="19.83" y="62.57" width="7.09" height="6.52" fill="#ffa500"/><rect x="26.42" y="62.57" width="7.09" height="6.52" fill="#00b200"/><rect x="33.02" y="62.57" width="7.09" height="6.52" fill="#007700"/><rect x="39.61" y="62.57" width="7.09" height="6.52" fill="#007700"/><rect x="46.20" y="62.57" width="7.09" height="6.52" fill="#40ff00"/><rect x="52.79" y="62.57" width="7.09" height="6.52" fill="#ffa500"/><rect x="59.38" y="62.57" width="7.09" height="6.52" fill="#ffff00"/><rect x="65.97" y="62.57" width="7.09" height="6.52" fill="#ffff00"/><rect x="72.57" y="62.57" width="7.09" height="6.52" fill="#ffff00"/><rect x="79.16" y="62.57" width="7.09" height="6.52" fill="#ffff00"/><rect x="6.65" y="68.59" width="7.09" height="6.52" fill="#ffd200"/><rect x="13.24" y="68.59" width="7.09" height="6.52" fill="#ffd200"/><rect x="19.83" y="68.59" width="7.09" height="6.52" fill="#ffd200"/><rect x="26.42" y="68.59" width="7.09" height="6.52" fill="#00b200"/><rect x="33.02" y="68.59" width="7.09" height="6.52" fill="#007700"/><rect x="39.61" y="68.59" width="7.09" height="6.52" fill="#007700"/><rect x="46.20" y="68.59" width="7.09" height="6.52" fill="#bfff00"/><rect x="52.79" y="68.59" width="7.09" height="6.52" fill="#ffd200"/><rect x="59.38" y="68.59" width="7.09" height="6.52" fill="#ffe800"/><rect x="65.97" y="68.59" width="7.09" height="6.52" fill="#ffff00"/><rect x="72.57" y="68.59" width="7.09" height="6.52" fill="#ffff00"/><rect x="79.16" y="68.59" width="7.09" height="6.52" fill="#ffff00"/><rect x="6.65" y="74.62" width="7.09" height="6.52" fill="#ffff00"/><rect x="13.24" y="74.62" width="7.09" height="6.52" fill="#ffff00"/><rect x="19.83" y="74.62" width="7.09" height="6.52" fill="#ffff00"/><rect x="26.42" y="74.62" width="7.09" height="6.52" fill="#40ff00"/><rect x="33.02" y="74.62" width="7.09" height="6.52" fill="#40ff00"/><rect x="39.61" y="74.62" width="7.09" height="6.52" fill="#006400"/><rect x="46.20" y="74.62" width="7.09" height="6.52" fill="#ffff00"/><rect x="52.79" y="74.62" width="7.09" height="6.52" fill="#ffff00"/><rect x="59.38" y="74.62" width="7.09" height="6.52" fill="#ffff00"/><rect x="65.97" y="74.62" width="7.09" height="6.52" fill="#ffff00"/><rect x="72.57" y="74.62" width="7.09" height="6.52" fill="#ffff00"/><rect x="79.16" y="74.62" width="7.09" height="6.52" fill="#ffff00"/><rect x="6.65" y="80.64" width="7.09" height="6.52" fill="#bfff00"/><rect x="13.24" y="80.64" width="7.09" height="6.52" fill="#ffa500"/><rect x="19.83" y="80.64" width="7.09" height="6.52" fill="#006400"/><rect x="26.42" y="80.64" width="7.09" height="6.52" fill="#006400"/><rect x="33.02" y="80.64" width="7.09" height="6.52" fill="#006400"/><rect x="39.61" y="80.64" width="7.09" height="6.52" fill="#00d800"/><rect x="46.20" y="80.64" width="7.09" height="6.52" fill="#80ff00"/><rect x="52.79" y="80.64" width="7.09" height="6.52" fill="#bfff00"/><rect x="59.38" y="80.64" width="7.09" height="6.52" fill="#ffff00"/><rect x="65.97" y="80.64" width="7.09" height="6.52" fill="#ffff00"/><rect x="72.57" y="80.64" width="7.09" height="6.52" fill="#ffe800"/><rect x="79.16" y="80.64" width="7.09" height="6.52" fill="#bfff00"/><rect x="6.65" y="86.66" width="7.09" height="6.52" fill="#ffd200"/><rect x="13.24" y="86.66" width="7.09" height="6.52" fill="#ffa500"/><rect x="19.83" y="86.66" width="7.09" height="6.52" fill="#006400"/><rect x="26.42" y="86.66" width="7.09" height="6.52" fill="#006400"/><rect x="33.02" y="86.66" width="7.09" height="6.52" fill="#00ff00"/><rect x="39.61" y="86.66" width="7.09" height="6.52" fill="#bfff00"/><rect x="46.20" y="86.66" width="7.09" height="6.52" fill="#80ff00"/><rect x="52.79" y="86.66" width="7.09" height="6.52" fill="#ffd200"/><rect x="59.38" y="86.66" width="7.09" height="6.52" fill="#ffa500"/><rect x="65.97" y="86.66" width="7.09" height="6.52" fill="#ffff00"/><rect x="72.57" y="86.66" width="7.09" height="6.52" fill="#ffff00"/><rect x="79.16" y="86.66" width="7.09" height="6.52" fill="#ffff00"/><rect x="6.65" y="92.68" width="7.09" height="6.52" fill="#ffa500"/><rect x="13.24" y="92.68" width="7.09" height="6.52" fill="#ffa500"/><rect x="19.83" y="92.68" width="7.09" height="6.52" fill="#006400"/><rect x="26.42" y="92.68" width="7.09" height="6.52" fill="#006400"/><rect x="33.02" y="92.68" width="7.09" height="6.52" fill="#00ff00"/><rect x="39.61" y="92.68" width="7.09" height="6.52" fill="#00ff00"/><rect x="46.20" y="92.68" width="7.09" height="6.52" fill="#bfff00"/><rect x="52.79" y="92.68" width="7.09" height="6.52" fill="#ffd200"/><rect x="59.38" y="92.68" width="7.09" height="6.52" fill="#ffa500"/><rect x="65.97" y="92.68" width="7.09" height="6.52" fill="#ffd200"/><rect x="72.57" y="92.68" width="7.09" height="6.52" fill="#ffe800"/><rect x="79.16" y="92.68" width="7.09" height="6.52" fill="#bfff00"/><rect x="6.65" y="98.71" width="7.09" height="6.52" fill="#80ff00"/><rect x="13.24" y="98.71" width="7.09" height="6.52" fill="#80ff00"/><rect x="19.83" y="98.71" width="7.09" height="6.52" fill="#006400"/><rect x="26.42" y="98.71" width="7.09" height="6.52" fill="#006400"/><rect x="33.02" y="98.71" width="7.09" height="6.52" fill="#40ff00"/><rect x="39.61" y="98.71" width="7.09" height="6.52" fill="#ff6b00"/><rect x="46.20" y="98.71" width="7.09" height="6.52" fill="#ffe800"/><rect x="52.79" y="98.71" width="7.09" height="6.52" fill="#ffd200"/><rect x="59.38" y="98.71" width="7.09" height="6.52" fill="#ffa500"/><rect x="65.97" y="98.71" width="7.09" height="6.52" fill="#ffd200"/><rect x="72.57" y="98.71" width="7.09" height="6.52" fill="#ffe800"/><rect x="79.16" y="98.71" width="7.09" height="6.52" fill="#bfff00"/><rect x="6.65" y="104.73" width="7.09" height="6.52" fill="#ffa500"/><rect x="13.24" y="104.73" width="7.09" height="6.52" fill="#ffff00"/><rect x="19.83" y="104.73" width="7.09" height="6.52" fill="#00d800"/><rect x="26.42" y="104.73" width="7.09" height="6.52" fill="#00d800"/><rect x="33.02" y="104.73" width="7.09" height="6.52" fill="#80ff00"/><rect x="39.61" y="104.73" width="7.09" height="6.52" fill="#ffa500"/><rect x="46.20" y="104.73" width="7.09" height="6.52" fill="#ffa500"/><rect x="52.79" y="104.73" width="7.09" height="6.52" fill="#ffa500"/><rect x="59.38" y="104.73" width="7.09" height="6.52" fill="#ffa500"/><rect x="65.97" y="104.73" width="7.09" height="6.52" fill="#ffd200"/><rect x="72.57" y="104.73" width="7.09" height="6.52" fill="#ffe800"/><rect x="79.16" y="104.73" width="7.09" height="6.52" fill="#ffff00"/></g><g fill="none" stroke="#b0b0b0" stroke-width="1.2"><path clip-path="url(#cNE)" d="M69.10 29.90v5.78M80.30 29.90v5.78M85.90 29.90v5.78M108.30 29.90v5.78M113.90 29.90v5.78M119.50 29.90v5.78M125.10 29.90v5.78M130.70 29.90v5.78M136.30 29.90v5.78M141.90 29.90v5.78M147.50 29.90v5.78M153.10 29.90v5.78M158.70 29.90v5.78M69.10 35.68v5.78M74.70 35.68v5.78M80.30 35.68v5.78M85.90 35.68v5.78M108.30 35.68v5.78M113.90 35.68v5.78M119.50 35.68v5.78M125.10 35.68v5.78M130.70 35.68v5.78M136.30 35.68v5.78M141.90 35.68v5.78M147.50 35.68v5.78M153.10 35.68v5.78M158.70 35.68v5.78M69.10 41.46v5.78M74.70 41.46v5.78M80.30 41.46v5.78M85.90 41.46v5.78M91.50 41.46v5.78M97.10 41.46v5.78M102.70 41.46v5.78M108.30 41.46v5.78M113.90 41.46v5.78M119.50 41.46v5.78M125.10 41.46v5.78M130.70 41.46v5.78M136.30 41.46v5.78M141.90 41.46v5.78M147.50 41.46v5.78M153.10 41.46v5.78M158.70 41.46v5.78M69.10 47.24v5.78M74.70 47.24v5.78M80.30 47.24v5.78M85.90 47.24v5.78M91.50 47.24v5.78M97.10 47.24v5.78M102.70 47.24v5.78M108.30 47.24v5.78M113.90 47.24v5.78M119.50 47.24v5.78M125.10 47.24v5.78M130.70 47.24v5.78M136.30 47.24v5.78M141.90 47.24v5.78M147.50 47.24v5.78M153.10 47.24v5.78M158.70 47.24v5.78M69.10 53.01v5.78M74.70 53.01v5.78M80.30 53.01v5.78M85.90 53.01v5.78M91.50 53.01v5.78M102.70 53.01v5.78M113.90 53.01v5.78M119.50 53.01v5.78M125.10 53.01v5.78M130.70 53.01v5.78M136.30 53.01v5.78M141.90 53.01v5.78M147.50 53.01v5.78M153.10 53.01v5.78M158.70 53.01v5.78M91.50 58.79v5.78M97.10 58.79v5.78M102.70 58.79v5.78M108.30 58.79v5.78M113.90 58.79v5.78M119.50 58.79v5.78M125.10 58.79v5.78M130.70 58.79v5.78M136.30 58.79v5.78M141.90 58.79v5.78M147.50 58.79v5.78M153.10 58.79v5.78M158.70 58.79v5.78M91.50 64.57v5.78M97.10 64.57v5.78M102.70 64.57v5.78M108.30 64.57v5.78M113.90 64.57v5.78M119.50 64.57v5.78M125.10 64.57v5.78M130.70 64.57v5.78M136.30 64.57v5.78M141.90 64.57v5.78M147.50 64.57v5.78M153.10 64.57v5.78M158.70 64.57v5.78M69.10 35.68h5.60M74.70 35.68h5.60M108.30 35.68h5.60M113.90 35.68h5.60M119.50 35.68h5.60M125.10 35.68h5.60M130.70 35.68h5.60M136.30 35.68h5.60M141.90 35.68h5.60M147.50 35.68h5.60M153.10 35.68h5.60M158.70 35.68h5.60M63.50 41.46h5.60M69.10 41.46h5.60M74.70 41.46h5.60M85.90 41.46h5.60M91.50 41.46h5.60M97.10 41.46h5.60M102.70 41.46h5.60M108.30 41.46h5.60M113.90 41.46h5.60M119.50 41.46h5.60M125.10 41.46h5.60M130.70 41.46h5.60M136.30 41.46h5.60M141.90 41.46h5.60M147.50 41.46h5.60M153.10 41.46h5.60M158.70 41.46h5.60M63.50 47.24h5.60M69.10 47.24h5.60M74.70 47.24h5.60M80.30 47.24h5.60M85.90 47.24h5.60M91.50 47.24h5.60M97.10 47.24h5.60M102.70 47.24h5.60M108.30 47.24h5.60M113.90 47.24h5.60M119.50 47.24h5.60M125.10 47.24h5.60M130.70 47.24h5.60M136.30 47.24h5.60M141.90 47.24h5.60M147.50 47.24h5.60M153.10 47.24h5.60M158.70 47.24h5.60M63.50 53.01h5.60M69.10 53.01h5.60M74.70 53.01h5.60M80.30 53.01h5.60M85.90 53.01h5.60M91.50 53.01h5.60M97.10 53.01h5.60M108.30 53.01h5.60M113.90 53.01h5.60M119.50 53.01h5.60M125.10 53.01h5.60M130.70 53.01h5.60M136.30 53.01h5.60M141.90 53.01h5.60M147.50 53.01h5.60M153.10 53.01h5.60M158.70 53.01h5.60M85.90 58.79h5.60M91.50 58.79h5.60M97.10 58.79h5.60M102.70 58.79h5.60M108.30 58.79h5.60M113.90 58.79h5.60M119.50 58.79h5.60M125.10 58.79h5.60M130.70 58.79h5.60M136.30 58.79h5.60M141.90 58.79h5.60M147.50 58.79h5.60M153.10 58.79h5.60M158.70 58.79h5.60M85.90 64.57h5.60M91.50 64.57h5.60M97.10 64.57h5.60M102.70 64.57h5.60M108.30 64.57h5.60M113.90 64.57h5.60M119.50 64.57h5.60M125.10 64.57h5.60M130.70 64.57h5.60M136.30 64.57h5.60M141.90 64.57h5.60M147.50 64.57h5.60M153.10 64.57h5.60M158.70 64.57h5.60"/><path clip-path="url(#cCO)" d="M26.67 56.80v6.02M33.27 56.80v6.02M39.86 56.80v6.02M53.04 56.80v6.02M66.22 56.80v6.02M79.41 56.80v6.02M26.67 62.82v6.02M33.27 62.82v6.02M39.86 62.82v6.02M46.45 62.82v6.02M53.04 62.82v6.02M59.63 62.82v6.02M66.22 62.82v6.02M79.41 62.82v6.02M20.08 68.84v6.02M26.67 68.84v6.02M33.27 68.84v6.02M39.86 68.84v6.02M46.45 68.84v6.02M53.04 68.84v6.02M59.63 68.84v6.02M66.22 68.84v6.02M79.41 68.84v6.02M26.67 74.87v6.02M33.27 74.87v6.02M39.86 74.87v6.02M46.45 74.87v6.02M53.04 74.87v6.02M59.63 74.87v6.02M66.22 74.87v6.02M72.82 74.87v6.02M13.49 80.89v6.02M20.08 80.89v6.02M26.67 80.89v6.02M33.27 80.89v6.02M39.86 80.89v6.02M46.45 80.89v6.02M53.04 80.89v6.02M59.63 80.89v6.02M72.82 80.89v6.02M79.41 80.89v6.02M13.49 86.91v6.02M20.08 86.91v6.02M26.67 86.91v6.02M33.27 86.91v6.02M39.86 86.91v6.02M46.45 86.91v6.02M53.04 86.91v6.02M59.63 86.91v6.02M66.22 86.91v6.02M72.82 86.91v6.02M13.49 92.93v6.02M20.08 92.93v6.02M26.67 92.93v6.02M33.27 92.93v6.02M39.86 92.93v6.02M46.45 92.93v6.02M53.04 92.93v6.02M59.63 92.93v6.02M66.22 92.93v6.02M72.82 92.93v6.02M79.41 92.93v6.02M13.49 98.96v6.02M20.08 98.96v6.02M26.67 98.96v6.02M33.27 98.96v6.02M39.86 98.96v6.02M46.45 98.96v6.02M53.04 98.96v6.02M59.63 98.96v6.02M66.22 98.96v6.02M72.82 98.96v6.02M79.41 98.96v6.02M13.49 104.98v6.02M20.08 104.98v6.02M26.67 104.98v6.02M33.27 104.98v6.02M39.86 104.98v6.02M66.22 104.98v6.02M72.82 104.98v6.02M79.41 104.98v6.02M33.27 62.82h6.59M39.86 62.82h6.59M46.45 62.82h6.59M59.63 62.82h6.59M66.22 62.82h6.59M72.82 62.82h6.59M79.41 62.82h6.59M6.90 68.84h6.59M13.49 68.84h6.59M20.08 68.84h6.59M26.67 68.84h6.59M39.86 68.84h6.59M46.45 68.84h6.59M53.04 68.84h6.59M59.63 68.84h6.59M6.90 74.87h6.59M13.49 74.87h6.59M20.08 74.87h6.59M26.67 74.87h6.59M33.27 74.87h6.59M39.86 74.87h6.59M46.45 74.87h6.59M53.04 74.87h6.59M59.63 74.87h6.59M66.22 74.87h6.59M72.82 74.87h6.59M79.41 74.87h6.59M6.90 80.89h6.59M13.49 80.89h6.59M20.08 80.89h6.59M26.67 80.89h6.59M33.27 80.89h6.59M39.86 80.89h6.59M46.45 80.89h6.59M53.04 80.89h6.59M59.63 80.89h6.59M72.82 80.89h6.59M79.41 80.89h6.59M6.90 86.91h6.59M13.49 86.91h6.59M20.08 86.91h6.59M33.27 86.91h6.59M39.86 86.91h6.59M53.04 86.91h6.59M59.63 86.91h6.59M66.22 86.91h6.59M72.82 86.91h6.59M79.41 86.91h6.59M6.90 92.93h6.59M20.08 92.93h6.59M26.67 92.93h6.59M33.27 92.93h6.59M39.86 92.93h6.59M46.45 92.93h6.59M53.04 92.93h6.59M59.63 92.93h6.59M66.22 92.93h6.59M72.82 92.93h6.59M79.41 92.93h6.59M6.90 98.96h6.59M13.49 98.96h6.59M20.08 98.96h6.59M26.67 98.96h6.59M33.27 98.96h6.59M39.86 98.96h6.59M46.45 98.96h6.59M53.04 98.96h6.59M6.90 104.98h6.59M13.49 104.98h6.59M20.08 104.98h6.59M26.67 104.98h6.59M33.27 104.98h6.59M39.86 104.98h6.59M46.45 104.98h6.59M53.04 104.98h6.59M59.63 104.98h6.59M66.22 104.98h6.59M72.82 104.98h6.59M79.41 104.98h6.59"/></g><use href="#grid"/><use href="#outl"/></g>
<g transform="translate(372.15,107.00)"><text x="88.5" y="24.3" class="yr">2016</text><g clip-path="url(#cNE)"><rect x="63.25" y="29.65" width="6.10" height="6.28" fill="#ff6b00"/><rect x="68.85" y="29.65" width="6.10" height="6.28" fill="#ffa500"/><rect x="74.45" y="29.65" width="6.10" height="6.28" fill="#ffa500"/><rect x="80.05" y="29.65" width="6.10" height="6.28" fill="#ffa500"/><rect x="85.65" y="29.65" width="6.10" height="6.28" fill="#ffd200"/><rect x="91.25" y="29.65" width="6.10" height="6.28" fill="#ffd200"/><rect x="96.85" y="29.65" width="6.10" height="6.28" fill="#ffd200"/><rect x="102.45" y="29.65" width="6.10" height="6.28" fill="#ffd200"/><rect x="108.05" y="29.65" width="6.10" height="6.28" fill="#80ff00"/><rect x="113.65" y="29.65" width="6.10" height="6.28" fill="#80ff00"/><rect x="119.25" y="29.65" width="6.10" height="6.28" fill="#00ff00"/><rect x="124.85" y="29.65" width="6.10" height="6.28" fill="#00ff00"/><rect x="130.45" y="29.65" width="6.10" height="6.28" fill="#00d800"/><rect x="136.05" y="29.65" width="6.10" height="6.28" fill="#00d800"/><rect x="141.65" y="29.65" width="6.10" height="6.28" fill="#00ff00"/><rect x="147.25" y="29.65" width="6.10" height="6.28" fill="#00ff00"/><rect x="152.85" y="29.65" width="6.10" height="6.28" fill="#00ff00"/><rect x="158.45" y="29.65" width="6.10" height="6.28" fill="#00ff00"/><rect x="63.25" y="35.43" width="6.10" height="6.28" fill="#ff6b00"/><rect x="68.85" y="35.43" width="6.10" height="6.28" fill="#ffa500"/><rect x="74.45" y="35.43" width="6.10" height="6.28" fill="#ffa500"/><rect x="80.05" y="35.43" width="6.10" height="6.28" fill="#ffa500"/><rect x="85.65" y="35.43" width="6.10" height="6.28" fill="#ffd200"/><rect x="91.25" y="35.43" width="6.10" height="6.28" fill="#ffd200"/><rect x="96.85" y="35.43" width="6.10" height="6.28" fill="#ffd200"/><rect x="102.45" y="35.43" width="6.10" height="6.28" fill="#ffd200"/><rect x="108.05" y="35.43" width="6.10" height="6.28" fill="#80ff00"/><rect x="113.65" y="35.43" width="6.10" height="6.28" fill="#80ff00"/><rect x="119.25" y="35.43" width="6.10" height="6.28" fill="#00ff00"/><rect x="124.85" y="35.43" width="6.10" height="6.28" fill="#00ff00"/><rect x="130.45" y="35.43" width="6.10" height="6.28" fill="#007700"/><rect x="136.05" y="35.43" width="6.10" height="6.28" fill="#00ff00"/><rect x="141.65" y="35.43" width="6.10" height="6.28" fill="#00d800"/><rect x="147.25" y="35.43" width="6.10" height="6.28" fill="#00b200"/><rect x="152.85" y="35.43" width="6.10" height="6.28" fill="#00b200"/><rect x="158.45" y="35.43" width="6.10" height="6.28" fill="#00b200"/><rect x="63.25" y="41.21" width="6.10" height="6.28" fill="#ffa500"/><rect x="68.85" y="41.21" width="6.10" height="6.28" fill="#ffd200"/><rect x="74.45" y="41.21" width="6.10" height="6.28" fill="#ffa500"/><rect x="80.05" y="41.21" width="6.10" height="6.28" fill="#ffd200"/><rect x="85.65" y="41.21" width="6.10" height="6.28" fill="#ffd200"/><rect x="91.25" y="41.21" width="6.10" height="6.28" fill="#bfff00"/><rect x="96.85" y="41.21" width="6.10" height="6.28" fill="#bfff00"/><rect x="102.45" y="41.21" width="6.10" height="6.28" fill="#bfff00"/><rect x="108.05" y="41.21" width="6.10" height="6.28" fill="#80ff00"/><rect x="113.65" y="41.21" width="6.10" height="6.28" fill="#40ff00"/><rect x="119.25" y="41.21" width="6.10" height="6.28" fill="#40ff00"/><rect x="124.85" y="41.21" width="6.10" height="6.28" fill="#00ff00"/><rect x="130.45" y="41.21" width="6.10" height="6.28" fill="#00ff00"/><rect x="136.05" y="41.21" width="6.10" height="6.28" fill="#00d800"/><rect x="141.65" y="41.21" width="6.10" height="6.28" fill="#00b200"/><rect x="147.25" y="41.21" width="6.10" height="6.28" fill="#007700"/><rect x="152.85" y="41.21" width="6.10" height="6.28" fill="#00b200"/><rect x="158.45" y="41.21" width="6.10" height="6.28" fill="#00b200"/><rect x="63.25" y="46.99" width="6.10" height="6.28" fill="#ffa500"/><rect x="68.85" y="46.99" width="6.10" height="6.28" fill="#ffa500"/><rect x="74.45" y="46.99" width="6.10" height="6.28" fill="#ffa500"/><rect x="80.05" y="46.99" width="6.10" height="6.28" fill="#ffd200"/><rect x="85.65" y="46.99" width="6.10" height="6.28" fill="#ffff00"/><rect x="91.25" y="46.99" width="6.10" height="6.28" fill="#bfff00"/><rect x="96.85" y="46.99" width="6.10" height="6.28" fill="#bfff00"/><rect x="102.45" y="46.99" width="6.10" height="6.28" fill="#00ff00"/><rect x="108.05" y="46.99" width="6.10" height="6.28" fill="#80ff00"/><rect x="113.65" y="46.99" width="6.10" height="6.28" fill="#80ff00"/><rect x="119.25" y="46.99" width="6.10" height="6.28" fill="#40ff00"/><rect x="124.85" y="46.99" width="6.10" height="6.28" fill="#40ff00"/><rect x="130.45" y="46.99" width="6.10" height="6.28" fill="#00d800"/><rect x="136.05" y="46.99" width="6.10" height="6.28" fill="#00d800"/><rect x="141.65" y="46.99" width="6.10" height="6.28" fill="#00b200"/><rect x="147.25" y="46.99" width="6.10" height="6.28" fill="#007700"/><rect x="152.85" y="46.99" width="6.10" height="6.28" fill="#007700"/><rect x="158.45" y="46.99" width="6.10" height="6.28" fill="#007700"/><rect x="63.25" y="52.76" width="6.10" height="6.28" fill="#ffa500"/><rect x="68.85" y="52.76" width="6.10" height="6.28" fill="#ffa500"/><rect x="74.45" y="52.76" width="6.10" height="6.28" fill="#ffd200"/><rect x="80.05" y="52.76" width="6.10" height="6.28" fill="#ffd200"/><rect x="85.65" y="52.76" width="6.10" height="6.28" fill="#ffd200"/><rect x="91.25" y="52.76" width="6.10" height="6.28" fill="#bfff00"/><rect x="96.85" y="52.76" width="6.10" height="6.28" fill="#bfff00"/><rect x="102.45" y="52.76" width="6.10" height="6.28" fill="#bfff00"/><rect x="108.05" y="52.76" width="6.10" height="6.28" fill="#80ff00"/><rect x="113.65" y="52.76" width="6.10" height="6.28" fill="#80ff00"/><rect x="119.25" y="52.76" width="6.10" height="6.28" fill="#80ff00"/><rect x="124.85" y="52.76" width="6.10" height="6.28" fill="#40ff00"/><rect x="130.45" y="52.76" width="6.10" height="6.28" fill="#00ff00"/><rect x="136.05" y="52.76" width="6.10" height="6.28" fill="#00d800"/><rect x="141.65" y="52.76" width="6.10" height="6.28" fill="#007700"/><rect x="147.25" y="52.76" width="6.10" height="6.28" fill="#007700"/><rect x="152.85" y="52.76" width="6.10" height="6.28" fill="#00b200"/><rect x="158.45" y="52.76" width="6.10" height="6.28" fill="#007700"/><rect x="85.65" y="58.54" width="6.10" height="6.28" fill="#ffe800"/><rect x="91.25" y="58.54" width="6.10" height="6.28" fill="#bfff00"/><rect x="96.85" y="58.54" width="6.10" height="6.28" fill="#bfff00"/><rect x="102.45" y="58.54" width="6.10" height="6.28" fill="#80ff00"/><rect x="108.05" y="58.54" width="6.10" height="6.28" fill="#80ff00"/><rect x="113.65" y="58.54" width="6.10" height="6.28" fill="#80ff00"/><rect x="119.25" y="58.54" width="6.10" height="6.28" fill="#80ff00"/><rect x="124.85" y="58.54" width="6.10" height="6.28" fill="#40ff00"/><rect x="130.45" y="58.54" width="6.10" height="6.28" fill="#00ff00"/><rect x="136.05" y="58.54" width="6.10" height="6.28" fill="#00d800"/><rect x="141.65" y="58.54" width="6.10" height="6.28" fill="#00b200"/><rect x="147.25" y="58.54" width="6.10" height="6.28" fill="#007700"/><rect x="152.85" y="58.54" width="6.10" height="6.28" fill="#007700"/><rect x="158.45" y="58.54" width="6.10" height="6.28" fill="#007700"/><rect x="85.65" y="64.32" width="6.10" height="6.28" fill="#bfff00"/><rect x="91.25" y="64.32" width="6.10" height="6.28" fill="#bfff00"/><rect x="96.85" y="64.32" width="6.10" height="6.28" fill="#80ff00"/><rect x="102.45" y="64.32" width="6.10" height="6.28" fill="#80ff00"/><rect x="108.05" y="64.32" width="6.10" height="6.28" fill="#40ff00"/><rect x="113.65" y="64.32" width="6.10" height="6.28" fill="#40ff00"/><rect x="119.25" y="64.32" width="6.10" height="6.28" fill="#40ff00"/><rect x="124.85" y="64.32" width="6.10" height="6.28" fill="#00ff00"/><rect x="130.45" y="64.32" width="6.10" height="6.28" fill="#00d800"/><rect x="136.05" y="64.32" width="6.10" height="6.28" fill="#00d800"/><rect x="141.65" y="64.32" width="6.10" height="6.28" fill="#00b200"/><rect x="147.25" y="64.32" width="6.10" height="6.28" fill="#007700"/><rect x="152.85" y="64.32" width="6.10" height="6.28" fill="#007700"/><rect x="158.45" y="64.32" width="6.10" height="6.28" fill="#007700"/></g><g clip-path="url(#cKS)"><rect x="85.75" y="70.10" width="6.10" height="6.31" fill="#ffff00"/><rect x="91.35" y="70.10" width="6.10" height="6.31" fill="#bfff00"/><rect x="96.95" y="70.10" width="6.10" height="6.31" fill="#80ff00"/><rect x="102.55" y="70.10" width="6.10" height="6.31" fill="#80ff00"/><rect x="108.15" y="70.10" width="6.10" height="6.31" fill="#40ff00"/><rect x="113.75" y="70.10" width="6.10" height="6.31" fill="#40ff00"/><rect x="119.35" y="70.10" width="6.10" height="6.31" fill="#00d800"/><rect x="124.95" y="70.10" width="6.10" height="6.31" fill="#007700"/><rect x="130.55" y="70.10" width="6.10" height="6.31" fill="#007700"/><rect x="136.15" y="70.10" width="6.10" height="6.31" fill="#007700"/><rect x="141.75" y="70.10" width="6.10" height="6.31" fill="#00b200"/><rect x="147.35" y="70.10" width="6.10" height="6.31" fill="#00b200"/><rect x="152.95" y="70.10" width="6.10" height="6.31" fill="#007700"/><rect x="158.55" y="70.10" width="6.10" height="6.31" fill="#007700"/><rect x="164.15" y="70.10" width="6.10" height="6.31" fill="#006400"/><rect x="85.75" y="75.91" width="6.10" height="6.31" fill="#bfff00"/><rect x="91.35" y="75.91" width="6.10" height="6.31" fill="#80ff00"/><rect x="96.95" y="75.91" width="6.10" height="6.31" fill="#80ff00"/><rect x="102.55" y="75.91" width="6.10" height="6.31" fill="#40ff00"/><rect x="108.15" y="75.91" width="6.10" height="6.31" fill="#00ff00"/><rect x="113.75" y="75.91" width="6.10" height="6.31" fill="#007700"/><rect x="119.35" y="75.91" width="6.10" height="6.31" fill="#006400"/><rect x="124.95" y="75.91" width="6.10" height="6.31" fill="#007700"/><rect x="130.55" y="75.91" width="6.10" height="6.31" fill="#006400"/><rect x="136.15" y="75.91" width="6.10" height="6.31" fill="#006400"/><rect x="141.75" y="75.91" width="6.10" height="6.31" fill="#006400"/><rect x="147.35" y="75.91" width="6.10" height="6.31" fill="#007700"/><rect x="152.95" y="75.91" width="6.10" height="6.31" fill="#006400"/><rect x="158.55" y="75.91" width="6.10" height="6.31" fill="#007700"/><rect x="164.15" y="75.91" width="6.10" height="6.31" fill="#006400"/><rect x="85.75" y="81.71" width="6.10" height="6.31" fill="#bfff00"/><rect x="91.35" y="81.71" width="6.10" height="6.31" fill="#bfff00"/><rect x="96.95" y="81.71" width="6.10" height="6.31" fill="#80ff00"/><rect x="102.55" y="81.71" width="6.10" height="6.31" fill="#80ff00"/><rect x="108.15" y="81.71" width="6.10" height="6.31" fill="#40ff00"/><rect x="113.75" y="81.71" width="6.10" height="6.31" fill="#00ff00"/><rect x="119.35" y="81.71" width="6.10" height="6.31" fill="#00d800"/><rect x="124.95" y="81.71" width="6.10" height="6.31" fill="#007700"/><rect x="130.55" y="81.71" width="6.10" height="6.31" fill="#00d800"/><rect x="136.15" y="81.71" width="6.10" height="6.31" fill="#007700"/><rect x="141.75" y="81.71" width="6.10" height="6.31" fill="#006400"/><rect x="147.35" y="81.71" width="6.10" height="6.31" fill="#007700"/><rect x="152.95" y="81.71" width="6.10" height="6.31" fill="#007700"/><rect x="158.55" y="81.71" width="6.10" height="6.31" fill="#007700"/><rect x="164.15" y="81.71" width="6.10" height="6.31" fill="#007700"/><rect x="85.75" y="87.52" width="6.10" height="6.31" fill="#ffff00"/><rect x="91.35" y="87.52" width="6.10" height="6.31" fill="#bfff00"/><rect x="96.95" y="87.52" width="6.10" height="6.31" fill="#80ff00"/><rect x="102.55" y="87.52" width="6.10" height="6.31" fill="#bfff00"/><rect x="108.15" y="87.52" width="6.10" height="6.31" fill="#40ff00"/><rect x="113.75" y="87.52" width="6.10" height="6.31" fill="#00d800"/><rect x="119.35" y="87.52" width="6.10" height="6.31" fill="#00d800"/><rect x="124.95" y="87.52" width="6.10" height="6.31" fill="#006400"/><rect x="130.55" y="87.52" width="6.10" height="6.31" fill="#007700"/><rect x="136.15" y="87.52" width="6.10" height="6.31" fill="#006400"/><rect x="141.75" y="87.52" width="6.10" height="6.31" fill="#007700"/><rect x="147.35" y="87.52" width="6.10" height="6.31" fill="#006400"/><rect x="152.95" y="87.52" width="6.10" height="6.31" fill="#007700"/><rect x="158.55" y="87.52" width="6.10" height="6.31" fill="#007700"/><rect x="164.15" y="87.52" width="6.10" height="6.31" fill="#007700"/><rect x="85.75" y="93.33" width="6.10" height="6.31" fill="#bfff00"/><rect x="91.35" y="93.33" width="6.10" height="6.31" fill="#80ff00"/><rect x="96.95" y="93.33" width="6.10" height="6.31" fill="#40ff00"/><rect x="102.55" y="93.33" width="6.10" height="6.31" fill="#00d800"/><rect x="108.15" y="93.33" width="6.10" height="6.31" fill="#00d800"/><rect x="113.75" y="93.33" width="6.10" height="6.31" fill="#007700"/><rect x="119.35" y="93.33" width="6.10" height="6.31" fill="#00d800"/><rect x="124.95" y="93.33" width="6.10" height="6.31" fill="#006400"/><rect x="130.55" y="93.33" width="6.10" height="6.31" fill="#006400"/><rect x="136.15" y="93.33" width="6.10" height="6.31" fill="#006400"/><rect x="141.75" y="93.33" width="6.10" height="6.31" fill="#006400"/><rect x="147.35" y="93.33" width="6.10" height="6.31" fill="#007700"/><rect x="152.95" y="93.33" width="6.10" height="6.31" fill="#006400"/><rect x="158.55" y="93.33" width="6.10" height="6.31" fill="#007700"/><rect x="164.15" y="93.33" width="6.10" height="6.31" fill="#007700"/><rect x="85.75" y="99.14" width="6.10" height="6.31" fill="#bfff00"/><rect x="91.35" y="99.14" width="6.10" height="6.31" fill="#40ff00"/><rect x="96.95" y="99.14" width="6.10" height="6.31" fill="#40ff00"/><rect x="102.55" y="99.14" width="6.10" height="6.31" fill="#00d800"/><rect x="108.15" y="99.14" width="6.10" height="6.31" fill="#00ff00"/><rect x="113.75" y="99.14" width="6.10" height="6.31" fill="#00d800"/><rect x="119.35" y="99.14" width="6.10" height="6.31" fill="#00ff00"/><rect x="124.95" y="99.14" width="6.10" height="6.31" fill="#00b200"/><rect x="130.55" y="99.14" width="6.10" height="6.31" fill="#007700"/><rect x="136.15" y="99.14" width="6.10" height="6.31" fill="#006400"/><rect x="141.75" y="99.14" width="6.10" height="6.31" fill="#006400"/><rect x="147.35" y="99.14" width="6.10" height="6.31" fill="#007700"/><rect x="152.95" y="99.14" width="6.10" height="6.31" fill="#006400"/><rect x="158.55" y="99.14" width="6.10" height="6.31" fill="#007700"/><rect x="164.15" y="99.14" width="6.10" height="6.31" fill="#007700"/><rect x="85.75" y="104.94" width="6.10" height="6.31" fill="#ffff00"/><rect x="91.35" y="104.94" width="6.10" height="6.31" fill="#bfff00"/><rect x="96.95" y="104.94" width="6.10" height="6.31" fill="#40ff00"/><rect x="102.55" y="104.94" width="6.10" height="6.31" fill="#00ff00"/><rect x="108.15" y="104.94" width="6.10" height="6.31" fill="#00ff00"/><rect x="113.75" y="104.94" width="6.10" height="6.31" fill="#00d800"/><rect x="119.35" y="104.94" width="6.10" height="6.31" fill="#00d800"/><rect x="124.95" y="104.94" width="6.10" height="6.31" fill="#00d800"/><rect x="130.55" y="104.94" width="6.10" height="6.31" fill="#00b200"/><rect x="136.15" y="104.94" width="6.10" height="6.31" fill="#006400"/><rect x="141.75" y="104.94" width="6.10" height="6.31" fill="#006400"/><rect x="147.35" y="104.94" width="6.10" height="6.31" fill="#007700"/><rect x="152.95" y="104.94" width="6.10" height="6.31" fill="#00b200"/><rect x="158.55" y="104.94" width="6.10" height="6.31" fill="#007700"/><rect x="164.15" y="104.94" width="6.10" height="6.31" fill="#007700"/></g><g clip-path="url(#cCO)"><rect x="6.65" y="56.55" width="7.09" height="6.52" fill="#ff2900"/><rect x="13.24" y="56.55" width="7.09" height="6.52" fill="#ff2900"/><rect x="19.83" y="56.55" width="7.09" height="6.52" fill="#ff2900"/><rect x="26.42" y="56.55" width="7.09" height="6.52" fill="#80ff00"/><rect x="33.02" y="56.55" width="7.09" height="6.52" fill="#ffff00"/><rect x="39.61" y="56.55" width="7.09" height="6.52" fill="#ffd200"/><rect x="46.20" y="56.55" width="7.09" height="6.52" fill="#ffa500"/><rect x="52.79" y="56.55" width="7.09" height="6.52" fill="#ff0000"/><rect x="59.38" y="56.55" width="7.09" height="6.52" fill="#ff0000"/><rect x="65.97" y="56.55" width="7.09" height="6.52" fill="#ff6b00"/><rect x="72.57" y="56.55" width="7.09" height="6.52" fill="#ff6b00"/><rect x="79.16" y="56.55" width="7.09" height="6.52" fill="#ffd200"/><rect x="6.65" y="62.57" width="7.09" height="6.52" fill="#ff2900"/><rect x="13.24" y="62.57" width="7.09" height="6.52" fill="#ff2900"/><rect x="19.83" y="62.57" width="7.09" height="6.52" fill="#ff2900"/><rect x="26.42" y="62.57" width="7.09" height="6.52" fill="#80ff00"/><rect x="33.02" y="62.57" width="7.09" height="6.52" fill="#00ff00"/><rect x="39.61" y="62.57" width="7.09" height="6.52" fill="#00ff00"/><rect x="46.20" y="62.57" width="7.09" height="6.52" fill="#ffa500"/><rect x="52.79" y="62.57" width="7.09" height="6.52" fill="#ff0000"/><rect x="59.38" y="62.57" width="7.09" height="6.52" fill="#ffa500"/><rect x="65.97" y="62.57" width="7.09" height="6.52" fill="#ffa500"/><rect x="72.57" y="62.57" width="7.09" height="6.52" fill="#ffa500"/><rect x="79.16" y="62.57" width="7.09" height="6.52" fill="#ffff00"/><rect x="6.65" y="68.59" width="7.09" height="6.52" fill="#ff6b00"/><rect x="13.24" y="68.59" width="7.09" height="6.52" fill="#ff6b00"/><rect x="19.83" y="68.59" width="7.09" height="6.52" fill="#ff6b00"/><rect x="26.42" y="68.59" width="7.09" height="6.52" fill="#80ff00"/><rect x="33.02" y="68.59" width="7.09" height="6.52" fill="#00ff00"/><rect x="39.61" y="68.59" width="7.09" height="6.52" fill="#006400"/><rect x="46.20" y="68.59" width="7.09" height="6.52" fill="#ff6b00"/><rect x="52.79" y="68.59" width="7.09" height="6.52" fill="#ff6b00"/><rect x="59.38" y="68.59" width="7.09" height="6.52" fill="#ff6b00"/><rect x="65.97" y="68.59" width="7.09" height="6.52" fill="#ffa500"/><rect x="72.57" y="68.59" width="7.09" height="6.52" fill="#ffa500"/><rect x="79.16" y="68.59" width="7.09" height="6.52" fill="#ffff00"/><rect x="6.65" y="74.62" width="7.09" height="6.52" fill="#ff6b00"/><rect x="13.24" y="74.62" width="7.09" height="6.52" fill="#ff6b00"/><rect x="19.83" y="74.62" width="7.09" height="6.52" fill="#ff6b00"/><rect x="26.42" y="74.62" width="7.09" height="6.52" fill="#bfff00"/><rect x="33.02" y="74.62" width="7.09" height="6.52" fill="#bfff00"/><rect x="39.61" y="74.62" width="7.09" height="6.52" fill="#006400"/><rect x="46.20" y="74.62" width="7.09" height="6.52" fill="#ff6b00"/><rect x="52.79" y="74.62" width="7.09" height="6.52" fill="#ff0000"/><rect x="59.38" y="74.62" width="7.09" height="6.52" fill="#ff0000"/><rect x="65.97" y="74.62" width="7.09" height="6.52" fill="#ff0000"/><rect x="72.57" y="74.62" width="7.09" height="6.52" fill="#ffa500"/><rect x="79.16" y="74.62" width="7.09" height="6.52" fill="#ffd200"/><rect x="6.65" y="80.64" width="7.09" height="6.52" fill="#ffa500"/><rect x="13.24" y="80.64" width="7.09" height="6.52" fill="#ff0000"/><rect x="19.83" y="80.64" width="7.09" height="6.52" fill="#ff0000"/><rect x="26.42" y="80.64" width="7.09" height="6.52" fill="#00d800"/><rect x="33.02" y="80.64" width="7.09" height="6.52" fill="#00d800"/><rect x="39.61" y="80.64" width="7.09" height="6.52" fill="#006400"/><rect x="46.20" y="80.64" width="7.09" height="6.52" fill="#80ff00"/><rect x="52.79" y="80.64" width="7.09" height="6.52" fill="#ff6b00"/><rect x="59.38" y="80.64" width="7.09" height="6.52" fill="#ff0000"/><rect x="65.97" y="80.64" width="7.09" height="6.52" fill="#ff0000"/><rect x="72.57" y="80.64" width="7.09" height="6.52" fill="#ffa500"/><rect x="79.16" y="80.64" width="7.09" height="6.52" fill="#ffa500"/><rect x="6.65" y="86.66" width="7.09" height="6.52" fill="#ff2900"/><rect x="13.24" y="86.66" width="7.09" height="6.52" fill="#ff2900"/><rect x="19.83" y="86.66" width="7.09" height="6.52" fill="#ff2900"/><rect x="26.42" y="86.66" width="7.09" height="6.52" fill="#00d800"/><rect x="33.02" y="86.66" width="7.09" height="6.52" fill="#bfff00"/><rect x="39.61" y="86.66" width="7.09" height="6.52" fill="#bfff00"/><rect x="46.20" y="86.66" width="7.09" height="6.52" fill="#ff6b00"/><rect x="52.79" y="86.66" width="7.09" height="6.52" fill="#ff6b00"/><rect x="59.38" y="86.66" width="7.09" height="6.52" fill="#ffa500"/><rect x="65.97" y="86.66" width="7.09" height="6.52" fill="#ffe800"/><rect x="72.57" y="86.66" width="7.09" height="6.52" fill="#ffe800"/><rect x="79.16" y="86.66" width="7.09" height="6.52" fill="#ffe800"/><rect x="6.65" y="92.68" width="7.09" height="6.52" fill="#ff2900"/><rect x="13.24" y="92.68" width="7.09" height="6.52" fill="#ff2900"/><rect x="19.83" y="92.68" width="7.09" height="6.52" fill="#ffff00"/><rect x="26.42" y="92.68" width="7.09" height="6.52" fill="#006400"/><rect x="33.02" y="92.68" width="7.09" height="6.52" fill="#bfff00"/><rect x="39.61" y="92.68" width="7.09" height="6.52" fill="#bfff00"/><rect x="46.20" y="92.68" width="7.09" height="6.52" fill="#ff6b00"/><rect x="52.79" y="92.68" width="7.09" height="6.52" fill="#ff6b00"/><rect x="59.38" y="92.68" width="7.09" height="6.52" fill="#ffa500"/><rect x="65.97" y="92.68" width="7.09" height="6.52" fill="#ffd200"/><rect x="72.57" y="92.68" width="7.09" height="6.52" fill="#ffe800"/><rect x="79.16" y="92.68" width="7.09" height="6.52" fill="#ffe800"/><rect x="6.65" y="98.71" width="7.09" height="6.52" fill="#ffff00"/><rect x="13.24" y="98.71" width="7.09" height="6.52" fill="#ffff00"/><rect x="19.83" y="98.71" width="7.09" height="6.52" fill="#006400"/><rect x="26.42" y="98.71" width="7.09" height="6.52" fill="#006400"/><rect x="33.02" y="98.71" width="7.09" height="6.52" fill="#ffff00"/><rect x="39.61" y="98.71" width="7.09" height="6.52" fill="#ff0000"/><rect x="46.20" y="98.71" width="7.09" height="6.52" fill="#ff6b00"/><rect x="52.79" y="98.71" width="7.09" height="6.52" fill="#ff6b00"/><rect x="59.38" y="98.71" width="7.09" height="6.52" fill="#ff6b00"/><rect x="65.97" y="98.71" width="7.09" height="6.52" fill="#ffd200"/><rect x="72.57" y="98.71" width="7.09" height="6.52" fill="#ffe800"/><rect x="79.16" y="98.71" width="7.09" height="6.52" fill="#ffe800"/><rect x="6.65" y="104.73" width="7.09" height="6.52" fill="#ff5200"/><rect x="13.24" y="104.73" width="7.09" height="6.52" fill="#ffa500"/><rect x="19.83" y="104.73" width="7.09" height="6.52" fill="#ffff00"/><rect x="26.42" y="104.73" width="7.09" height="6.52" fill="#ffff00"/><rect x="33.02" y="104.73" width="7.09" height="6.52" fill="#ffe800"/><rect x="39.61" y="104.73" width="7.09" height="6.52" fill="#ff5200"/><rect x="46.20" y="104.73" width="7.09" height="6.52" fill="#ff5200"/><rect x="52.79" y="104.73" width="7.09" height="6.52" fill="#ff6b00"/><rect x="59.38" y="104.73" width="7.09" height="6.52" fill="#ff6b00"/><rect x="65.97" y="104.73" width="7.09" height="6.52" fill="#ff6b00"/><rect x="72.57" y="104.73" width="7.09" height="6.52" fill="#ffff00"/><rect x="79.16" y="104.73" width="7.09" height="6.52" fill="#ffff00"/></g><g fill="none" stroke="#b0b0b0" stroke-width="1.2"><path clip-path="url(#cNE)" d="M69.10 29.90v5.78M80.30 29.90v5.78M85.90 29.90v5.78M108.30 29.90v5.78M113.90 29.90v5.78M119.50 29.90v5.78M125.10 29.90v5.78M130.70 29.90v5.78M136.30 29.90v5.78M141.90 29.90v5.78M147.50 29.90v5.78M153.10 29.90v5.78M158.70 29.90v5.78M69.10 35.68v5.78M80.30 35.68v5.78M85.90 35.68v5.78M108.30 35.68v5.78M113.90 35.68v5.78M119.50 35.68v5.78M125.10 35.68v5.78M130.70 35.68v5.78M136.30 35.68v5.78M141.90 35.68v5.78M147.50 35.68v5.78M153.10 35.68v5.78M158.70 35.68v5.78M69.10 41.46v5.78M74.70 41.46v5.78M80.30 41.46v5.78M85.90 41.46v5.78M91.50 41.46v5.78M97.10 41.46v5.78M108.30 41.46v5.78M113.90 41.46v5.78M119.50 41.46v5.78M125.10 41.46v5.78M130.70 41.46v5.78M136.30 41.46v5.78M141.90 41.46v5.78M147.50 41.46v5.78M153.10 41.46v5.78M158.70 41.46v5.78M69.10 47.24v5.78M80.30 47.24v5.78M85.90 47.24v5.78M91.50 47.24v5.78M97.10 47.24v5.78M102.70 47.24v5.78M108.30 47.24v5.78M113.90 47.24v5.78M119.50 47.24v5.78M125.10 47.24v5.78M130.70 47.24v5.78M136.30 47.24v5.78M141.90 47.24v5.78M147.50 47.24v5.78M153.10 47.24v5.78M158.70 47.24v5.78M69.10 53.01v5.78M74.70 53.01v5.78M80.30 53.01v5.78M85.90 53.01v5.78M91.50 53.01v5.78M102.70 53.01v5.78M108.30 53.01v5.78M113.90 53.01v5.78M119.50 53.01v5.78M125.10 53.01v5.78M130.70 53.01v5.78M136.30 53.01v5.78M141.90 53.01v5.78M147.50 53.01v5.78M153.10 53.01v5.78M158.70 53.01v5.78M91.50 58.79v5.78M97.10 58.79v5.78M102.70 58.79v5.78M108.30 58.79v5.78M113.90 58.79v5.78M119.50 58.79v5.78M125.10 58.79v5.78M130.70 58.79v5.78M136.30 58.79v5.78M141.90 58.79v5.78M147.50 58.79v5.78M153.10 58.79v5.78M158.70 58.79v5.78M91.50 64.57v5.78M97.10 64.57v5.78M108.30 64.57v5.78M113.90 64.57v5.78M119.50 64.57v5.78M125.10 64.57v5.78M130.70 64.57v5.78M136.30 64.57v5.78M141.90 64.57v5.78M147.50 64.57v5.78M153.10 64.57v5.78M158.70 64.57v5.78M69.10 35.68h5.60M74.70 35.68h5.60M108.30 35.68h5.60M113.90 35.68h5.60M119.50 35.68h5.60M125.10 35.68h5.60M130.70 35.68h5.60M136.30 35.68h5.60M141.90 35.68h5.60M147.50 35.68h5.60M153.10 35.68h5.60M158.70 35.68h5.60M63.50 41.46h5.60M69.10 41.46h5.60M80.30 41.46h5.60M85.90 41.46h5.60M91.50 41.46h5.60M97.10 41.46h5.60M102.70 41.46h5.60M108.30 41.46h5.60M113.90 41.46h5.60M119.50 41.46h5.60M125.10 41.46h5.60M130.70 41.46h5.60M136.30 41.46h5.60M141.90 41.46h5.60M147.50 41.46h5.60M153.10 41.46h5.60M158.70 41.46h5.60M63.50 47.24h5.60M69.10 47.24h5.60M74.70 47.24h5.60M80.30 47.24h5.60M85.90 47.24h5.60M91.50 47.24h5.60M97.10 47.24h5.60M102.70 47.24h5.60M108.30 47.24h5.60M113.90 47.24h5.60M119.50 47.24h5.60M125.10 47.24h5.60M130.70 47.24h5.60M136.30 47.24h5.60M141.90 47.24h5.60M147.50 47.24h5.60M153.10 47.24h5.60M158.70 47.24h5.60M63.50 53.01h5.60M69.10 53.01h5.60M74.70 53.01h5.60M80.30 53.01h5.60M85.90 53.01h5.60M91.50 53.01h5.60M97.10 53.01h5.60M102.70 53.01h5.60M113.90 53.01h5.60M119.50 53.01h5.60M125.10 53.01h5.60M130.70 53.01h5.60M136.30 53.01h5.60M141.90 53.01h5.60M147.50 53.01h5.60M153.10 53.01h5.60M158.70 53.01h5.60M85.90 58.79h5.60M91.50 58.79h5.60M97.10 58.79h5.60M102.70 58.79h5.60M108.30 58.79h5.60M113.90 58.79h5.60M119.50 58.79h5.60M125.10 58.79h5.60M130.70 58.79h5.60M136.30 58.79h5.60M141.90 58.79h5.60M147.50 58.79h5.60M153.10 58.79h5.60M158.70 58.79h5.60M85.90 64.57h5.60M91.50 64.57h5.60M97.10 64.57h5.60M102.70 64.57h5.60M108.30 64.57h5.60M113.90 64.57h5.60M119.50 64.57h5.60M125.10 64.57h5.60M130.70 64.57h5.60M136.30 64.57h5.60M141.90 64.57h5.60M147.50 64.57h5.60M153.10 64.57h5.60M158.70 64.57h5.60"/><path clip-path="url(#cCO)" d="M26.67 56.80v6.02M33.27 56.80v6.02M39.86 56.80v6.02M46.45 56.80v6.02M53.04 56.80v6.02M66.22 56.80v6.02M79.41 56.80v6.02M26.67 62.82v6.02M33.27 62.82v6.02M39.86 62.82v6.02M46.45 62.82v6.02M53.04 62.82v6.02M59.63 62.82v6.02M66.22 62.82v6.02M79.41 62.82v6.02M20.08 68.84v6.02M26.67 68.84v6.02M33.27 68.84v6.02M39.86 68.84v6.02M46.45 68.84v6.02M66.22 68.84v6.02M79.41 68.84v6.02M26.67 74.87v6.02M33.27 74.87v6.02M39.86 74.87v6.02M46.45 74.87v6.02M53.04 74.87v6.02M59.63 74.87v6.02M66.22 74.87v6.02M72.82 74.87v6.02M79.41 74.87v6.02M13.49 80.89v6.02M20.08 80.89v6.02M26.67 80.89v6.02M33.27 80.89v6.02M39.86 80.89v6.02M46.45 80.89v6.02M53.04 80.89v6.02M59.63 80.89v6.02M72.82 80.89v6.02M13.49 86.91v6.02M20.08 86.91v6.02M26.67 86.91v6.02M33.27 86.91v6.02M39.86 86.91v6.02M46.45 86.91v6.02M53.04 86.91v6.02M59.63 86.91v6.02M66.22 86.91v6.02M72.82 86.91v6.02M13.49 92.93v6.02M20.08 92.93v6.02M26.67 92.93v6.02M33.27 92.93v6.02M39.86 92.93v6.02M46.45 92.93v6.02M59.63 92.93v6.02M66.22 92.93v6.02M72.82 92.93v6.02M79.41 92.93v6.02M13.49 98.96v6.02M20.08 98.96v6.02M26.67 98.96v6.02M33.27 98.96v6.02M39.86 98.96v6.02M46.45 98.96v6.02M59.63 98.96v6.02M66.22 98.96v6.02M72.82 98.96v6.02M79.41 98.96v6.02M13.49 104.98v6.02M20.08 104.98v6.02M26.67 104.98v6.02M33.27 104.98v6.02M39.86 104.98v6.02M53.04 104.98v6.02M66.22 104.98v6.02M72.82 104.98v6.02M33.27 62.82h6.59M39.86 62.82h6.59M46.45 62.82h6.59M59.63 62.82h6.59M66.22 62.82h6.59M72.82 62.82h6.59M79.41 62.82h6.59M6.90 68.84h6.59M13.49 68.84h6.59M20.08 68.84h6.59M26.67 68.84h6.59M39.86 68.84h6.59M46.45 68.84h6.59M53.04 68.84h6.59M59.63 68.84h6.59M6.90 74.87h6.59M13.49 74.87h6.59M26.67 74.87h6.59M33.27 74.87h6.59M39.86 74.87h6.59M46.45 74.87h6.59M53.04 74.87h6.59M59.63 74.87h6.59M66.22 74.87h6.59M72.82 74.87h6.59M79.41 74.87h6.59M6.90 80.89h6.59M13.49 80.89h6.59M20.08 80.89h6.59M26.67 80.89h6.59M33.27 80.89h6.59M39.86 80.89h6.59M46.45 80.89h6.59M53.04 80.89h6.59M59.63 80.89h6.59M79.41 80.89h6.59M6.90 86.91h6.59M13.49 86.91h6.59M20.08 86.91h6.59M33.27 86.91h6.59M39.86 86.91h6.59M46.45 86.91h6.59M53.04 86.91h6.59M59.63 86.91h6.59M66.22 86.91h6.59M72.82 86.91h6.59M79.41 86.91h6.59M6.90 92.93h6.59M20.08 92.93h6.59M26.67 92.93h6.59M33.27 92.93h6.59M39.86 92.93h6.59M46.45 92.93h6.59M53.04 92.93h6.59M59.63 92.93h6.59M66.22 92.93h6.59M72.82 92.93h6.59M79.41 92.93h6.59M6.90 98.96h6.59M13.49 98.96h6.59M20.08 98.96h6.59M26.67 98.96h6.59M33.27 98.96h6.59M39.86 98.96h6.59M46.45 98.96h6.59M53.04 98.96h6.59M59.63 98.96h6.59M6.90 104.98h6.59M13.49 104.98h6.59M20.08 104.98h6.59M26.67 104.98h6.59M33.27 104.98h6.59M39.86 104.98h6.59M46.45 104.98h6.59M59.63 104.98h6.59M66.22 104.98h6.59M72.82 104.98h6.59M79.41 104.98h6.59"/></g><use href="#grid"/><use href="#outl"/></g>
<g transform="translate(0.00,214.00)"><text x="88.5" y="24.3" class="yr">2017</text><g clip-path="url(#cNE)"><rect x="63.25" y="29.65" width="6.10" height="6.28" fill="#ff6b00"/><rect x="68.85" y="29.65" width="6.10" height="6.28" fill="#ffa500"/><rect x="74.45" y="29.65" width="6.10" height="6.28" fill="#ffd200"/><rect x="80.05" y="29.65" width="6.10" height="6.28" fill="#ffd200"/><rect x="85.65" y="29.65" width="6.10" height="6.28" fill="#ffff00"/><rect x="91.25" y="29.65" width="6.10" height="6.28" fill="#ffff00"/><rect x="96.85" y="29.65" width="6.10" height="6.28" fill="#ffff00"/><rect x="102.45" y="29.65" width="6.10" height="6.28" fill="#ffff00"/><rect x="108.05" y="29.65" width="6.10" height="6.28" fill="#80ff00"/><rect x="113.65" y="29.65" width="6.10" height="6.28" fill="#40ff00"/><rect x="119.25" y="29.65" width="6.10" height="6.28" fill="#40ff00"/><rect x="124.85" y="29.65" width="6.10" height="6.28" fill="#00d800"/><rect x="130.45" y="29.65" width="6.10" height="6.28" fill="#00b200"/><rect x="136.05" y="29.65" width="6.10" height="6.28" fill="#00d800"/><rect x="141.65" y="29.65" width="6.10" height="6.28" fill="#40ff00"/><rect x="147.25" y="29.65" width="6.10" height="6.28" fill="#00ff00"/><rect x="152.85" y="29.65" width="6.10" height="6.28" fill="#00ff00"/><rect x="158.45" y="29.65" width="6.10" height="6.28" fill="#00ff00"/><rect x="63.25" y="35.43" width="6.10" height="6.28" fill="#ff6b00"/><rect x="68.85" y="35.43" width="6.10" height="6.28" fill="#ffa500"/><rect x="74.45" y="35.43" width="6.10" height="6.28" fill="#ffd200"/><rect x="80.05" y="35.43" width="6.10" height="6.28" fill="#ffd200"/><rect x="85.65" y="35.43" width="6.10" height="6.28" fill="#ffff00"/><rect x="91.25" y="35.43" width="6.10" height="6.28" fill="#ffff00"/><rect x="96.85" y="35.43" width="6.10" height="6.28" fill="#ffff00"/><rect x="102.45" y="35.43" width="6.10" height="6.28" fill="#ffff00"/><rect x="108.05" y="35.43" width="6.10" height="6.28" fill="#40ff00"/><rect x="113.65" y="35.43" width="6.10" height="6.28" fill="#40ff00"/><rect x="119.25" y="35.43" width="6.10" height="6.28" fill="#40ff00"/><rect x="124.85" y="35.43" width="6.10" height="6.28" fill="#00d800"/><rect x="130.45" y="35.43" width="6.10" height="6.28" fill="#007700"/><rect x="136.05" y="35.43" width="6.10" height="6.28" fill="#00b200"/><rect x="141.65" y="35.43" width="6.10" height="6.28" fill="#00d800"/><rect x="147.25" y="35.43" width="6.10" height="6.28" fill="#00d800"/><rect x="152.85" y="35.43" width="6.10" height="6.28" fill="#00d800"/><rect x="158.45" y="35.43" width="6.10" height="6.28" fill="#00d800"/><rect x="63.25" y="41.21" width="6.10" height="6.28" fill="#ff6b00"/><rect x="68.85" y="41.21" width="6.10" height="6.28" fill="#ffa500"/><rect x="74.45" y="41.21" width="6.10" height="6.28" fill="#ffa500"/><rect x="80.05" y="41.21" width="6.10" height="6.28" fill="#ffd200"/><rect x="85.65" y="41.21" width="6.10" height="6.28" fill="#ffd200"/><rect x="91.25" y="41.21" width="6.10" height="6.28" fill="#bfff00"/><rect x="96.85" y="41.21" width="6.10" height="6.28" fill="#00d800"/><rect x="102.45" y="41.21" width="6.10" height="6.28" fill="#00b200"/><rect x="108.05" y="41.21" width="6.10" height="6.28" fill="#80ff00"/><rect x="113.65" y="41.21" width="6.10" height="6.28" fill="#00d800"/><rect x="119.25" y="41.21" width="6.10" height="6.28" fill="#00ff00"/><rect x="124.85" y="41.21" width="6.10" height="6.28" fill="#00d800"/><rect x="130.45" y="41.21" width="6.10" height="6.28" fill="#00b200"/><rect x="136.05" y="41.21" width="6.10" height="6.28" fill="#00b200"/><rect x="141.65" y="41.21" width="6.10" height="6.28" fill="#00b200"/><rect x="147.25" y="41.21" width="6.10" height="6.28" fill="#00b200"/><rect x="152.85" y="41.21" width="6.10" height="6.28" fill="#007700"/><rect x="158.45" y="41.21" width="6.10" height="6.28" fill="#007700"/><rect x="63.25" y="46.99" width="6.10" height="6.28" fill="#ffa500"/><rect x="68.85" y="46.99" width="6.10" height="6.28" fill="#ffa500"/><rect x="74.45" y="46.99" width="6.10" height="6.28" fill="#ffa500"/><rect x="80.05" y="46.99" width="6.10" height="6.28" fill="#ffd200"/><rect x="85.65" y="46.99" width="6.10" height="6.28" fill="#ffd200"/><rect x="91.25" y="46.99" width="6.10" height="6.28" fill="#ffff00"/><rect x="96.85" y="46.99" width="6.10" height="6.28" fill="#ffff00"/><rect x="102.45" y="46.99" width="6.10" height="6.28" fill="#bfff00"/><rect x="108.05" y="46.99" width="6.10" height="6.28" fill="#80ff00"/><rect x="113.65" y="46.99" width="6.10" height="6.28" fill="#bfff00"/><rect x="119.25" y="46.99" width="6.10" height="6.28" fill="#00ff00"/><rect x="124.85" y="46.99" width="6.10" height="6.28" fill="#40ff00"/><rect x="130.45" y="46.99" width="6.10" height="6.28" fill="#00d800"/><rect x="136.05" y="46.99" width="6.10" height="6.28" fill="#00d800"/><rect x="141.65" y="46.99" width="6.10" height="6.28" fill="#00b200"/><rect x="147.25" y="46.99" width="6.10" height="6.28" fill="#00b200"/><rect x="152.85" y="46.99" width="6.10" height="6.28" fill="#007700"/><rect x="158.45" y="46.99" width="6.10" height="6.28" fill="#007700"/><rect x="63.25" y="52.76" width="6.10" height="6.28" fill="#ffa500"/><rect x="68.85" y="52.76" width="6.10" height="6.28" fill="#ffa500"/><rect x="74.45" y="52.76" width="6.10" height="6.28" fill="#ffa500"/><rect x="80.05" y="52.76" width="6.10" height="6.28" fill="#ffd200"/><rect x="85.65" y="52.76" width="6.10" height="6.28" fill="#ffd200"/><rect x="91.25" y="52.76" width="6.10" height="6.28" fill="#ffff00"/><rect x="96.85" y="52.76" width="6.10" height="6.28" fill="#bfff00"/><rect x="102.45" y="52.76" width="6.10" height="6.28" fill="#bfff00"/><rect x="108.05" y="52.76" width="6.10" height="6.28" fill="#40ff00"/><rect x="113.65" y="52.76" width="6.10" height="6.28" fill="#40ff00"/><rect x="119.25" y="52.76" width="6.10" height="6.28" fill="#00ff00"/><rect x="124.85" y="52.76" width="6.10" height="6.28" fill="#00b200"/><rect x="130.45" y="52.76" width="6.10" height="6.28" fill="#00b200"/><rect x="136.05" y="52.76" width="6.10" height="6.28" fill="#00d800"/><rect x="141.65" y="52.76" width="6.10" height="6.28" fill="#00b200"/><rect x="147.25" y="52.76" width="6.10" height="6.28" fill="#007700"/><rect x="152.85" y="52.76" width="6.10" height="6.28" fill="#00b200"/><rect x="158.45" y="52.76" width="6.10" height="6.28" fill="#00b200"/><rect x="85.65" y="58.54" width="6.10" height="6.28" fill="#ffd200"/><rect x="91.25" y="58.54" width="6.10" height="6.28" fill="#ffff00"/><rect x="96.85" y="58.54" width="6.10" height="6.28" fill="#bfff00"/><rect x="102.45" y="58.54" width="6.10" height="6.28" fill="#bfff00"/><rect x="108.05" y="58.54" width="6.10" height="6.28" fill="#40ff00"/><rect x="113.65" y="58.54" width="6.10" height="6.28" fill="#40ff00"/><rect x="119.25" y="58.54" width="6.10" height="6.28" fill="#40ff00"/><rect x="124.85" y="58.54" width="6.10" height="6.28" fill="#40ff00"/><rect x="130.45" y="58.54" width="6.10" height="6.28" fill="#40ff00"/><rect x="136.05" y="58.54" width="6.10" height="6.28" fill="#00d800"/><rect x="141.65" y="58.54" width="6.10" height="6.28" fill="#007700"/><rect x="147.25" y="58.54" width="6.10" height="6.28" fill="#00d800"/><rect x="152.85" y="58.54" width="6.10" height="6.28" fill="#00d800"/><rect x="158.45" y="58.54" width="6.10" height="6.28" fill="#00d800"/><rect x="85.65" y="64.32" width="6.10" height="6.28" fill="#ffe800"/><rect x="91.25" y="64.32" width="6.10" height="6.28" fill="#bfff00"/><rect x="96.85" y="64.32" width="6.10" height="6.28" fill="#bfff00"/><rect x="102.45" y="64.32" width="6.10" height="6.28" fill="#80ff00"/><rect x="108.05" y="64.32" width="6.10" height="6.28" fill="#40ff00"/><rect x="113.65" y="64.32" width="6.10" height="6.28" fill="#40ff00"/><rect x="119.25" y="64.32" width="6.10" height="6.28" fill="#40ff00"/><rect x="124.85" y="64.32" width="6.10" height="6.28" fill="#80ff00"/><rect x="130.45" y="64.32" width="6.10" height="6.28" fill="#80ff00"/><rect x="136.05" y="64.32" width="6.10" height="6.28" fill="#80ff00"/><rect x="141.65" y="64.32" width="6.10" height="6.28" fill="#40ff00"/><rect x="147.25" y="64.32" width="6.10" height="6.28" fill="#bfff00"/><rect x="152.85" y="64.32" width="6.10" height="6.28" fill="#bfff00"/><rect x="158.45" y="64.32" width="6.10" height="6.28" fill="#bfff00"/></g><g clip-path="url(#cKS)"><rect x="85.75" y="70.10" width="6.10" height="6.31" fill="#bfff00"/><rect x="91.35" y="70.10" width="6.10" height="6.31" fill="#40ff00"/><rect x="96.95" y="70.10" width="6.10" height="6.31" fill="#80ff00"/><rect x="102.55" y="70.10" width="6.10" height="6.31" fill="#80ff00"/><rect x="108.15" y="70.10" width="6.10" height="6.31" fill="#80ff00"/><rect x="113.75" y="70.10" width="6.10" height="6.31" fill="#80ff00"/><rect x="119.35" y="70.10" width="6.10" height="6.31" fill="#80ff00"/><rect x="124.95" y="70.10" width="6.10" height="6.31" fill="#80ff00"/><rect x="130.55" y="70.10" width="6.10" height="6.31" fill="#80ff00"/><rect x="136.15" y="70.10" width="6.10" height="6.31" fill="#40ff00"/><rect x="141.75" y="70.10" width="6.10" height="6.31" fill="#80ff00"/><rect x="147.35" y="70.10" width="6.10" height="6.31" fill="#ffe800"/><rect x="152.95" y="70.10" width="6.10" height="6.31" fill="#80ff00"/><rect x="158.55" y="70.10" width="6.10" height="6.31" fill="#40ff00"/><rect x="164.15" y="70.10" width="6.10" height="6.31" fill="#40ff00"/><rect x="85.75" y="75.91" width="6.10" height="6.31" fill="#00ff00"/><rect x="91.35" y="75.91" width="6.10" height="6.31" fill="#80ff00"/><rect x="96.95" y="75.91" width="6.10" height="6.31" fill="#80ff00"/><rect x="102.55" y="75.91" width="6.10" height="6.31" fill="#bfff00"/><rect x="108.15" y="75.91" width="6.10" height="6.31" fill="#bfff00"/><rect x="113.75" y="75.91" width="6.10" height="6.31" fill="#ffe800"/><rect x="119.35" y="75.91" width="6.10" height="6.31" fill="#80ff00"/><rect x="124.95" y="75.91" width="6.10" height="6.31" fill="#80ff00"/><rect x="130.55" y="75.91" width="6.10" height="6.31" fill="#40ff00"/><rect x="136.15" y="75.91" width="6.10" height="6.31" fill="#40ff00"/><rect x="141.75" y="75.91" width="6.10" height="6.31" fill="#00ff00"/><rect x="147.35" y="75.91" width="6.10" height="6.31" fill="#00d800"/><rect x="152.95" y="75.91" width="6.10" height="6.31" fill="#00d800"/><rect x="158.55" y="75.91" width="6.10" height="6.31" fill="#007700"/><rect x="164.15" y="75.91" width="6.10" height="6.31" fill="#007700"/><rect x="85.75" y="81.71" width="6.10" height="6.31" fill="#80ff00"/><rect x="91.35" y="81.71" width="6.10" height="6.31" fill="#80ff00"/><rect x="96.95" y="81.71" width="6.10" height="6.31" fill="#80ff00"/><rect x="102.55" y="81.71" width="6.10" height="6.31" fill="#bfff00"/><rect x="108.15" y="81.71" width="6.10" height="6.31" fill="#bfff00"/><rect x="113.75" y="81.71" width="6.10" height="6.31" fill="#80ff00"/><rect x="119.35" y="81.71" width="6.10" height="6.31" fill="#80ff00"/><rect x="124.95" y="81.71" width="6.10" height="6.31" fill="#80ff00"/><rect x="130.55" y="81.71" width="6.10" height="6.31" fill="#80ff00"/><rect x="136.15" y="81.71" width="6.10" height="6.31" fill="#00ff00"/><rect x="141.75" y="81.71" width="6.10" height="6.31" fill="#00d800"/><rect x="147.35" y="81.71" width="6.10" height="6.31" fill="#00d800"/><rect x="152.95" y="81.71" width="6.10" height="6.31" fill="#00b200"/><rect x="158.55" y="81.71" width="6.10" height="6.31" fill="#007700"/><rect x="164.15" y="81.71" width="6.10" height="6.31" fill="#007700"/><rect x="85.75" y="87.52" width="6.10" height="6.31" fill="#bfff00"/><rect x="91.35" y="87.52" width="6.10" height="6.31" fill="#bfff00"/><rect x="96.95" y="87.52" width="6.10" height="6.31" fill="#bfff00"/><rect x="102.55" y="87.52" width="6.10" height="6.31" fill="#ffff00"/><rect x="108.15" y="87.52" width="6.10" height="6.31" fill="#bfff00"/><rect x="113.75" y="87.52" width="6.10" height="6.31" fill="#80ff00"/><rect x="119.35" y="87.52" width="6.10" height="6.31" fill="#80ff00"/><rect x="124.95" y="87.52" width="6.10" height="6.31" fill="#bfff00"/><rect x="130.55" y="87.52" width="6.10" height="6.31" fill="#80ff00"/><rect x="136.15" y="87.52" width="6.10" height="6.31" fill="#40ff00"/><rect x="141.75" y="87.52" width="6.10" height="6.31" fill="#00ff00"/><rect x="147.35" y="87.52" width="6.10" height="6.31" fill="#00d800"/><rect x="152.95" y="87.52" width="6.10" height="6.31" fill="#007700"/><rect x="158.55" y="87.52" width="6.10" height="6.31" fill="#007700"/><rect x="164.15" y="87.52" width="6.10" height="6.31" fill="#007700"/><rect x="85.75" y="93.33" width="6.10" height="6.31" fill="#ffff00"/><rect x="91.35" y="93.33" width="6.10" height="6.31" fill="#bfff00"/><rect x="96.95" y="93.33" width="6.10" height="6.31" fill="#bfff00"/><rect x="102.55" y="93.33" width="6.10" height="6.31" fill="#80ff00"/><rect x="108.15" y="93.33" width="6.10" height="6.31" fill="#80ff00"/><rect x="113.75" y="93.33" width="6.10" height="6.31" fill="#bfff00"/><rect x="119.35" y="93.33" width="6.10" height="6.31" fill="#bfff00"/><rect x="124.95" y="93.33" width="6.10" height="6.31" fill="#80ff00"/><rect x="130.55" y="93.33" width="6.10" height="6.31" fill="#80ff00"/><rect x="136.15" y="93.33" width="6.10" height="6.31" fill="#40ff00"/><rect x="141.75" y="93.33" width="6.10" height="6.31" fill="#00d800"/><rect x="147.35" y="93.33" width="6.10" height="6.31" fill="#00d800"/><rect x="152.95" y="93.33" width="6.10" height="6.31" fill="#007700"/><rect x="158.55" y="93.33" width="6.10" height="6.31" fill="#007700"/><rect x="164.15" y="93.33" width="6.10" height="6.31" fill="#007700"/><rect x="85.75" y="99.14" width="6.10" height="6.31" fill="#bfff00"/><rect x="91.35" y="99.14" width="6.10" height="6.31" fill="#40ff00"/><rect x="96.95" y="99.14" width="6.10" height="6.31" fill="#ffe800"/><rect x="102.55" y="99.14" width="6.10" height="6.31" fill="#80ff00"/><rect x="108.15" y="99.14" width="6.10" height="6.31" fill="#80ff00"/><rect x="113.75" y="99.14" width="6.10" height="6.31" fill="#80ff00"/><rect x="119.35" y="99.14" width="6.10" height="6.31" fill="#80ff00"/><rect x="124.95" y="99.14" width="6.10" height="6.31" fill="#80ff00"/><rect x="130.55" y="99.14" width="6.10" height="6.31" fill="#40ff00"/><rect x="136.15" y="99.14" width="6.10" height="6.31" fill="#00d800"/><rect x="141.75" y="99.14" width="6.10" height="6.31" fill="#00b200"/><rect x="147.35" y="99.14" width="6.10" height="6.31" fill="#00d800"/><rect x="152.95" y="99.14" width="6.10" height="6.31" fill="#007700"/><rect x="158.55" y="99.14" width="6.10" height="6.31" fill="#007700"/><rect x="164.15" y="99.14" width="6.10" height="6.31" fill="#006400"/><rect x="85.75" y="104.94" width="6.10" height="6.31" fill="#bfff00"/><rect x="91.35" y="104.94" width="6.10" height="6.31" fill="#80ff00"/><rect x="96.95" y="104.94" width="6.10" height="6.31" fill="#bfff00"/><rect x="102.55" y="104.94" width="6.10" height="6.31" fill="#bfff00"/><rect x="108.15" y="104.94" width="6.10" height="6.31" fill="#80ff00"/><rect x="113.75" y="104.94" width="6.10" height="6.31" fill="#80ff00"/><rect x="119.35" y="104.94" width="6.10" height="6.31" fill="#40ff00"/><rect x="124.95" y="104.94" width="6.10" height="6.31" fill="#40ff00"/><rect x="130.55" y="104.94" width="6.10" height="6.31" fill="#00d800"/><rect x="136.15" y="104.94" width="6.10" height="6.31" fill="#007700"/><rect x="141.75" y="104.94" width="6.10" height="6.31" fill="#00b200"/><rect x="147.35" y="104.94" width="6.10" height="6.31" fill="#007700"/><rect x="152.95" y="104.94" width="6.10" height="6.31" fill="#007700"/><rect x="158.55" y="104.94" width="6.10" height="6.31" fill="#007700"/><rect x="164.15" y="104.94" width="6.10" height="6.31" fill="#006400"/></g><g clip-path="url(#cCO)"><rect x="6.65" y="56.55" width="7.09" height="6.52" fill="#ff6b00"/><rect x="13.24" y="56.55" width="7.09" height="6.52" fill="#ff6b00"/><rect x="19.83" y="56.55" width="7.09" height="6.52" fill="#ff6b00"/><rect x="26.42" y="56.55" width="7.09" height="6.52" fill="#40ff00"/><rect x="33.02" y="56.55" width="7.09" height="6.52" fill="#40ff00"/><rect x="39.61" y="56.55" width="7.09" height="6.52" fill="#00ff00"/><rect x="46.20" y="56.55" width="7.09" height="6.52" fill="#40ff00"/><rect x="52.79" y="56.55" width="7.09" height="6.52" fill="#ff5200"/><rect x="59.38" y="56.55" width="7.09" height="6.52" fill="#ff5200"/><rect x="65.97" y="56.55" width="7.09" height="6.52" fill="#ffa500"/><rect x="72.57" y="56.55" width="7.09" height="6.52" fill="#ffa500"/><rect x="79.16" y="56.55" width="7.09" height="6.52" fill="#ffa500"/><rect x="6.65" y="62.57" width="7.09" height="6.52" fill="#ff6b00"/><rect x="13.24" y="62.57" width="7.09" height="6.52" fill="#ff6b00"/><rect x="19.83" y="62.57" width="7.09" height="6.52" fill="#ff6b00"/><rect x="26.42" y="62.57" width="7.09" height="6.52" fill="#40ff00"/><rect x="33.02" y="62.57" width="7.09" height="6.52" fill="#00b200"/><rect x="39.61" y="62.57" width="7.09" height="6.52" fill="#00b200"/><rect x="46.20" y="62.57" width="7.09" height="6.52" fill="#bfff00"/><rect x="52.79" y="62.57" width="7.09" height="6.52" fill="#ff5200"/><rect x="59.38" y="62.57" width="7.09" height="6.52" fill="#ff6b00"/><rect x="65.97" y="62.57" width="7.09" height="6.52" fill="#ff6b00"/><rect x="72.57" y="62.57" width="7.09" height="6.52" fill="#ff6b00"/><rect x="79.16" y="62.57" width="7.09" height="6.52" fill="#ffff00"/><rect x="6.65" y="68.59" width="7.09" height="6.52" fill="#ff6b00"/><rect x="13.24" y="68.59" width="7.09" height="6.52" fill="#ff6b00"/><rect x="19.83" y="68.59" width="7.09" height="6.52" fill="#ff6b00"/><rect x="26.42" y="68.59" width="7.09" height="6.52" fill="#40ff00"/><rect x="33.02" y="68.59" width="7.09" height="6.52" fill="#00b200"/><rect x="39.61" y="68.59" width="7.09" height="6.52" fill="#00b200"/><rect x="46.20" y="68.59" width="7.09" height="6.52" fill="#ffff00"/><rect x="52.79" y="68.59" width="7.09" height="6.52" fill="#ff6b00"/><rect x="59.38" y="68.59" width="7.09" height="6.52" fill="#ff6b00"/><rect x="65.97" y="68.59" width="7.09" height="6.52" fill="#ff6b00"/><rect x="72.57" y="68.59" width="7.09" height="6.52" fill="#ffa500"/><rect x="79.16" y="68.59" width="7.09" height="6.52" fill="#ffff00"/><rect x="6.65" y="74.62" width="7.09" height="6.52" fill="#ff6b00"/><rect x="13.24" y="74.62" width="7.09" height="6.52" fill="#ff6b00"/><rect x="19.83" y="74.62" width="7.09" height="6.52" fill="#ff6b00"/><rect x="26.42" y="74.62" width="7.09" height="6.52" fill="#bfff00"/><rect x="33.02" y="74.62" width="7.09" height="6.52" fill="#bfff00"/><rect x="39.61" y="74.62" width="7.09" height="6.52" fill="#006400"/><rect x="46.20" y="74.62" width="7.09" height="6.52" fill="#ffff00"/><rect x="52.79" y="74.62" width="7.09" height="6.52" fill="#ffa500"/><rect x="59.38" y="74.62" width="7.09" height="6.52" fill="#ffa500"/><rect x="65.97" y="74.62" width="7.09" height="6.52" fill="#ffa500"/><rect x="72.57" y="74.62" width="7.09" height="6.52" fill="#ffff00"/><rect x="79.16" y="74.62" width="7.09" height="6.52" fill="#ffff00"/><rect x="6.65" y="80.64" width="7.09" height="6.52" fill="#ffa500"/><rect x="13.24" y="80.64" width="7.09" height="6.52" fill="#ff0000"/><rect x="19.83" y="80.64" width="7.09" height="6.52" fill="#ff0000"/><rect x="26.42" y="80.64" width="7.09" height="6.52" fill="#00b200"/><rect x="33.02" y="80.64" width="7.09" height="6.52" fill="#00b200"/><rect x="39.61" y="80.64" width="7.09" height="6.52" fill="#006400"/><rect x="46.20" y="80.64" width="7.09" height="6.52" fill="#00b200"/><rect x="52.79" y="80.64" width="7.09" height="6.52" fill="#ff6b00"/><rect x="59.38" y="80.64" width="7.09" height="6.52" fill="#ff6b00"/><rect x="65.97" y="80.64" width="7.09" height="6.52" fill="#ff6b00"/><rect x="72.57" y="80.64" width="7.09" height="6.52" fill="#ffff00"/><rect x="79.16" y="80.64" width="7.09" height="6.52" fill="#ffff00"/><rect x="6.65" y="86.66" width="7.09" height="6.52" fill="#ff0000"/><rect x="13.24" y="86.66" width="7.09" height="6.52" fill="#ff0000"/><rect x="19.83" y="86.66" width="7.09" height="6.52" fill="#ff0000"/><rect x="26.42" y="86.66" width="7.09" height="6.52" fill="#00b200"/><rect x="33.02" y="86.66" width="7.09" height="6.52" fill="#00d800"/><rect x="39.61" y="86.66" width="7.09" height="6.52" fill="#00d800"/><rect x="46.20" y="86.66" width="7.09" height="6.52" fill="#ffd200"/><rect x="52.79" y="86.66" width="7.09" height="6.52" fill="#ffd200"/><rect x="59.38" y="86.66" width="7.09" height="6.52" fill="#ffd200"/><rect x="65.97" y="86.66" width="7.09" height="6.52" fill="#bfff00"/><rect x="72.57" y="86.66" width="7.09" height="6.52" fill="#bfff00"/><rect x="79.16" y="86.66" width="7.09" height="6.52" fill="#bfff00"/><rect x="6.65" y="92.68" width="7.09" height="6.52" fill="#c50000"/><rect x="13.24" y="92.68" width="7.09" height="6.52" fill="#c50000"/><rect x="19.83" y="92.68" width="7.09" height="6.52" fill="#ffff00"/><rect x="26.42" y="92.68" width="7.09" height="6.52" fill="#006400"/><rect x="33.02" y="92.68" width="7.09" height="6.52" fill="#00d800"/><rect x="39.61" y="92.68" width="7.09" height="6.52" fill="#00d800"/><rect x="46.20" y="92.68" width="7.09" height="6.52" fill="#80ff00"/><rect x="52.79" y="92.68" width="7.09" height="6.52" fill="#ffd200"/><rect x="59.38" y="92.68" width="7.09" height="6.52" fill="#ffe800"/><rect x="65.97" y="92.68" width="7.09" height="6.52" fill="#ffff00"/><rect x="72.57" y="92.68" width="7.09" height="6.52" fill="#ffff00"/><rect x="79.16" y="92.68" width="7.09" height="6.52" fill="#bfff00"/><rect x="6.65" y="98.71" width="7.09" height="6.52" fill="#ffa500"/><rect x="13.24" y="98.71" width="7.09" height="6.52" fill="#ffa500"/><rect x="19.83" y="98.71" width="7.09" height="6.52" fill="#006400"/><rect x="26.42" y="98.71" width="7.09" height="6.52" fill="#006400"/><rect x="33.02" y="98.71" width="7.09" height="6.52" fill="#40ff00"/><rect x="39.61" y="98.71" width="7.09" height="6.52" fill="#ffa500"/><rect x="46.20" y="98.71" width="7.09" height="6.52" fill="#ffff00"/><rect x="52.79" y="98.71" width="7.09" height="6.52" fill="#ffa500"/><rect x="59.38" y="98.71" width="7.09" height="6.52" fill="#ffd200"/><rect x="65.97" y="98.71" width="7.09" height="6.52" fill="#ffff00"/><rect x="72.57" y="98.71" width="7.09" height="6.52" fill="#ffff00"/><rect x="79.16" y="98.71" width="7.09" height="6.52" fill="#bfff00"/><rect x="6.65" y="104.73" width="7.09" height="6.52" fill="#ff0000"/><rect x="13.24" y="104.73" width="7.09" height="6.52" fill="#ffa500"/><rect x="19.83" y="104.73" width="7.09" height="6.52" fill="#ffff00"/><rect x="26.42" y="104.73" width="7.09" height="6.52" fill="#ffff00"/><rect x="33.02" y="104.73" width="7.09" height="6.52" fill="#40ff00"/><rect x="39.61" y="104.73" width="7.09" height="6.52" fill="#ffd200"/><rect x="46.20" y="104.73" width="7.09" height="6.52" fill="#ffa500"/><rect x="52.79" y="104.73" width="7.09" height="6.52" fill="#ffa500"/><rect x="59.38" y="104.73" width="7.09" height="6.52" fill="#ffa500"/><rect x="65.97" y="104.73" width="7.09" height="6.52" fill="#ffa500"/><rect x="72.57" y="104.73" width="7.09" height="6.52" fill="#ffff00"/><rect x="79.16" y="104.73" width="7.09" height="6.52" fill="#ffff00"/></g><g fill="none" stroke="#b0b0b0" stroke-width="1.2"><path clip-path="url(#cNE)" d="M69.10 29.90v5.78M74.70 29.90v5.78M80.30 29.90v5.78M85.90 29.90v5.78M108.30 29.90v5.78M113.90 29.90v5.78M119.50 29.90v5.78M125.10 29.90v5.78M130.70 29.90v5.78M136.30 29.90v5.78M141.90 29.90v5.78M147.50 29.90v5.78M153.10 29.90v5.78M158.70 29.90v5.78M69.10 35.68v5.78M74.70 35.68v5.78M80.30 35.68v5.78M85.90 35.68v5.78M108.30 35.68v5.78M113.90 35.68v5.78M119.50 35.68v5.78M125.10 35.68v5.78M130.70 35.68v5.78M136.30 35.68v5.78M141.90 35.68v5.78M147.50 35.68v5.78M153.10 35.68v5.78M158.70 35.68v5.78M69.10 41.46v5.78M80.30 41.46v5.78M85.90 41.46v5.78M91.50 41.46v5.78M97.10 41.46v5.78M102.70 41.46v5.78M108.30 41.46v5.78M113.90 41.46v5.78M119.50 41.46v5.78M125.10 41.46v5.78M130.70 41.46v5.78M136.30 41.46v5.78M141.90 41.46v5.78M147.50 41.46v5.78M153.10 41.46v5.78M158.70 41.46v5.78M69.10 47.24v5.78M80.30 47.24v5.78M85.90 47.24v5.78M91.50 47.24v5.78M97.10 47.24v5.78M102.70 47.24v5.78M108.30 47.24v5.78M113.90 47.24v5.78M119.50 47.24v5.78M125.10 47.24v5.78M130.70 47.24v5.78M136.30 47.24v5.78M141.90 47.24v5.78M147.50 47.24v5.78M153.10 47.24v5.78M158.70 47.24v5.78M69.10 53.01v5.78M80.30 53.01v5.78M85.90 53.01v5.78M91.50 53.01v5.78M97.10 53.01v5.78M102.70 53.01v5.78M108.30 53.01v5.78M113.90 53.01v5.78M119.50 53.01v5.78M125.10 53.01v5.78M130.70 53.01v5.78M136.30 53.01v5.78M141.90 53.01v5.78M147.50 53.01v5.78M153.10 53.01v5.78M158.70 53.01v5.78M91.50 58.79v5.78M97.10 58.79v5.78M108.30 58.79v5.78M113.90 58.79v5.78M119.50 58.79v5.78M125.10 58.79v5.78M130.70 58.79v5.78M136.30 58.79v5.78M141.90 58.79v5.78M147.50 58.79v5.78M153.10 58.79v5.78M158.70 58.79v5.78M91.50 64.57v5.78M97.10 64.57v5.78M102.70 64.57v5.78M108.30 64.57v5.78M113.90 64.57v5.78M119.50 64.57v5.78M125.10 64.57v5.78M130.70 64.57v5.78M136.30 64.57v5.78M141.90 64.57v5.78M147.50 64.57v5.78M153.10 64.57v5.78M158.70 64.57v5.78M69.10 35.68h5.60M74.70 35.68h5.60M108.30 35.68h5.60M113.90 35.68h5.60M119.50 35.68h5.60M125.10 35.68h5.60M130.70 35.68h5.60M136.30 35.68h5.60M141.90 35.68h5.60M147.50 35.68h5.60M153.10 35.68h5.60M158.70 35.68h5.60M63.50 41.46h5.60M74.70 41.46h5.60M85.90 41.46h5.60M91.50 41.46h5.60M97.10 41.46h5.60M102.70 41.46h5.60M108.30 41.46h5.60M113.90 41.46h5.60M119.50 41.46h5.60M125.10 41.46h5.60M130.70 41.46h5.60M136.30 41.46h5.60M141.90 41.46h5.60M147.50 41.46h5.60M153.10 41.46h5.60M158.70 41.46h5.60M63.50 47.24h5.60M69.10 47.24h5.60M74.70 47.24h5.60M80.30 47.24h5.60M85.90 47.24h5.60M91.50 47.24h5.60M97.10 47.24h5.60M102.70 47.24h5.60M108.30 47.24h5.60M113.90 47.24h5.60M119.50 47.24h5.60M125.10 47.24h5.60M130.70 47.24h5.60M136.30 47.24h5.60M141.90 47.24h5.60M147.50 47.24h5.60M153.10 47.24h5.60M158.70 47.24h5.60M63.50 53.01h5.60M69.10 53.01h5.60M74.70 53.01h5.60M80.30 53.01h5.60M85.90 53.01h5.60M91.50 53.01h5.60M97.10 53.01h5.60M108.30 53.01h5.60M113.90 53.01h5.60M119.50 53.01h5.60M125.10 53.01h5.60M130.70 53.01h5.60M136.30 53.01h5.60M141.90 53.01h5.60M147.50 53.01h5.60M153.10 53.01h5.60M158.70 53.01h5.60M85.90 58.79h5.60M91.50 58.79h5.60M97.10 58.79h5.60M102.70 58.79h5.60M108.30 58.79h5.60M113.90 58.79h5.60M119.50 58.79h5.60M125.10 58.79h5.60M130.70 58.79h5.60M136.30 58.79h5.60M141.90 58.79h5.60M147.50 58.79h5.60M153.10 58.79h5.60M158.70 58.79h5.60M85.90 64.57h5.60M91.50 64.57h5.60M97.10 64.57h5.60M102.70 64.57h5.60M108.30 64.57h5.60M113.90 64.57h5.60M119.50 64.57h5.60M125.10 64.57h5.60M130.70 64.57h5.60M136.30 64.57h5.60M141.90 64.57h5.60M147.50 64.57h5.60M153.10 64.57h5.60M158.70 64.57h5.60"/><path clip-path="url(#cCO)" d="M26.67 56.80v6.02M33.27 56.80v6.02M39.86 56.80v6.02M46.45 56.80v6.02M53.04 56.80v6.02M66.22 56.80v6.02M79.41 56.80v6.02M26.67 62.82v6.02M33.27 62.82v6.02M39.86 62.82v6.02M46.45 62.82v6.02M53.04 62.82v6.02M59.63 62.82v6.02M66.22 62.82v6.02M79.41 62.82v6.02M20.08 68.84v6.02M26.67 68.84v6.02M33.27 68.84v6.02M39.86 68.84v6.02M46.45 68.84v6.02M53.04 68.84v6.02M66.22 68.84v6.02M72.82 68.84v6.02M79.41 68.84v6.02M26.67 74.87v6.02M33.27 74.87v6.02M39.86 74.87v6.02M46.45 74.87v6.02M53.04 74.87v6.02M59.63 74.87v6.02M66.22 74.87v6.02M72.82 74.87v6.02M13.49 80.89v6.02M20.08 80.89v6.02M26.67 80.89v6.02M33.27 80.89v6.02M39.86 80.89v6.02M46.45 80.89v6.02M53.04 80.89v6.02M59.63 80.89v6.02M72.82 80.89v6.02M13.49 86.91v6.02M20.08 86.91v6.02M26.67 86.91v6.02M33.27 86.91v6.02M39.86 86.91v6.02M46.45 86.91v6.02M53.04 86.91v6.02M59.63 86.91v6.02M66.22 86.91v6.02M72.82 86.91v6.02M13.49 92.93v6.02M20.08 92.93v6.02M26.67 92.93v6.02M33.27 92.93v6.02M39.86 92.93v6.02M46.45 92.93v6.02M53.04 92.93v6.02M59.63 92.93v6.02M66.22 92.93v6.02M79.41 92.93v6.02M13.49 98.96v6.02M20.08 98.96v6.02M26.67 98.96v6.02M33.27 98.96v6.02M39.86 98.96v6.02M46.45 98.96v6.02M53.04 98.96v6.02M59.63 98.96v6.02M66.22 98.96v6.02M79.41 98.96v6.02M13.49 104.98v6.02M20.08 104.98v6.02M26.67 104.98v6.02M33.27 104.98v6.02M39.86 104.98v6.02M46.45 104.98v6.02M66.22 104.98v6.02M72.82 104.98v6.02M33.27 62.82h6.59M39.86 62.82h6.59M46.45 62.82h6.59M59.63 62.82h6.59M66.22 62.82h6.59M72.82 62.82h6.59M79.41 62.82h6.59M6.90 68.84h6.59M13.49 68.84h6.59M20.08 68.84h6.59M26.67 68.84h6.59M39.86 68.84h6.59M46.45 68.84h6.59M53.04 68.84h6.59M59.63 68.84h6.59M72.82 68.84h6.59M6.90 74.87h6.59M13.49 74.87h6.59M26.67 74.87h6.59M33.27 74.87h6.59M39.86 74.87h6.59M46.45 74.87h6.59M53.04 74.87h6.59M59.63 74.87h6.59M66.22 74.87h6.59M72.82 74.87h6.59M79.41 74.87h6.59M6.90 80.89h6.59M13.49 80.89h6.59M20.08 80.89h6.59M26.67 80.89h6.59M33.27 80.89h6.59M39.86 80.89h6.59M46.45 80.89h6.59M53.04 80.89h6.59M59.63 80.89h6.59M66.22 80.89h6.59M6.90 86.91h6.59M13.49 86.91h6.59M20.08 86.91h6.59M33.27 86.91h6.59M39.86 86.91h6.59M46.45 86.91h6.59M53.04 86.91h6.59M59.63 86.91h6.59M66.22 86.91h6.59M72.82 86.91h6.59M79.41 86.91h6.59M6.90 92.93h6.59M13.49 92.93h6.59M20.08 92.93h6.59M26.67 92.93h6.59M33.27 92.93h6.59M39.86 92.93h6.59M46.45 92.93h6.59M53.04 92.93h6.59M59.63 92.93h6.59M66.22 92.93h6.59M72.82 92.93h6.59M79.41 92.93h6.59M6.90 98.96h6.59M13.49 98.96h6.59M20.08 98.96h6.59M26.67 98.96h6.59M33.27 98.96h6.59M39.86 98.96h6.59M46.45 98.96h6.59M53.04 98.96h6.59M59.63 98.96h6.59M6.90 104.98h6.59M13.49 104.98h6.59M20.08 104.98h6.59M26.67 104.98h6.59M33.27 104.98h6.59M39.86 104.98h6.59M46.45 104.98h6.59M59.63 104.98h6.59M66.22 104.98h6.59M72.82 104.98h6.59M79.41 104.98h6.59"/></g><use href="#grid"/><use href="#outl"/></g>
<defs><linearGradient id="lg" x1="0" y1="1" x2="0" y2="0"><stop offset="0.000" stop-color="#006400"/><stop offset="0.050" stop-color="#008b00"/><stop offset="0.100" stop-color="#00b200"/><stop offset="0.150" stop-color="#00d800"/><stop offset="0.200" stop-color="#00ff00"/><stop offset="0.250" stop-color="#40ff00"/><stop offset="0.300" stop-color="#80ff00"/><stop offset="0.350" stop-color="#bfff00"/><stop offset="0.400" stop-color="#ffff00"/><stop offset="0.450" stop-color="#ffe800"/><stop offset="0.500" stop-color="#ffd200"/><stop offset="0.550" stop-color="#ffbc00"/><stop offset="0.600" stop-color="#ffa500"/><stop offset="0.650" stop-color="#ff7c00"/><stop offset="0.700" stop-color="#ff5200"/><stop offset="0.750" stop-color="#ff2900"/><stop offset="0.800" stop-color="#ff0000"/><stop offset="0.850" stop-color="#e20000"/><stop offset="0.900" stop-color="#c50000"/><stop offset="0.950" stop-color="#a80000"/><stop offset="1.000" stop-color="#8b0000"/></linearGradient></defs><rect x="557.5" y="135.3" width="20.7" height="103.3" fill="url(#lg)"/><path d="M557.5 236.2h4M578.2 236.2h-4" stroke="#e6e6e6" stroke-width="0.8" opacity="0.9"/><text x="585.2" y="239.9" class="lab">0</text><path d="M557.5 211.6h4M578.2 211.6h-4" stroke="#e6e6e6" stroke-width="0.8" opacity="0.9"/><text x="585.2" y="215.3" class="lab">25</text><path d="M557.5 187.1h4M578.2 187.1h-4" stroke="#e6e6e6" stroke-width="0.8" opacity="0.9"/><text x="585.2" y="190.8" class="lab">50</text><path d="M557.5 162.5h4M578.2 162.5h-4" stroke="#e6e6e6" stroke-width="0.8" opacity="0.9"/><text x="585.2" y="166.2" class="lab">75</text><path d="M557.5 137.9h4M578.2 137.9h-4" stroke="#e6e6e6" stroke-width="0.8" opacity="0.9"/><text x="585.2" y="141.6" class="lab">100</text><text x="557.2" y="127.1" class="cm">(cm)</text>
</svg>
</body></html>
